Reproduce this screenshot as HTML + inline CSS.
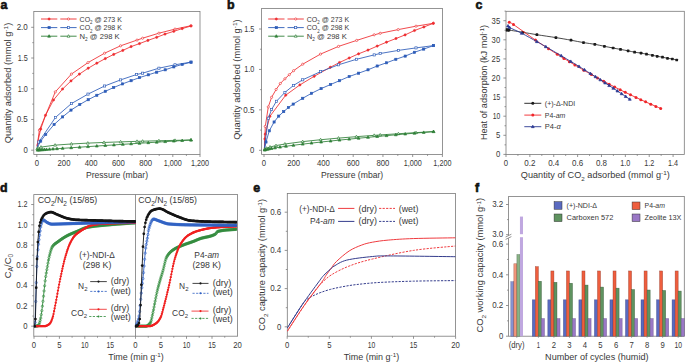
<!DOCTYPE html>
<html><head><meta charset="utf-8"><style>
html,body{margin:0;padding:0;background:#fff;width:685px;height:362px;overflow:hidden;position:relative}
svg text{font-family:"Liberation Sans",sans-serif}
</style></head><body>
<svg width="685" height="362" viewBox="0 0 685 362" style="position:absolute;left:0;top:0">
<rect width="685" height="362" fill="#fff"/>
<g font-family='"Liberation Sans", sans-serif'>
<rect x="33.8" y="11.5" width="166.2" height="142.9" fill="none" stroke="#7a7a7a" stroke-width="0.8"/>
<line x1="36.8" y1="154.4" x2="36.8" y2="157" stroke="#7a7a7a" stroke-width="0.8" />
<line x1="64" y1="154.4" x2="64" y2="157" stroke="#7a7a7a" stroke-width="0.8" />
<line x1="91.2" y1="154.4" x2="91.2" y2="157" stroke="#7a7a7a" stroke-width="0.8" />
<line x1="118.4" y1="154.4" x2="118.4" y2="157" stroke="#7a7a7a" stroke-width="0.8" />
<line x1="145.6" y1="154.4" x2="145.6" y2="157" stroke="#7a7a7a" stroke-width="0.8" />
<line x1="172.8" y1="154.4" x2="172.8" y2="157" stroke="#7a7a7a" stroke-width="0.8" />
<line x1="200" y1="154.4" x2="200" y2="157" stroke="#7a7a7a" stroke-width="0.8" />
<line x1="50.4" y1="154.4" x2="50.4" y2="155.9" stroke="#7a7a7a" stroke-width="0.8" />
<line x1="77.6" y1="154.4" x2="77.6" y2="155.9" stroke="#7a7a7a" stroke-width="0.8" />
<line x1="104.8" y1="154.4" x2="104.8" y2="155.9" stroke="#7a7a7a" stroke-width="0.8" />
<line x1="132" y1="154.4" x2="132" y2="155.9" stroke="#7a7a7a" stroke-width="0.8" />
<line x1="159.2" y1="154.4" x2="159.2" y2="155.9" stroke="#7a7a7a" stroke-width="0.8" />
<line x1="186.4" y1="154.4" x2="186.4" y2="155.9" stroke="#7a7a7a" stroke-width="0.8" />
<line x1="33.8" y1="150.2" x2="31.2" y2="150.2" stroke="#7a7a7a" stroke-width="0.8" />
<line x1="33.8" y1="119.47" x2="31.2" y2="119.47" stroke="#7a7a7a" stroke-width="0.8" />
<line x1="33.8" y1="88.75" x2="31.2" y2="88.75" stroke="#7a7a7a" stroke-width="0.8" />
<line x1="33.8" y1="58.02" x2="31.2" y2="58.02" stroke="#7a7a7a" stroke-width="0.8" />
<line x1="33.8" y1="27.3" x2="31.2" y2="27.3" stroke="#7a7a7a" stroke-width="0.8" />
<line x1="33.8" y1="134.84" x2="32.3" y2="134.84" stroke="#7a7a7a" stroke-width="0.8" />
<line x1="33.8" y1="104.11" x2="32.3" y2="104.11" stroke="#7a7a7a" stroke-width="0.8" />
<line x1="33.8" y1="73.39" x2="32.3" y2="73.39" stroke="#7a7a7a" stroke-width="0.8" />
<line x1="33.8" y1="42.66" x2="32.3" y2="42.66" stroke="#7a7a7a" stroke-width="0.8" />
<text x="36.8" y="165.9" font-size="8.4" text-anchor="middle" fill="#383838" textLength="4.3" lengthAdjust="spacingAndGlyphs" >0</text>
<text x="64" y="165.9" font-size="8.4" text-anchor="middle" fill="#383838" textLength="12.89" lengthAdjust="spacingAndGlyphs" >200</text>
<text x="91.2" y="165.9" font-size="8.4" text-anchor="middle" fill="#383838" textLength="12.89" lengthAdjust="spacingAndGlyphs" >400</text>
<text x="118.4" y="165.9" font-size="8.4" text-anchor="middle" fill="#383838" textLength="12.89" lengthAdjust="spacingAndGlyphs" >600</text>
<text x="145.6" y="165.9" font-size="8.4" text-anchor="middle" fill="#383838" textLength="12.89" lengthAdjust="spacingAndGlyphs" >800</text>
<text x="172.8" y="165.9" font-size="8.4" text-anchor="middle" fill="#383838" textLength="18.07" lengthAdjust="spacingAndGlyphs" >1,000</text>
<text x="200" y="165.9" font-size="8.4" text-anchor="middle" fill="#383838" textLength="18.07" lengthAdjust="spacingAndGlyphs" >1,200</text>
<text x="27.8" y="152.95" font-size="8.4" text-anchor="end" fill="#383838" textLength="4.3" lengthAdjust="spacingAndGlyphs" >0</text>
<text x="27.8" y="122.22" font-size="8.4" text-anchor="end" fill="#383838" textLength="11.15" lengthAdjust="spacingAndGlyphs" >0.5</text>
<text x="27.8" y="91.5" font-size="8.4" text-anchor="end" fill="#383838" textLength="10.09" lengthAdjust="spacingAndGlyphs" >1.0</text>
<text x="27.8" y="60.77" font-size="8.4" text-anchor="end" fill="#383838" textLength="10.09" lengthAdjust="spacingAndGlyphs" >1.5</text>
<text x="27.8" y="30.05" font-size="8.4" text-anchor="end" fill="#383838" textLength="11.15" lengthAdjust="spacingAndGlyphs" >2.0</text>
<text x="117" y="177.8" font-size="8.6" text-anchor="middle" fill="#383838" textLength="62.2" lengthAdjust="spacingAndGlyphs" >Pressure (mbar)</text>
<text x="11.3" y="83" font-size="8.6" text-anchor="middle" fill="#383838" textLength="120.5" lengthAdjust="spacingAndGlyphs" transform="rotate(-90 11.3 83)" >Quantity adsorbed (mmol g<tspan font-size="70%" dy="-2.8">-1</tspan><tspan dy="2.8">&#8203;</tspan>)</text>
<line x1="41" y1="19" x2="57.3" y2="19" stroke="#ee2b2e" stroke-width="0.9" />
<line x1="60.3" y1="19" x2="76.6" y2="19" stroke="#ee2b2e" stroke-width="0.9" />
<circle cx="49.1" cy="19" r="1.1" fill="#ee2b2e" stroke="#ee2b2e" stroke-width="0.65"/>
<circle cx="68.5" cy="19" r="1.1" fill="#fff" stroke="#ee2b2e" stroke-width="0.65"/>
<text x="79.6" y="21.5" font-size="7.2" text-anchor="start" fill="#383838" textLength="42.3" lengthAdjust="spacingAndGlyphs" >CO<tspan font-size="62%" dy="2.4">2</tspan><tspan dy="-2.4">&#8203;</tspan> @ 273 K</text>
<line x1="41" y1="27.6" x2="57.3" y2="27.6" stroke="#2d5cb8" stroke-width="0.9" />
<line x1="60.3" y1="27.6" x2="76.6" y2="27.6" stroke="#2d5cb8" stroke-width="0.9" />
<rect x="48.02" y="26.52" width="2.16" height="2.16" fill="#2d5cb8" stroke="#2d5cb8" stroke-width="0.65"/>
<rect x="67.42" y="26.52" width="2.16" height="2.16" fill="#fff" stroke="#2d5cb8" stroke-width="0.65"/>
<text x="79.6" y="30.1" font-size="7.2" text-anchor="start" fill="#383838" textLength="42.3" lengthAdjust="spacingAndGlyphs" >CO<tspan font-size="62%" dy="2.4">2</tspan><tspan dy="-2.4">&#8203;</tspan> @ 298 K</text>
<line x1="41" y1="36.2" x2="57.3" y2="36.2" stroke="#2f8038" stroke-width="0.9" />
<line x1="60.3" y1="36.2" x2="76.6" y2="36.2" stroke="#2f8038" stroke-width="0.9" />
<path d="M49.1,34.7 L50.52,37.18 L47.68,37.18Z" fill="#2f8038" stroke="#2f8038" stroke-width="0.7"/>
<path d="M68.5,34.7 L69.92,37.18 L67.08,37.18Z" fill="#fff" stroke="#2f8038" stroke-width="0.7"/>
<text x="79.6" y="38.7" font-size="7.2" text-anchor="start" fill="#383838" textLength="40" lengthAdjust="spacingAndGlyphs" >N<tspan font-size="62%" dy="2.4">2</tspan><tspan dy="-2.4">&#8203;</tspan> @ 298 K</text>
<polyline points="37.1,146.5 39.4,130.1 55.3,91.9 71.4,74.1 88,62.6 104.6,53.2 120.6,45.8 137,40.1 142.6,38.2 158.9,33.2 175,29.1 191,25.7" fill="none" stroke="#ee2b2e" stroke-width="0.85"/>
<circle cx="39.4" cy="130.1" r="1.1" fill="#fff" stroke="#ee2b2e" stroke-width="0.65"/>
<circle cx="55.3" cy="91.9" r="1.1" fill="#fff" stroke="#ee2b2e" stroke-width="0.65"/>
<circle cx="71.4" cy="74.1" r="1.1" fill="#fff" stroke="#ee2b2e" stroke-width="0.65"/>
<circle cx="88" cy="62.6" r="1.1" fill="#fff" stroke="#ee2b2e" stroke-width="0.65"/>
<circle cx="104.6" cy="53.2" r="1.1" fill="#fff" stroke="#ee2b2e" stroke-width="0.65"/>
<circle cx="120.6" cy="45.8" r="1.1" fill="#fff" stroke="#ee2b2e" stroke-width="0.65"/>
<circle cx="137" cy="40.1" r="1.1" fill="#fff" stroke="#ee2b2e" stroke-width="0.65"/>
<circle cx="142.6" cy="38.2" r="1.1" fill="#fff" stroke="#ee2b2e" stroke-width="0.65"/>
<circle cx="158.9" cy="33.2" r="1.1" fill="#fff" stroke="#ee2b2e" stroke-width="0.65"/>
<circle cx="175" cy="29.1" r="1.1" fill="#fff" stroke="#ee2b2e" stroke-width="0.65"/>
<circle cx="191" cy="25.7" r="1.1" fill="#fff" stroke="#ee2b2e" stroke-width="0.65"/>
<polyline points="36.9,145.8 40.7,129.1 45.5,115.3 53.5,100 62.6,89 71,80.9 79.4,74.1 88.2,68.2 96.8,63.2 105.3,58.6 113.7,54.4 122.8,50.4 131.1,46.6 139.5,43.6 147.9,40.4 156.7,37.3 165,34.1 173.8,31.3 182.2,28.6 191,26" fill="none" stroke="#ee2b2e" stroke-width="0.85"/>
<circle cx="40.7" cy="129.1" r="1.1" fill="#ee2b2e" stroke="#ee2b2e" stroke-width="0.65"/>
<circle cx="45.5" cy="115.3" r="1.1" fill="#ee2b2e" stroke="#ee2b2e" stroke-width="0.65"/>
<circle cx="53.5" cy="100" r="1.1" fill="#ee2b2e" stroke="#ee2b2e" stroke-width="0.65"/>
<circle cx="62.6" cy="89" r="1.1" fill="#ee2b2e" stroke="#ee2b2e" stroke-width="0.65"/>
<circle cx="71" cy="80.9" r="1.1" fill="#ee2b2e" stroke="#ee2b2e" stroke-width="0.65"/>
<circle cx="79.4" cy="74.1" r="1.1" fill="#ee2b2e" stroke="#ee2b2e" stroke-width="0.65"/>
<circle cx="88.2" cy="68.2" r="1.1" fill="#ee2b2e" stroke="#ee2b2e" stroke-width="0.65"/>
<circle cx="96.8" cy="63.2" r="1.1" fill="#ee2b2e" stroke="#ee2b2e" stroke-width="0.65"/>
<circle cx="105.3" cy="58.6" r="1.1" fill="#ee2b2e" stroke="#ee2b2e" stroke-width="0.65"/>
<circle cx="113.7" cy="54.4" r="1.1" fill="#ee2b2e" stroke="#ee2b2e" stroke-width="0.65"/>
<circle cx="122.8" cy="50.4" r="1.1" fill="#ee2b2e" stroke="#ee2b2e" stroke-width="0.65"/>
<circle cx="131.1" cy="46.6" r="1.1" fill="#ee2b2e" stroke="#ee2b2e" stroke-width="0.65"/>
<circle cx="139.5" cy="43.6" r="1.1" fill="#ee2b2e" stroke="#ee2b2e" stroke-width="0.65"/>
<circle cx="147.9" cy="40.4" r="1.1" fill="#ee2b2e" stroke="#ee2b2e" stroke-width="0.65"/>
<circle cx="156.7" cy="37.3" r="1.1" fill="#ee2b2e" stroke="#ee2b2e" stroke-width="0.65"/>
<circle cx="165" cy="34.1" r="1.1" fill="#ee2b2e" stroke="#ee2b2e" stroke-width="0.65"/>
<circle cx="173.8" cy="31.3" r="1.1" fill="#ee2b2e" stroke="#ee2b2e" stroke-width="0.65"/>
<circle cx="182.2" cy="28.6" r="1.1" fill="#ee2b2e" stroke="#ee2b2e" stroke-width="0.65"/>
<circle cx="191" cy="26" r="1.1" fill="#ee2b2e" stroke="#ee2b2e" stroke-width="0.65"/>
<polyline points="37.2,147 38.8,142 55.5,117.4 71.4,103.6 88,94.1 104.6,86 120.6,79.9 136.6,74.5 142.6,73.2 158.9,68.2 175,64.8 191,62.1" fill="none" stroke="#2d5cb8" stroke-width="0.85"/>
<rect x="37.72" y="140.92" width="2.16" height="2.16" fill="#fff" stroke="#2d5cb8" stroke-width="0.65"/>
<rect x="54.42" y="116.32" width="2.16" height="2.16" fill="#fff" stroke="#2d5cb8" stroke-width="0.65"/>
<rect x="70.32" y="102.52" width="2.16" height="2.16" fill="#fff" stroke="#2d5cb8" stroke-width="0.65"/>
<rect x="86.92" y="93.02" width="2.16" height="2.16" fill="#fff" stroke="#2d5cb8" stroke-width="0.65"/>
<rect x="103.52" y="84.92" width="2.16" height="2.16" fill="#fff" stroke="#2d5cb8" stroke-width="0.65"/>
<rect x="119.52" y="78.82" width="2.16" height="2.16" fill="#fff" stroke="#2d5cb8" stroke-width="0.65"/>
<rect x="135.52" y="73.42" width="2.16" height="2.16" fill="#fff" stroke="#2d5cb8" stroke-width="0.65"/>
<rect x="141.52" y="72.12" width="2.16" height="2.16" fill="#fff" stroke="#2d5cb8" stroke-width="0.65"/>
<rect x="157.82" y="67.12" width="2.16" height="2.16" fill="#fff" stroke="#2d5cb8" stroke-width="0.65"/>
<rect x="173.92" y="63.72" width="2.16" height="2.16" fill="#fff" stroke="#2d5cb8" stroke-width="0.65"/>
<rect x="189.92" y="61.02" width="2.16" height="2.16" fill="#fff" stroke="#2d5cb8" stroke-width="0.65"/>
<polyline points="37,148 40.7,141.1 45.7,134.5 54.1,124.5 62.6,116.9 71,110.1 79.8,104.5 88.2,99.7 96.8,95.3 105.3,91.3 113.7,87.5 122.5,83.9 131.1,80.7 139.5,77.6 148.3,74.8 156.7,72.2 165.2,69.8 173.8,66.9 182.2,64.4 191,62.2" fill="none" stroke="#2d5cb8" stroke-width="0.85"/>
<rect x="39.62" y="140.02" width="2.16" height="2.16" fill="#2d5cb8" stroke="#2d5cb8" stroke-width="0.65"/>
<rect x="44.62" y="133.42" width="2.16" height="2.16" fill="#2d5cb8" stroke="#2d5cb8" stroke-width="0.65"/>
<rect x="53.02" y="123.42" width="2.16" height="2.16" fill="#2d5cb8" stroke="#2d5cb8" stroke-width="0.65"/>
<rect x="61.52" y="115.82" width="2.16" height="2.16" fill="#2d5cb8" stroke="#2d5cb8" stroke-width="0.65"/>
<rect x="69.92" y="109.02" width="2.16" height="2.16" fill="#2d5cb8" stroke="#2d5cb8" stroke-width="0.65"/>
<rect x="78.72" y="103.42" width="2.16" height="2.16" fill="#2d5cb8" stroke="#2d5cb8" stroke-width="0.65"/>
<rect x="87.12" y="98.62" width="2.16" height="2.16" fill="#2d5cb8" stroke="#2d5cb8" stroke-width="0.65"/>
<rect x="95.72" y="94.22" width="2.16" height="2.16" fill="#2d5cb8" stroke="#2d5cb8" stroke-width="0.65"/>
<rect x="104.22" y="90.22" width="2.16" height="2.16" fill="#2d5cb8" stroke="#2d5cb8" stroke-width="0.65"/>
<rect x="112.62" y="86.42" width="2.16" height="2.16" fill="#2d5cb8" stroke="#2d5cb8" stroke-width="0.65"/>
<rect x="121.42" y="82.82" width="2.16" height="2.16" fill="#2d5cb8" stroke="#2d5cb8" stroke-width="0.65"/>
<rect x="130.02" y="79.62" width="2.16" height="2.16" fill="#2d5cb8" stroke="#2d5cb8" stroke-width="0.65"/>
<rect x="138.42" y="76.52" width="2.16" height="2.16" fill="#2d5cb8" stroke="#2d5cb8" stroke-width="0.65"/>
<rect x="147.22" y="73.72" width="2.16" height="2.16" fill="#2d5cb8" stroke="#2d5cb8" stroke-width="0.65"/>
<rect x="155.62" y="71.12" width="2.16" height="2.16" fill="#2d5cb8" stroke="#2d5cb8" stroke-width="0.65"/>
<rect x="164.12" y="68.72" width="2.16" height="2.16" fill="#2d5cb8" stroke="#2d5cb8" stroke-width="0.65"/>
<rect x="172.72" y="65.82" width="2.16" height="2.16" fill="#2d5cb8" stroke="#2d5cb8" stroke-width="0.65"/>
<rect x="181.12" y="63.32" width="2.16" height="2.16" fill="#2d5cb8" stroke="#2d5cb8" stroke-width="0.65"/>
<rect x="189.92" y="61.12" width="2.16" height="2.16" fill="#2d5cb8" stroke="#2d5cb8" stroke-width="0.65"/>
<polyline points="37.3,148.66 38.3,147.99 41,147.09 55.1,145.15 71.4,143.97 87.8,143.12 104,142.45 120.6,141.86 137,141.35 142.6,141.19 158.9,140.76 175,140.36 191,140" fill="none" stroke="#2f8038" stroke-width="0.85"/>
<path d="M37.3,147.16 L38.72,149.64 L35.88,149.64Z" fill="#fff" stroke="#2f8038" stroke-width="0.7"/>
<path d="M38.3,146.49 L39.72,148.96 L36.88,148.96Z" fill="#fff" stroke="#2f8038" stroke-width="0.7"/>
<path d="M41,145.59 L42.42,148.07 L39.58,148.07Z" fill="#fff" stroke="#2f8038" stroke-width="0.7"/>
<path d="M55.1,143.65 L56.52,146.13 L53.68,146.13Z" fill="#fff" stroke="#2f8038" stroke-width="0.7"/>
<path d="M71.4,142.47 L72.83,144.95 L69.98,144.95Z" fill="#fff" stroke="#2f8038" stroke-width="0.7"/>
<path d="M87.8,141.62 L89.22,144.1 L86.38,144.1Z" fill="#fff" stroke="#2f8038" stroke-width="0.7"/>
<path d="M104,140.95 L105.42,143.42 L102.58,143.42Z" fill="#fff" stroke="#2f8038" stroke-width="0.7"/>
<path d="M120.6,140.36 L122.02,142.83 L119.17,142.83Z" fill="#fff" stroke="#2f8038" stroke-width="0.7"/>
<path d="M137,139.85 L138.43,142.33 L135.57,142.33Z" fill="#fff" stroke="#2f8038" stroke-width="0.7"/>
<path d="M142.6,139.69 L144.03,142.17 L141.17,142.17Z" fill="#fff" stroke="#2f8038" stroke-width="0.7"/>
<path d="M158.9,139.26 L160.33,141.73 L157.47,141.73Z" fill="#fff" stroke="#2f8038" stroke-width="0.7"/>
<path d="M175,138.86 L176.43,141.34 L173.57,141.34Z" fill="#fff" stroke="#2f8038" stroke-width="0.7"/>
<path d="M191,138.5 L192.43,140.97 L189.57,140.97Z" fill="#fff" stroke="#2f8038" stroke-width="0.7"/>
<polyline points="37.5,150.14 38.6,150.05 39.8,149.96 41.2,149.85 42.8,149.73 44.5,149.61 46.5,149.46 49.5,149.25 53,149 57,148.72 62.6,148.33 71.2,147.75 79.6,147.18 88,146.62 96.8,146.04 105.3,145.48 113.9,144.92 122.8,144.34 131.1,143.81 139.5,143.27 148.3,142.7 156.7,142.17 165.2,141.63 173.8,141.08 182.2,140.55 191,140" fill="none" stroke="#2f8038" stroke-width="0.85"/>
<path d="M37.5,148.64 L38.92,151.11 L36.08,151.11Z" fill="#2f8038" stroke="#2f8038" stroke-width="0.7"/>
<path d="M38.6,148.55 L40.02,151.03 L37.18,151.03Z" fill="#2f8038" stroke="#2f8038" stroke-width="0.7"/>
<path d="M39.8,148.46 L41.22,150.93 L38.38,150.93Z" fill="#2f8038" stroke="#2f8038" stroke-width="0.7"/>
<path d="M41.2,148.35 L42.62,150.83 L39.78,150.83Z" fill="#2f8038" stroke="#2f8038" stroke-width="0.7"/>
<path d="M42.8,148.23 L44.22,150.71 L41.38,150.71Z" fill="#2f8038" stroke="#2f8038" stroke-width="0.7"/>
<path d="M44.5,148.11 L45.92,150.58 L43.08,150.58Z" fill="#2f8038" stroke="#2f8038" stroke-width="0.7"/>
<path d="M46.5,147.96 L47.92,150.44 L45.08,150.44Z" fill="#2f8038" stroke="#2f8038" stroke-width="0.7"/>
<path d="M49.5,147.75 L50.92,150.22 L48.08,150.22Z" fill="#2f8038" stroke="#2f8038" stroke-width="0.7"/>
<path d="M53,147.5 L54.42,149.98 L51.58,149.98Z" fill="#2f8038" stroke="#2f8038" stroke-width="0.7"/>
<path d="M57,147.22 L58.42,149.7 L55.58,149.7Z" fill="#2f8038" stroke="#2f8038" stroke-width="0.7"/>
<path d="M62.6,146.83 L64.03,149.31 L61.18,149.31Z" fill="#2f8038" stroke="#2f8038" stroke-width="0.7"/>
<path d="M71.2,146.25 L72.62,148.72 L69.78,148.72Z" fill="#2f8038" stroke="#2f8038" stroke-width="0.7"/>
<path d="M79.6,145.68 L81.02,148.16 L78.17,148.16Z" fill="#2f8038" stroke="#2f8038" stroke-width="0.7"/>
<path d="M88,145.12 L89.42,147.6 L86.58,147.6Z" fill="#2f8038" stroke="#2f8038" stroke-width="0.7"/>
<path d="M96.8,144.54 L98.22,147.01 L95.38,147.01Z" fill="#2f8038" stroke="#2f8038" stroke-width="0.7"/>
<path d="M105.3,143.98 L106.72,146.46 L103.88,146.46Z" fill="#2f8038" stroke="#2f8038" stroke-width="0.7"/>
<path d="M113.9,143.42 L115.33,145.9 L112.48,145.9Z" fill="#2f8038" stroke="#2f8038" stroke-width="0.7"/>
<path d="M122.8,142.84 L124.22,145.32 L121.38,145.32Z" fill="#2f8038" stroke="#2f8038" stroke-width="0.7"/>
<path d="M131.1,142.31 L132.53,144.78 L129.67,144.78Z" fill="#2f8038" stroke="#2f8038" stroke-width="0.7"/>
<path d="M139.5,141.77 L140.93,144.24 L138.07,144.24Z" fill="#2f8038" stroke="#2f8038" stroke-width="0.7"/>
<path d="M148.3,141.2 L149.73,143.68 L146.88,143.68Z" fill="#2f8038" stroke="#2f8038" stroke-width="0.7"/>
<path d="M156.7,140.67 L158.12,143.14 L155.27,143.14Z" fill="#2f8038" stroke="#2f8038" stroke-width="0.7"/>
<path d="M165.2,140.13 L166.62,142.6 L163.77,142.6Z" fill="#2f8038" stroke="#2f8038" stroke-width="0.7"/>
<path d="M173.8,139.58 L175.23,142.06 L172.38,142.06Z" fill="#2f8038" stroke="#2f8038" stroke-width="0.7"/>
<path d="M182.2,139.05 L183.62,141.53 L180.77,141.53Z" fill="#2f8038" stroke="#2f8038" stroke-width="0.7"/>
<path d="M191,138.5 L192.43,140.97 L189.57,140.97Z" fill="#2f8038" stroke="#2f8038" stroke-width="0.7"/>
<text x="0.5" y="9" font-size="12.4" text-anchor="start" fill="#111" font-weight="bold" stroke="#111" stroke-width="0.6">a</text>
<rect x="261.6" y="8.4" width="180.8" height="146" fill="none" stroke="#7a7a7a" stroke-width="0.8"/>
<line x1="264" y1="154.4" x2="264" y2="157" stroke="#7a7a7a" stroke-width="0.8" />
<line x1="293.73" y1="154.4" x2="293.73" y2="157" stroke="#7a7a7a" stroke-width="0.8" />
<line x1="323.47" y1="154.4" x2="323.47" y2="157" stroke="#7a7a7a" stroke-width="0.8" />
<line x1="353.2" y1="154.4" x2="353.2" y2="157" stroke="#7a7a7a" stroke-width="0.8" />
<line x1="382.94" y1="154.4" x2="382.94" y2="157" stroke="#7a7a7a" stroke-width="0.8" />
<line x1="412.67" y1="154.4" x2="412.67" y2="157" stroke="#7a7a7a" stroke-width="0.8" />
<line x1="442.4" y1="154.4" x2="442.4" y2="157" stroke="#7a7a7a" stroke-width="0.8" />
<line x1="278.87" y1="154.4" x2="278.87" y2="155.9" stroke="#7a7a7a" stroke-width="0.8" />
<line x1="308.6" y1="154.4" x2="308.6" y2="155.9" stroke="#7a7a7a" stroke-width="0.8" />
<line x1="338.33" y1="154.4" x2="338.33" y2="155.9" stroke="#7a7a7a" stroke-width="0.8" />
<line x1="368.07" y1="154.4" x2="368.07" y2="155.9" stroke="#7a7a7a" stroke-width="0.8" />
<line x1="397.8" y1="154.4" x2="397.8" y2="155.9" stroke="#7a7a7a" stroke-width="0.8" />
<line x1="427.54" y1="154.4" x2="427.54" y2="155.9" stroke="#7a7a7a" stroke-width="0.8" />
<line x1="261.6" y1="150.3" x2="259" y2="150.3" stroke="#7a7a7a" stroke-width="0.8" />
<line x1="261.6" y1="109.87" x2="259" y2="109.87" stroke="#7a7a7a" stroke-width="0.8" />
<line x1="261.6" y1="69.43" x2="259" y2="69.43" stroke="#7a7a7a" stroke-width="0.8" />
<line x1="261.6" y1="29" x2="259" y2="29" stroke="#7a7a7a" stroke-width="0.8" />
<line x1="261.6" y1="130.08" x2="260.1" y2="130.08" stroke="#7a7a7a" stroke-width="0.8" />
<line x1="261.6" y1="89.65" x2="260.1" y2="89.65" stroke="#7a7a7a" stroke-width="0.8" />
<line x1="261.6" y1="49.21" x2="260.1" y2="49.21" stroke="#7a7a7a" stroke-width="0.8" />
<text x="264" y="165.9" font-size="8.4" text-anchor="middle" fill="#383838" textLength="4.3" lengthAdjust="spacingAndGlyphs" >0</text>
<text x="293.73" y="165.9" font-size="8.4" text-anchor="middle" fill="#383838" textLength="12.89" lengthAdjust="spacingAndGlyphs" >200</text>
<text x="323.47" y="165.9" font-size="8.4" text-anchor="middle" fill="#383838" textLength="12.89" lengthAdjust="spacingAndGlyphs" >400</text>
<text x="353.2" y="165.9" font-size="8.4" text-anchor="middle" fill="#383838" textLength="12.89" lengthAdjust="spacingAndGlyphs" >600</text>
<text x="382.94" y="165.9" font-size="8.4" text-anchor="middle" fill="#383838" textLength="12.89" lengthAdjust="spacingAndGlyphs" >800</text>
<text x="412.67" y="165.9" font-size="8.4" text-anchor="middle" fill="#383838" textLength="18.07" lengthAdjust="spacingAndGlyphs" >1,000</text>
<text x="442.4" y="165.9" font-size="8.4" text-anchor="middle" fill="#383838" textLength="18.07" lengthAdjust="spacingAndGlyphs" >1,200</text>
<text x="254.4" y="153.05" font-size="8.4" text-anchor="end" fill="#383838" textLength="4.3" lengthAdjust="spacingAndGlyphs" >0</text>
<text x="254.4" y="112.62" font-size="8.4" text-anchor="end" fill="#383838" textLength="11.15" lengthAdjust="spacingAndGlyphs" >0.5</text>
<text x="254.4" y="72.18" font-size="8.4" text-anchor="end" fill="#383838" textLength="10.09" lengthAdjust="spacingAndGlyphs" >1.0</text>
<text x="254.4" y="31.75" font-size="8.4" text-anchor="end" fill="#383838" textLength="10.09" lengthAdjust="spacingAndGlyphs" >1.5</text>
<text x="352.1" y="177.8" font-size="8.6" text-anchor="middle" fill="#383838" textLength="62.2" lengthAdjust="spacingAndGlyphs" >Pressure (mbar)</text>
<text x="239.6" y="79.6" font-size="8.6" text-anchor="middle" fill="#383838" textLength="120.5" lengthAdjust="spacingAndGlyphs" transform="rotate(-90 239.6 79.6)" >Quantity adsorbed (mmol g<tspan font-size="70%" dy="-2.8">-1</tspan><tspan dy="2.8">&#8203;</tspan>)</text>
<line x1="268.2" y1="19" x2="284.5" y2="19" stroke="#ee2b2e" stroke-width="0.9" />
<line x1="287.5" y1="19" x2="303.8" y2="19" stroke="#ee2b2e" stroke-width="0.9" />
<circle cx="276.3" cy="19" r="1.1" fill="#ee2b2e" stroke="#ee2b2e" stroke-width="0.65"/>
<circle cx="295.7" cy="19" r="1.1" fill="#fff" stroke="#ee2b2e" stroke-width="0.65"/>
<text x="306.8" y="21.5" font-size="7.2" text-anchor="start" fill="#383838" textLength="42.3" lengthAdjust="spacingAndGlyphs" >CO<tspan font-size="62%" dy="2.4">2</tspan><tspan dy="-2.4">&#8203;</tspan> @ 273 K</text>
<line x1="268.2" y1="27.6" x2="284.5" y2="27.6" stroke="#2d5cb8" stroke-width="0.9" />
<line x1="287.5" y1="27.6" x2="303.8" y2="27.6" stroke="#2d5cb8" stroke-width="0.9" />
<rect x="275.22" y="26.52" width="2.16" height="2.16" fill="#2d5cb8" stroke="#2d5cb8" stroke-width="0.65"/>
<rect x="294.62" y="26.52" width="2.16" height="2.16" fill="#fff" stroke="#2d5cb8" stroke-width="0.65"/>
<text x="306.8" y="30.1" font-size="7.2" text-anchor="start" fill="#383838" textLength="42.3" lengthAdjust="spacingAndGlyphs" >CO<tspan font-size="62%" dy="2.4">2</tspan><tspan dy="-2.4">&#8203;</tspan> @ 298 K</text>
<line x1="268.2" y1="36.2" x2="284.5" y2="36.2" stroke="#2f8038" stroke-width="0.9" />
<line x1="287.5" y1="36.2" x2="303.8" y2="36.2" stroke="#2f8038" stroke-width="0.9" />
<path d="M276.3,34.7 L277.73,37.18 L274.88,37.18Z" fill="#2f8038" stroke="#2f8038" stroke-width="0.7"/>
<path d="M295.7,34.7 L297.12,37.18 L294.27,37.18Z" fill="#fff" stroke="#2f8038" stroke-width="0.7"/>
<text x="306.8" y="38.7" font-size="7.2" text-anchor="start" fill="#383838" textLength="40" lengthAdjust="spacingAndGlyphs" >N<tspan font-size="62%" dy="2.4">2</tspan><tspan dy="-2.4">&#8203;</tspan> @ 298 K</text>
<polyline points="264.4,150 265.3,126.4 268.3,106.9 271.6,97.3 276.1,89.5 280.3,83.5 284.9,78.8 289.3,74.7 293.6,70.7 302.7,64.2 320.5,54.1 338.5,46.4 356.7,40.4 374.2,34.8 380.2,33.3 398.2,29.6 416,26.2 433.3,23.3" fill="none" stroke="#ee2b2e" stroke-width="0.85"/>
<circle cx="265.3" cy="126.4" r="1.1" fill="#fff" stroke="#ee2b2e" stroke-width="0.65"/>
<circle cx="268.3" cy="106.9" r="1.1" fill="#fff" stroke="#ee2b2e" stroke-width="0.65"/>
<circle cx="271.6" cy="97.3" r="1.1" fill="#fff" stroke="#ee2b2e" stroke-width="0.65"/>
<circle cx="276.1" cy="89.5" r="1.1" fill="#fff" stroke="#ee2b2e" stroke-width="0.65"/>
<circle cx="280.3" cy="83.5" r="1.1" fill="#fff" stroke="#ee2b2e" stroke-width="0.65"/>
<circle cx="284.9" cy="78.8" r="1.1" fill="#fff" stroke="#ee2b2e" stroke-width="0.65"/>
<circle cx="289.3" cy="74.7" r="1.1" fill="#fff" stroke="#ee2b2e" stroke-width="0.65"/>
<circle cx="293.6" cy="70.7" r="1.1" fill="#fff" stroke="#ee2b2e" stroke-width="0.65"/>
<circle cx="302.7" cy="64.2" r="1.1" fill="#fff" stroke="#ee2b2e" stroke-width="0.65"/>
<circle cx="320.5" cy="54.1" r="1.1" fill="#fff" stroke="#ee2b2e" stroke-width="0.65"/>
<circle cx="338.5" cy="46.4" r="1.1" fill="#fff" stroke="#ee2b2e" stroke-width="0.65"/>
<circle cx="356.7" cy="40.4" r="1.1" fill="#fff" stroke="#ee2b2e" stroke-width="0.65"/>
<circle cx="374.2" cy="34.8" r="1.1" fill="#fff" stroke="#ee2b2e" stroke-width="0.65"/>
<circle cx="380.2" cy="33.3" r="1.1" fill="#fff" stroke="#ee2b2e" stroke-width="0.65"/>
<circle cx="398.2" cy="29.6" r="1.1" fill="#fff" stroke="#ee2b2e" stroke-width="0.65"/>
<circle cx="416" cy="26.2" r="1.1" fill="#fff" stroke="#ee2b2e" stroke-width="0.65"/>
<circle cx="433.3" cy="23.3" r="1.1" fill="#fff" stroke="#ee2b2e" stroke-width="0.65"/>
<polyline points="264.3,150.3 264.9,138.9 265.3,134.1 269.9,116.3 285.7,95.2 299.9,84.9 314.2,76.3 330.3,67.3 339.5,62.5 349.2,58 358.6,53.8 368,50.1 377.2,46.1 386.5,42.2 396,38.5 405.1,34.9 414.5,30.5 423.9,27 433.3,23.3" fill="none" stroke="#ee2b2e" stroke-width="0.85"/>
<circle cx="264.9" cy="138.9" r="1.1" fill="#ee2b2e" stroke="#ee2b2e" stroke-width="0.65"/>
<circle cx="265.3" cy="134.1" r="1.1" fill="#ee2b2e" stroke="#ee2b2e" stroke-width="0.65"/>
<circle cx="269.9" cy="116.3" r="1.1" fill="#ee2b2e" stroke="#ee2b2e" stroke-width="0.65"/>
<circle cx="285.7" cy="95.2" r="1.1" fill="#ee2b2e" stroke="#ee2b2e" stroke-width="0.65"/>
<circle cx="299.9" cy="84.9" r="1.1" fill="#ee2b2e" stroke="#ee2b2e" stroke-width="0.65"/>
<circle cx="314.2" cy="76.3" r="1.1" fill="#ee2b2e" stroke="#ee2b2e" stroke-width="0.65"/>
<circle cx="330.3" cy="67.3" r="1.1" fill="#ee2b2e" stroke="#ee2b2e" stroke-width="0.65"/>
<circle cx="339.5" cy="62.5" r="1.1" fill="#ee2b2e" stroke="#ee2b2e" stroke-width="0.65"/>
<circle cx="349.2" cy="58" r="1.1" fill="#ee2b2e" stroke="#ee2b2e" stroke-width="0.65"/>
<circle cx="358.6" cy="53.8" r="1.1" fill="#ee2b2e" stroke="#ee2b2e" stroke-width="0.65"/>
<circle cx="368" cy="50.1" r="1.1" fill="#ee2b2e" stroke="#ee2b2e" stroke-width="0.65"/>
<circle cx="377.2" cy="46.1" r="1.1" fill="#ee2b2e" stroke="#ee2b2e" stroke-width="0.65"/>
<circle cx="386.5" cy="42.2" r="1.1" fill="#ee2b2e" stroke="#ee2b2e" stroke-width="0.65"/>
<circle cx="396" cy="38.5" r="1.1" fill="#ee2b2e" stroke="#ee2b2e" stroke-width="0.65"/>
<circle cx="405.1" cy="34.9" r="1.1" fill="#ee2b2e" stroke="#ee2b2e" stroke-width="0.65"/>
<circle cx="414.5" cy="30.5" r="1.1" fill="#ee2b2e" stroke="#ee2b2e" stroke-width="0.65"/>
<circle cx="423.9" cy="27" r="1.1" fill="#ee2b2e" stroke="#ee2b2e" stroke-width="0.65"/>
<circle cx="433.3" cy="23.3" r="1.1" fill="#ee2b2e" stroke="#ee2b2e" stroke-width="0.65"/>
<polyline points="264.4,148 268.3,118.2 271.6,109.4 276.4,101.3 284.9,92.4 293.6,85.4 302.7,79.8 320.6,71.6 338.5,64.8 356.4,59.3 374.2,54.9 380.2,53.5 398.4,50.4 416,47.9 433.5,45.6" fill="none" stroke="#2d5cb8" stroke-width="0.85"/>
<rect x="267.22" y="117.12" width="2.16" height="2.16" fill="#fff" stroke="#2d5cb8" stroke-width="0.65"/>
<rect x="270.52" y="108.32" width="2.16" height="2.16" fill="#fff" stroke="#2d5cb8" stroke-width="0.65"/>
<rect x="275.32" y="100.22" width="2.16" height="2.16" fill="#fff" stroke="#2d5cb8" stroke-width="0.65"/>
<rect x="283.82" y="91.32" width="2.16" height="2.16" fill="#fff" stroke="#2d5cb8" stroke-width="0.65"/>
<rect x="292.52" y="84.32" width="2.16" height="2.16" fill="#fff" stroke="#2d5cb8" stroke-width="0.65"/>
<rect x="301.62" y="78.72" width="2.16" height="2.16" fill="#fff" stroke="#2d5cb8" stroke-width="0.65"/>
<rect x="319.52" y="70.52" width="2.16" height="2.16" fill="#fff" stroke="#2d5cb8" stroke-width="0.65"/>
<rect x="337.42" y="63.72" width="2.16" height="2.16" fill="#fff" stroke="#2d5cb8" stroke-width="0.65"/>
<rect x="355.32" y="58.22" width="2.16" height="2.16" fill="#fff" stroke="#2d5cb8" stroke-width="0.65"/>
<rect x="373.12" y="53.82" width="2.16" height="2.16" fill="#fff" stroke="#2d5cb8" stroke-width="0.65"/>
<rect x="379.12" y="52.42" width="2.16" height="2.16" fill="#fff" stroke="#2d5cb8" stroke-width="0.65"/>
<rect x="397.32" y="49.32" width="2.16" height="2.16" fill="#fff" stroke="#2d5cb8" stroke-width="0.65"/>
<rect x="414.92" y="46.82" width="2.16" height="2.16" fill="#fff" stroke="#2d5cb8" stroke-width="0.65"/>
<rect x="432.42" y="44.52" width="2.16" height="2.16" fill="#fff" stroke="#2d5cb8" stroke-width="0.65"/>
<polyline points="264.2,151 266,142 269.3,130.8 274.1,122 278.7,116.1 283.7,111.6 288.4,107.5 293.2,104.1 302.7,98.3 311.5,93.3 321.1,88.6 330.6,84.5 339.5,80.7 349.2,76.5 358.6,73.2 368,69.8 377.2,66 386.5,62.8 395.8,59.3 405.2,56.1 414.4,52.3 423.7,49.1 433.5,45.6" fill="none" stroke="#2d5cb8" stroke-width="0.85"/>
<rect x="264.92" y="140.92" width="2.16" height="2.16" fill="#2d5cb8" stroke="#2d5cb8" stroke-width="0.65"/>
<rect x="268.22" y="129.72" width="2.16" height="2.16" fill="#2d5cb8" stroke="#2d5cb8" stroke-width="0.65"/>
<rect x="273.02" y="120.92" width="2.16" height="2.16" fill="#2d5cb8" stroke="#2d5cb8" stroke-width="0.65"/>
<rect x="277.62" y="115.02" width="2.16" height="2.16" fill="#2d5cb8" stroke="#2d5cb8" stroke-width="0.65"/>
<rect x="282.62" y="110.52" width="2.16" height="2.16" fill="#2d5cb8" stroke="#2d5cb8" stroke-width="0.65"/>
<rect x="287.32" y="106.42" width="2.16" height="2.16" fill="#2d5cb8" stroke="#2d5cb8" stroke-width="0.65"/>
<rect x="292.12" y="103.02" width="2.16" height="2.16" fill="#2d5cb8" stroke="#2d5cb8" stroke-width="0.65"/>
<rect x="301.62" y="97.22" width="2.16" height="2.16" fill="#2d5cb8" stroke="#2d5cb8" stroke-width="0.65"/>
<rect x="310.42" y="92.22" width="2.16" height="2.16" fill="#2d5cb8" stroke="#2d5cb8" stroke-width="0.65"/>
<rect x="320.02" y="87.52" width="2.16" height="2.16" fill="#2d5cb8" stroke="#2d5cb8" stroke-width="0.65"/>
<rect x="329.52" y="83.42" width="2.16" height="2.16" fill="#2d5cb8" stroke="#2d5cb8" stroke-width="0.65"/>
<rect x="338.42" y="79.62" width="2.16" height="2.16" fill="#2d5cb8" stroke="#2d5cb8" stroke-width="0.65"/>
<rect x="348.12" y="75.42" width="2.16" height="2.16" fill="#2d5cb8" stroke="#2d5cb8" stroke-width="0.65"/>
<rect x="357.52" y="72.12" width="2.16" height="2.16" fill="#2d5cb8" stroke="#2d5cb8" stroke-width="0.65"/>
<rect x="366.92" y="68.72" width="2.16" height="2.16" fill="#2d5cb8" stroke="#2d5cb8" stroke-width="0.65"/>
<rect x="376.12" y="64.92" width="2.16" height="2.16" fill="#2d5cb8" stroke="#2d5cb8" stroke-width="0.65"/>
<rect x="385.42" y="61.72" width="2.16" height="2.16" fill="#2d5cb8" stroke="#2d5cb8" stroke-width="0.65"/>
<rect x="394.72" y="58.22" width="2.16" height="2.16" fill="#2d5cb8" stroke="#2d5cb8" stroke-width="0.65"/>
<rect x="404.12" y="55.02" width="2.16" height="2.16" fill="#2d5cb8" stroke="#2d5cb8" stroke-width="0.65"/>
<rect x="413.32" y="51.22" width="2.16" height="2.16" fill="#2d5cb8" stroke="#2d5cb8" stroke-width="0.65"/>
<rect x="422.62" y="48.02" width="2.16" height="2.16" fill="#2d5cb8" stroke="#2d5cb8" stroke-width="0.65"/>
<rect x="432.42" y="44.52" width="2.16" height="2.16" fill="#2d5cb8" stroke="#2d5cb8" stroke-width="0.65"/>
<polyline points="264.8,149.15 266.5,148.21 270,147.01 276,145.58 284.9,144 302.7,141.62 320.6,139.73 338.5,138.1 356.4,136.66 374.2,135.35 380.2,134.93 398.4,133.73 416,132.63 433.5,131.6" fill="none" stroke="#2f8038" stroke-width="0.85"/>
<path d="M264.8,147.65 L266.23,150.12 L263.38,150.12Z" fill="#fff" stroke="#2f8038" stroke-width="0.7"/>
<path d="M266.5,146.71 L267.93,149.19 L265.07,149.19Z" fill="#fff" stroke="#2f8038" stroke-width="0.7"/>
<path d="M270,145.51 L271.43,147.98 L268.57,147.98Z" fill="#fff" stroke="#2f8038" stroke-width="0.7"/>
<path d="M276,144.08 L277.43,146.56 L274.57,146.56Z" fill="#fff" stroke="#2f8038" stroke-width="0.7"/>
<path d="M284.9,142.5 L286.32,144.98 L283.47,144.98Z" fill="#fff" stroke="#2f8038" stroke-width="0.7"/>
<path d="M302.7,140.12 L304.12,142.6 L301.27,142.6Z" fill="#fff" stroke="#2f8038" stroke-width="0.7"/>
<path d="M320.6,138.23 L322.03,140.7 L319.18,140.7Z" fill="#fff" stroke="#2f8038" stroke-width="0.7"/>
<path d="M338.5,136.6 L339.93,139.08 L337.07,139.08Z" fill="#fff" stroke="#2f8038" stroke-width="0.7"/>
<path d="M356.4,135.16 L357.82,137.63 L354.97,137.63Z" fill="#fff" stroke="#2f8038" stroke-width="0.7"/>
<path d="M374.2,133.85 L375.62,136.33 L372.77,136.33Z" fill="#fff" stroke="#2f8038" stroke-width="0.7"/>
<path d="M380.2,133.43 L381.62,135.91 L378.77,135.91Z" fill="#fff" stroke="#2f8038" stroke-width="0.7"/>
<path d="M398.4,132.23 L399.82,134.7 L396.97,134.7Z" fill="#fff" stroke="#2f8038" stroke-width="0.7"/>
<path d="M416,131.13 L417.43,133.61 L414.57,133.61Z" fill="#fff" stroke="#2f8038" stroke-width="0.7"/>
<path d="M433.5,130.1 L434.93,132.57 L432.07,132.57Z" fill="#fff" stroke="#2f8038" stroke-width="0.7"/>
<polyline points="264.6,150.03 265.5,149.76 267,149.39 269,148.97 271.5,148.5 275,147.9 280,147.12 286,146.26 293.4,145.27 302.7,144.12 311.5,143.1 321.1,142.03 330.6,141.02 339.5,140.1 349.2,139.14 358.6,138.23 368,137.34 377.2,136.49 386.5,135.64 395.8,134.82 405.2,133.99 414.4,133.2 423.7,132.42 433.5,131.6" fill="none" stroke="#2f8038" stroke-width="0.85"/>
<path d="M264.6,148.53 L266.03,151 L263.18,151Z" fill="#2f8038" stroke="#2f8038" stroke-width="0.7"/>
<path d="M265.5,148.26 L266.93,150.74 L264.07,150.74Z" fill="#2f8038" stroke="#2f8038" stroke-width="0.7"/>
<path d="M267,147.89 L268.43,150.37 L265.57,150.37Z" fill="#2f8038" stroke="#2f8038" stroke-width="0.7"/>
<path d="M269,147.47 L270.43,149.94 L267.57,149.94Z" fill="#2f8038" stroke="#2f8038" stroke-width="0.7"/>
<path d="M271.5,147 L272.93,149.47 L270.07,149.47Z" fill="#2f8038" stroke="#2f8038" stroke-width="0.7"/>
<path d="M275,146.4 L276.43,148.87 L273.57,148.87Z" fill="#2f8038" stroke="#2f8038" stroke-width="0.7"/>
<path d="M280,145.62 L281.43,148.09 L278.57,148.09Z" fill="#2f8038" stroke="#2f8038" stroke-width="0.7"/>
<path d="M286,144.76 L287.43,147.23 L284.57,147.23Z" fill="#2f8038" stroke="#2f8038" stroke-width="0.7"/>
<path d="M293.4,143.77 L294.82,146.25 L291.97,146.25Z" fill="#2f8038" stroke="#2f8038" stroke-width="0.7"/>
<path d="M302.7,142.62 L304.12,145.1 L301.27,145.1Z" fill="#2f8038" stroke="#2f8038" stroke-width="0.7"/>
<path d="M311.5,141.6 L312.93,144.07 L310.07,144.07Z" fill="#2f8038" stroke="#2f8038" stroke-width="0.7"/>
<path d="M321.1,140.53 L322.53,143.01 L319.68,143.01Z" fill="#2f8038" stroke="#2f8038" stroke-width="0.7"/>
<path d="M330.6,139.52 L332.03,141.99 L329.18,141.99Z" fill="#2f8038" stroke="#2f8038" stroke-width="0.7"/>
<path d="M339.5,138.6 L340.93,141.08 L338.07,141.08Z" fill="#2f8038" stroke="#2f8038" stroke-width="0.7"/>
<path d="M349.2,137.64 L350.62,140.11 L347.77,140.11Z" fill="#2f8038" stroke="#2f8038" stroke-width="0.7"/>
<path d="M358.6,136.73 L360.03,139.2 L357.18,139.2Z" fill="#2f8038" stroke="#2f8038" stroke-width="0.7"/>
<path d="M368,135.84 L369.43,138.31 L366.57,138.31Z" fill="#2f8038" stroke="#2f8038" stroke-width="0.7"/>
<path d="M377.2,134.99 L378.62,137.46 L375.77,137.46Z" fill="#2f8038" stroke="#2f8038" stroke-width="0.7"/>
<path d="M386.5,134.14 L387.93,136.62 L385.07,136.62Z" fill="#2f8038" stroke="#2f8038" stroke-width="0.7"/>
<path d="M395.8,133.32 L397.23,135.79 L394.38,135.79Z" fill="#2f8038" stroke="#2f8038" stroke-width="0.7"/>
<path d="M405.2,132.49 L406.62,134.97 L403.77,134.97Z" fill="#2f8038" stroke="#2f8038" stroke-width="0.7"/>
<path d="M414.4,131.7 L415.82,134.18 L412.97,134.18Z" fill="#2f8038" stroke="#2f8038" stroke-width="0.7"/>
<path d="M423.7,130.92 L425.12,133.39 L422.27,133.39Z" fill="#2f8038" stroke="#2f8038" stroke-width="0.7"/>
<path d="M433.5,130.1 L434.93,132.57 L432.07,132.57Z" fill="#2f8038" stroke="#2f8038" stroke-width="0.7"/>
<text x="226.9" y="8.8" font-size="12.4" text-anchor="start" fill="#111" font-weight="bold" stroke="#111" stroke-width="0.6">b</text>
<rect x="506" y="11.3" width="178.3" height="143.1" fill="none" stroke="#7a7a7a" stroke-width="0.8"/>
<line x1="506" y1="154.4" x2="506" y2="157" stroke="#7a7a7a" stroke-width="0.8" />
<line x1="529.87" y1="154.4" x2="529.87" y2="157" stroke="#7a7a7a" stroke-width="0.8" />
<line x1="553.74" y1="154.4" x2="553.74" y2="157" stroke="#7a7a7a" stroke-width="0.8" />
<line x1="577.61" y1="154.4" x2="577.61" y2="157" stroke="#7a7a7a" stroke-width="0.8" />
<line x1="601.48" y1="154.4" x2="601.48" y2="157" stroke="#7a7a7a" stroke-width="0.8" />
<line x1="625.35" y1="154.4" x2="625.35" y2="157" stroke="#7a7a7a" stroke-width="0.8" />
<line x1="649.22" y1="154.4" x2="649.22" y2="157" stroke="#7a7a7a" stroke-width="0.8" />
<line x1="673.09" y1="154.4" x2="673.09" y2="157" stroke="#7a7a7a" stroke-width="0.8" />
<line x1="517.93" y1="154.4" x2="517.93" y2="155.9" stroke="#7a7a7a" stroke-width="0.8" />
<line x1="541.81" y1="154.4" x2="541.81" y2="155.9" stroke="#7a7a7a" stroke-width="0.8" />
<line x1="565.67" y1="154.4" x2="565.67" y2="155.9" stroke="#7a7a7a" stroke-width="0.8" />
<line x1="589.54" y1="154.4" x2="589.54" y2="155.9" stroke="#7a7a7a" stroke-width="0.8" />
<line x1="613.41" y1="154.4" x2="613.41" y2="155.9" stroke="#7a7a7a" stroke-width="0.8" />
<line x1="637.28" y1="154.4" x2="637.28" y2="155.9" stroke="#7a7a7a" stroke-width="0.8" />
<line x1="661.15" y1="154.4" x2="661.15" y2="155.9" stroke="#7a7a7a" stroke-width="0.8" />
<line x1="506" y1="154.4" x2="503.4" y2="154.4" stroke="#7a7a7a" stroke-width="0.8" />
<line x1="506" y1="135.3" x2="503.4" y2="135.3" stroke="#7a7a7a" stroke-width="0.8" />
<line x1="506" y1="116.2" x2="503.4" y2="116.2" stroke="#7a7a7a" stroke-width="0.8" />
<line x1="506" y1="97.1" x2="503.4" y2="97.1" stroke="#7a7a7a" stroke-width="0.8" />
<line x1="506" y1="78" x2="503.4" y2="78" stroke="#7a7a7a" stroke-width="0.8" />
<line x1="506" y1="58.9" x2="503.4" y2="58.9" stroke="#7a7a7a" stroke-width="0.8" />
<line x1="506" y1="39.8" x2="503.4" y2="39.8" stroke="#7a7a7a" stroke-width="0.8" />
<line x1="506" y1="20.7" x2="503.4" y2="20.7" stroke="#7a7a7a" stroke-width="0.8" />
<line x1="506" y1="144.85" x2="504.5" y2="144.85" stroke="#7a7a7a" stroke-width="0.8" />
<line x1="506" y1="125.75" x2="504.5" y2="125.75" stroke="#7a7a7a" stroke-width="0.8" />
<line x1="506" y1="106.65" x2="504.5" y2="106.65" stroke="#7a7a7a" stroke-width="0.8" />
<line x1="506" y1="87.55" x2="504.5" y2="87.55" stroke="#7a7a7a" stroke-width="0.8" />
<line x1="506" y1="68.45" x2="504.5" y2="68.45" stroke="#7a7a7a" stroke-width="0.8" />
<line x1="506" y1="49.35" x2="504.5" y2="49.35" stroke="#7a7a7a" stroke-width="0.8" />
<line x1="506" y1="30.25" x2="504.5" y2="30.25" stroke="#7a7a7a" stroke-width="0.8" />
<line x1="506" y1="11.15" x2="504.5" y2="11.15" stroke="#7a7a7a" stroke-width="0.8" />
<text x="506" y="165.9" font-size="8.4" text-anchor="middle" fill="#383838" textLength="4.3" lengthAdjust="spacingAndGlyphs" >0</text>
<text x="529.87" y="165.9" font-size="8.4" text-anchor="middle" fill="#383838" textLength="11.15" lengthAdjust="spacingAndGlyphs" >0.2</text>
<text x="553.74" y="165.9" font-size="8.4" text-anchor="middle" fill="#383838" textLength="11.15" lengthAdjust="spacingAndGlyphs" >0.4</text>
<text x="577.61" y="165.9" font-size="8.4" text-anchor="middle" fill="#383838" textLength="11.15" lengthAdjust="spacingAndGlyphs" >0.6</text>
<text x="601.48" y="165.9" font-size="8.4" text-anchor="middle" fill="#383838" textLength="11.15" lengthAdjust="spacingAndGlyphs" >0.8</text>
<text x="625.35" y="165.9" font-size="8.4" text-anchor="middle" fill="#383838" textLength="10.09" lengthAdjust="spacingAndGlyphs" >1.0</text>
<text x="649.22" y="165.9" font-size="8.4" text-anchor="middle" fill="#383838" textLength="10.09" lengthAdjust="spacingAndGlyphs" >1.2</text>
<text x="673.09" y="165.9" font-size="8.4" text-anchor="middle" fill="#383838" textLength="10.09" lengthAdjust="spacingAndGlyphs" >1.4</text>
<text x="500.2" y="157.3" font-size="8.4" text-anchor="end" fill="#383838" textLength="4.3" lengthAdjust="spacingAndGlyphs" >0</text>
<text x="500.2" y="138.2" font-size="8.4" text-anchor="end" fill="#383838" textLength="4.3" lengthAdjust="spacingAndGlyphs" >5</text>
<text x="500.2" y="119.1" font-size="8.4" text-anchor="end" fill="#383838" textLength="7.54" lengthAdjust="spacingAndGlyphs" >10</text>
<text x="500.2" y="100" font-size="8.4" text-anchor="end" fill="#383838" textLength="7.54" lengthAdjust="spacingAndGlyphs" >15</text>
<text x="500.2" y="80.9" font-size="8.4" text-anchor="end" fill="#383838" textLength="8.6" lengthAdjust="spacingAndGlyphs" >20</text>
<text x="500.2" y="61.8" font-size="8.4" text-anchor="end" fill="#383838" textLength="8.6" lengthAdjust="spacingAndGlyphs" >25</text>
<text x="500.2" y="42.7" font-size="8.4" text-anchor="end" fill="#383838" textLength="8.6" lengthAdjust="spacingAndGlyphs" >30</text>
<text x="500.2" y="23.6" font-size="8.4" text-anchor="end" fill="#383838" textLength="8.6" lengthAdjust="spacingAndGlyphs" >35</text>
<text x="595.3" y="177.8" font-size="8.6" text-anchor="middle" fill="#383838" textLength="149" lengthAdjust="spacingAndGlyphs" >Quantity of CO<tspan font-size="68%" dy="2.9">2</tspan><tspan dy="-2.9">&#8203;</tspan> adsorbed (mmol g<tspan font-size="70%" dy="-2.8">-1</tspan><tspan dy="2.8">&#8203;</tspan>)</text>
<text x="487.2" y="82.5" font-size="8.6" text-anchor="middle" fill="#383838" textLength="115.2" lengthAdjust="spacingAndGlyphs" transform="rotate(-90 487.2 82.5)" >Heat of adsorption (kJ mol<tspan font-size="70%" dy="-2.8">-1</tspan><tspan dy="2.8">&#8203;</tspan>)</text>
<path d="M507.5,30 C507.75,30.02 506.42,29.72 509,30.1 C511.58,30.48 518.35,31.53 523,32.3 C527.65,33.07 531.42,33.82 536.9,34.7 C542.38,35.58 550.22,36.68 555.9,37.6 C561.58,38.52 566.4,39.37 571,40.2 C575.6,41.03 579.53,41.92 583.5,42.6 C587.47,43.28 591.32,43.68 594.8,44.3 C598.28,44.92 601.35,45.68 604.4,46.3 C607.45,46.92 610.42,47.48 613.1,48 C615.78,48.52 618,48.93 620.5,49.4 C623,49.87 625.75,50.33 628.1,50.8 C630.45,51.27 632.45,51.82 634.6,52.2 C636.75,52.58 639.02,52.77 641,53.1 C642.98,53.43 644.6,53.83 646.5,54.2 C648.4,54.57 650.62,54.95 652.4,55.3 C654.18,55.65 655.52,55.98 657.2,56.3 C658.88,56.62 660.78,56.87 662.5,57.2 C664.22,57.53 665.87,58 667.5,58.3 C669.13,58.6 670.77,58.72 672.3,59 C673.83,59.28 675.97,59.83 676.7,60" fill="none" stroke="#1a1a1a" stroke-width="0.8" />
<rect x="505.8" y="28.2" width="3.4" height="3.4" fill="#1a1a1a"/>
<rect x="507.65" y="28.75" width="2.7" height="2.7" rx="0.6" fill="#1a1a1a"/>
<rect x="521.65" y="30.95" width="2.7" height="2.7" rx="0.6" fill="#1a1a1a"/>
<rect x="535.55" y="33.35" width="2.7" height="2.7" rx="0.6" fill="#1a1a1a"/>
<rect x="554.55" y="36.25" width="2.7" height="2.7" rx="0.6" fill="#1a1a1a"/>
<rect x="569.65" y="38.85" width="2.7" height="2.7" rx="0.6" fill="#1a1a1a"/>
<rect x="582.15" y="41.25" width="2.7" height="2.7" rx="0.6" fill="#1a1a1a"/>
<rect x="593.45" y="42.95" width="2.7" height="2.7" rx="0.6" fill="#1a1a1a"/>
<rect x="603.05" y="44.95" width="2.7" height="2.7" rx="0.6" fill="#1a1a1a"/>
<rect x="611.75" y="46.65" width="2.7" height="2.7" rx="0.6" fill="#1a1a1a"/>
<rect x="619.15" y="48.05" width="2.7" height="2.7" rx="0.6" fill="#1a1a1a"/>
<rect x="626.75" y="49.45" width="2.7" height="2.7" rx="0.6" fill="#1a1a1a"/>
<rect x="633.25" y="50.85" width="2.7" height="2.7" rx="0.6" fill="#1a1a1a"/>
<rect x="639.65" y="51.75" width="2.7" height="2.7" rx="0.6" fill="#1a1a1a"/>
<rect x="645.15" y="52.85" width="2.7" height="2.7" rx="0.6" fill="#1a1a1a"/>
<rect x="651.05" y="53.95" width="2.7" height="2.7" rx="0.6" fill="#1a1a1a"/>
<rect x="655.85" y="54.95" width="2.7" height="2.7" rx="0.6" fill="#1a1a1a"/>
<rect x="661.15" y="55.85" width="2.7" height="2.7" rx="0.6" fill="#1a1a1a"/>
<rect x="666.15" y="56.95" width="2.7" height="2.7" rx="0.6" fill="#1a1a1a"/>
<rect x="670.95" y="57.65" width="2.7" height="2.7" rx="0.6" fill="#1a1a1a"/>
<rect x="675.35" y="58.65" width="2.7" height="2.7" rx="0.6" fill="#1a1a1a"/>
<path d="M509.3,22.2 C510,22.6 509.13,21.62 513.5,24.6 C517.87,27.58 529.67,36.09 535.5,40.1 C541.33,44.11 544.87,46.31 548.5,48.67 C552.13,51.03 554.73,52.66 557.3,54.28 C559.87,55.89 561.88,57.14 563.9,58.38 C565.92,59.62 567.57,60.62 569.4,61.73 C571.23,62.84 572.5,63.61 574.9,65.02 C577.3,66.43 581.05,68.63 583.8,70.22 C586.55,71.8 589.12,73.24 591.4,74.52 C593.68,75.81 595.45,76.78 597.5,77.9 C599.55,79.02 601.75,80.21 603.7,81.25 C605.65,82.3 607.37,83.2 609.2,84.16 C611.03,85.12 612.87,86.07 614.7,87.01 C616.53,87.95 618.43,88.91 620.2,89.8 C621.97,90.68 623.58,91.48 625.3,92.33 C627.02,93.17 628.72,93.99 630.5,94.85 C632.28,95.71 634.28,96.65 636,97.46 C637.72,98.27 639.2,98.96 640.8,99.69 C642.4,100.43 643.93,101.12 645.6,101.87 C647.27,102.62 649.08,103.43 650.8,104.18 C652.52,104.94 654.25,105.69 655.9,106.4 C657.55,107.11 659.9,108.1 660.7,108.43" fill="none" stroke="#f0262a" stroke-width="0.9" />
<circle cx="509.3" cy="22.2" r="1.5" fill="#f0262a"/>
<circle cx="513.5" cy="24.6" r="1.5" fill="#f0262a"/>
<circle cx="535.5" cy="40.1" r="1.5" fill="#f0262a"/>
<circle cx="548.5" cy="48.67" r="1.5" fill="#f0262a"/>
<circle cx="557.3" cy="54.28" r="1.5" fill="#f0262a"/>
<circle cx="563.9" cy="58.38" r="1.5" fill="#f0262a"/>
<circle cx="569.4" cy="61.73" r="1.5" fill="#f0262a"/>
<circle cx="574.9" cy="65.02" r="1.5" fill="#f0262a"/>
<circle cx="583.8" cy="70.22" r="1.5" fill="#f0262a"/>
<circle cx="591.4" cy="74.52" r="1.5" fill="#f0262a"/>
<circle cx="597.5" cy="77.9" r="1.5" fill="#f0262a"/>
<circle cx="603.7" cy="81.25" r="1.5" fill="#f0262a"/>
<circle cx="609.2" cy="84.16" r="1.5" fill="#f0262a"/>
<circle cx="614.7" cy="87.01" r="1.5" fill="#f0262a"/>
<circle cx="620.2" cy="89.8" r="1.5" fill="#f0262a"/>
<circle cx="625.3" cy="92.33" r="1.5" fill="#f0262a"/>
<circle cx="630.5" cy="94.85" r="1.5" fill="#f0262a"/>
<circle cx="636" cy="97.46" r="1.5" fill="#f0262a"/>
<circle cx="640.8" cy="99.69" r="1.5" fill="#f0262a"/>
<circle cx="645.6" cy="101.87" r="1.5" fill="#f0262a"/>
<circle cx="650.8" cy="104.18" r="1.5" fill="#f0262a"/>
<circle cx="655.9" cy="106.4" r="1.5" fill="#f0262a"/>
<circle cx="660.7" cy="108.43" r="1.5" fill="#f0262a"/>
<path d="M508,26 C508.25,26.25 507.22,26.29 509.5,27.5 C511.78,28.71 517.13,30.9 521.7,33.26 C526.27,35.62 532.88,39.42 536.9,41.66 C540.92,43.91 541.75,44.38 545.8,46.72 C549.85,49.06 557.03,53.24 561.2,55.7 C565.37,58.15 567.83,59.66 570.8,61.45 C573.77,63.24 576.72,65.05 579,66.45 C581.28,67.85 582.6,68.67 584.5,69.85 C586.4,71.03 588.57,72.39 590.4,73.54 C592.23,74.69 593.85,75.72 595.5,76.77 C597.15,77.82 598.7,78.81 600.3,79.83 C601.9,80.86 603.62,81.97 605.1,82.93 C606.58,83.89 607.83,84.7 609.2,85.59 C610.57,86.49 611.93,87.38 613.3,88.28 C614.67,89.18 616.02,90.07 617.4,90.99 C618.78,91.91 620.22,92.86 621.6,93.78 C622.98,94.71 624.33,95.61 625.7,96.53 C627.07,97.45 629.12,98.84 629.8,99.31" fill="none" stroke="#2b3a92" stroke-width="0.9" />
<path d="M508,24.5 L509.43,26.98 L506.57,26.98Z" fill="#2b3a92" stroke="#2b3a92" stroke-width="0.7"/>
<path d="M509.5,26 L510.93,28.48 L508.07,28.48Z" fill="#2b3a92" stroke="#2b3a92" stroke-width="0.7"/>
<path d="M521.7,31.76 L523.12,34.23 L520.28,34.23Z" fill="#2b3a92" stroke="#2b3a92" stroke-width="0.7"/>
<path d="M536.9,40.16 L538.32,42.64 L535.48,42.64Z" fill="#2b3a92" stroke="#2b3a92" stroke-width="0.7"/>
<path d="M545.8,45.22 L547.22,47.69 L544.38,47.69Z" fill="#2b3a92" stroke="#2b3a92" stroke-width="0.7"/>
<path d="M561.2,54.2 L562.62,56.67 L559.78,56.67Z" fill="#2b3a92" stroke="#2b3a92" stroke-width="0.7"/>
<path d="M570.8,59.95 L572.22,62.42 L569.38,62.42Z" fill="#2b3a92" stroke="#2b3a92" stroke-width="0.7"/>
<path d="M579,64.95 L580.42,67.42 L577.58,67.42Z" fill="#2b3a92" stroke="#2b3a92" stroke-width="0.7"/>
<path d="M584.5,68.35 L585.92,70.83 L583.08,70.83Z" fill="#2b3a92" stroke="#2b3a92" stroke-width="0.7"/>
<path d="M590.4,72.04 L591.82,74.52 L588.98,74.52Z" fill="#2b3a92" stroke="#2b3a92" stroke-width="0.7"/>
<path d="M595.5,75.27 L596.92,77.74 L594.08,77.74Z" fill="#2b3a92" stroke="#2b3a92" stroke-width="0.7"/>
<path d="M600.3,78.33 L601.72,80.81 L598.88,80.81Z" fill="#2b3a92" stroke="#2b3a92" stroke-width="0.7"/>
<path d="M605.1,81.43 L606.52,83.9 L603.68,83.9Z" fill="#2b3a92" stroke="#2b3a92" stroke-width="0.7"/>
<path d="M609.2,84.09 L610.62,86.57 L607.78,86.57Z" fill="#2b3a92" stroke="#2b3a92" stroke-width="0.7"/>
<path d="M613.3,86.78 L614.72,89.25 L611.88,89.25Z" fill="#2b3a92" stroke="#2b3a92" stroke-width="0.7"/>
<path d="M617.4,89.49 L618.82,91.96 L615.98,91.96Z" fill="#2b3a92" stroke="#2b3a92" stroke-width="0.7"/>
<path d="M621.6,92.28 L623.02,94.76 L620.18,94.76Z" fill="#2b3a92" stroke="#2b3a92" stroke-width="0.7"/>
<path d="M625.7,95.03 L627.12,97.51 L624.28,97.51Z" fill="#2b3a92" stroke="#2b3a92" stroke-width="0.7"/>
<path d="M629.8,97.81 L631.22,100.28 L628.38,100.28Z" fill="#2b3a92" stroke="#2b3a92" stroke-width="0.7"/>
<line x1="524.3" y1="103.3" x2="541.3" y2="103.3" stroke="#1a1a1a" stroke-width="0.9" />
<circle cx="532.8" cy="103.3" r="1.5" fill="#1a1a1a"/>
<text x="544.8" y="105.7" font-size="7" text-anchor="start" fill="#383838" textLength="30.4" lengthAdjust="spacingAndGlyphs" >(+)-&#916;-NDI</text>
<line x1="524.3" y1="115.1" x2="541.3" y2="115.1" stroke="#f0262a" stroke-width="0.9" />
<circle cx="532.8" cy="115.1" r="1.5" fill="#f0262a"/>
<text x="544.8" y="117.5" font-size="7" text-anchor="start" fill="#383838" textLength="20.5" lengthAdjust="spacingAndGlyphs" >P4-<tspan font-style="italic">am</tspan></text>
<line x1="524.3" y1="126.7" x2="541.3" y2="126.7" stroke="#2b3a92" stroke-width="0.9" />
<path d="M532.8,125.2 L534.22,127.67 L531.38,127.67Z" fill="#2b3a92" stroke="#2b3a92" stroke-width="0.7"/>
<text x="544.8" y="129.1" font-size="7" text-anchor="start" fill="#383838" textLength="16" lengthAdjust="spacingAndGlyphs" >P4-<tspan font-style="italic">&#945;</tspan></text>
<text x="475.4" y="9.4" font-size="12.4" text-anchor="start" fill="#111" font-weight="bold" stroke="#111" stroke-width="0.6">c</text>
<rect x="33.8" y="194.6" width="203.8" height="141.6" fill="none" stroke="#7a7a7a" stroke-width="0.8"/>
<line x1="135.5" y1="194.6" x2="135.5" y2="336.2" stroke="#7a7a7a" stroke-width="0.8" />
<line x1="33.8" y1="326.2" x2="31.2" y2="326.2" stroke="#7a7a7a" stroke-width="0.8" />
<line x1="33.8" y1="305.92" x2="31.2" y2="305.92" stroke="#7a7a7a" stroke-width="0.8" />
<line x1="33.8" y1="285.64" x2="31.2" y2="285.64" stroke="#7a7a7a" stroke-width="0.8" />
<line x1="33.8" y1="265.36" x2="31.2" y2="265.36" stroke="#7a7a7a" stroke-width="0.8" />
<line x1="33.8" y1="245.08" x2="31.2" y2="245.08" stroke="#7a7a7a" stroke-width="0.8" />
<line x1="33.8" y1="224.8" x2="31.2" y2="224.8" stroke="#7a7a7a" stroke-width="0.8" />
<line x1="33.8" y1="204.52" x2="31.2" y2="204.52" stroke="#7a7a7a" stroke-width="0.8" />
<line x1="33.8" y1="316.06" x2="32.3" y2="316.06" stroke="#7a7a7a" stroke-width="0.8" />
<line x1="33.8" y1="295.78" x2="32.3" y2="295.78" stroke="#7a7a7a" stroke-width="0.8" />
<line x1="33.8" y1="275.5" x2="32.3" y2="275.5" stroke="#7a7a7a" stroke-width="0.8" />
<line x1="33.8" y1="255.22" x2="32.3" y2="255.22" stroke="#7a7a7a" stroke-width="0.8" />
<line x1="33.8" y1="234.94" x2="32.3" y2="234.94" stroke="#7a7a7a" stroke-width="0.8" />
<line x1="33.8" y1="214.66" x2="32.3" y2="214.66" stroke="#7a7a7a" stroke-width="0.8" />
<text x="27.5" y="328.95" font-size="8.4" text-anchor="end" fill="#383838" textLength="4.3" lengthAdjust="spacingAndGlyphs" >0</text>
<text x="27.5" y="308.67" font-size="8.4" text-anchor="end" fill="#383838" textLength="11.15" lengthAdjust="spacingAndGlyphs" >0.2</text>
<text x="27.5" y="288.39" font-size="8.4" text-anchor="end" fill="#383838" textLength="11.15" lengthAdjust="spacingAndGlyphs" >0.4</text>
<text x="27.5" y="268.11" font-size="8.4" text-anchor="end" fill="#383838" textLength="11.15" lengthAdjust="spacingAndGlyphs" >0.6</text>
<text x="27.5" y="247.83" font-size="8.4" text-anchor="end" fill="#383838" textLength="11.15" lengthAdjust="spacingAndGlyphs" >0.8</text>
<text x="27.5" y="227.55" font-size="8.4" text-anchor="end" fill="#383838" textLength="10.09" lengthAdjust="spacingAndGlyphs" >1.0</text>
<text x="27.5" y="207.27" font-size="8.4" text-anchor="end" fill="#383838" textLength="10.09" lengthAdjust="spacingAndGlyphs" >1.2</text>
<line x1="34" y1="336.2" x2="34" y2="338.8" stroke="#7a7a7a" stroke-width="0.8" />
<line x1="59.4" y1="336.2" x2="59.4" y2="338.8" stroke="#7a7a7a" stroke-width="0.8" />
<line x1="84.8" y1="336.2" x2="84.8" y2="338.8" stroke="#7a7a7a" stroke-width="0.8" />
<line x1="110.2" y1="336.2" x2="110.2" y2="338.8" stroke="#7a7a7a" stroke-width="0.8" />
<line x1="46.7" y1="336.2" x2="46.7" y2="337.7" stroke="#7a7a7a" stroke-width="0.8" />
<line x1="72.1" y1="336.2" x2="72.1" y2="337.7" stroke="#7a7a7a" stroke-width="0.8" />
<line x1="97.5" y1="336.2" x2="97.5" y2="337.7" stroke="#7a7a7a" stroke-width="0.8" />
<line x1="122.9" y1="336.2" x2="122.9" y2="337.7" stroke="#7a7a7a" stroke-width="0.8" />
<text x="34" y="348" font-size="8.4" text-anchor="middle" fill="#383838" textLength="4.3" lengthAdjust="spacingAndGlyphs" >0</text>
<text x="59.4" y="348" font-size="8.4" text-anchor="middle" fill="#383838" textLength="4.3" lengthAdjust="spacingAndGlyphs" >5</text>
<text x="84.8" y="348" font-size="8.4" text-anchor="middle" fill="#383838" textLength="7.54" lengthAdjust="spacingAndGlyphs" >10</text>
<text x="110.2" y="348" font-size="8.4" text-anchor="middle" fill="#383838" textLength="7.54" lengthAdjust="spacingAndGlyphs" >15</text>
<line x1="135.5" y1="336.2" x2="135.5" y2="338.8" stroke="#7a7a7a" stroke-width="0.8" />
<line x1="161" y1="336.2" x2="161" y2="338.8" stroke="#7a7a7a" stroke-width="0.8" />
<line x1="186.5" y1="336.2" x2="186.5" y2="338.8" stroke="#7a7a7a" stroke-width="0.8" />
<line x1="212" y1="336.2" x2="212" y2="338.8" stroke="#7a7a7a" stroke-width="0.8" />
<line x1="148.25" y1="336.2" x2="148.25" y2="337.7" stroke="#7a7a7a" stroke-width="0.8" />
<line x1="173.75" y1="336.2" x2="173.75" y2="337.7" stroke="#7a7a7a" stroke-width="0.8" />
<line x1="199.25" y1="336.2" x2="199.25" y2="337.7" stroke="#7a7a7a" stroke-width="0.8" />
<line x1="224.75" y1="336.2" x2="224.75" y2="337.7" stroke="#7a7a7a" stroke-width="0.8" />
<text x="135.5" y="348" font-size="8.4" text-anchor="middle" fill="#383838" textLength="4.3" lengthAdjust="spacingAndGlyphs" >0</text>
<text x="161" y="348" font-size="8.4" text-anchor="middle" fill="#383838" textLength="4.3" lengthAdjust="spacingAndGlyphs" >5</text>
<text x="186.5" y="348" font-size="8.4" text-anchor="middle" fill="#383838" textLength="7.54" lengthAdjust="spacingAndGlyphs" >10</text>
<text x="212" y="348" font-size="8.4" text-anchor="middle" fill="#383838" textLength="7.54" lengthAdjust="spacingAndGlyphs" >15</text>
<text x="237.5" y="348" font-size="8.4" text-anchor="middle" fill="#383838" textLength="8.6" lengthAdjust="spacingAndGlyphs" >20</text>
<text x="136" y="359.8" font-size="8.6" text-anchor="middle" fill="#383838" textLength="55.5" lengthAdjust="spacingAndGlyphs" >Time (min g<tspan font-size="70%" dy="-2.8">-1</tspan><tspan dy="2.8">&#8203;</tspan>)</text>
<text x="10.5" y="266" font-size="8.8" text-anchor="middle" fill="#383838" textLength="24.6" lengthAdjust="spacingAndGlyphs" transform="rotate(-90 10.5 266)">C<tspan font-size="72%" dy="2.2">A</tspan><tspan dy="-2.2">/C</tspan><tspan font-size="72%" dy="2.2">0</tspan></text>
<text x="37.7" y="203.4" font-size="8.6" text-anchor="start" fill="#383838" textLength="59.6" lengthAdjust="spacingAndGlyphs" >CO<tspan font-size="74%" dy="2.4">2</tspan><tspan dy="-2.4">&#8203;</tspan>/N<tspan font-size="74%" dy="2.4">2</tspan><tspan dy="-2.4">&#8203;</tspan> (15/85)</text>
<text x="138.2" y="203.4" font-size="8.6" text-anchor="start" fill="#383838" textLength="58.8" lengthAdjust="spacingAndGlyphs" >CO<tspan font-size="74%" dy="2.4">2</tspan><tspan dy="-2.4">&#8203;</tspan>/N<tspan font-size="74%" dy="2.4">2</tspan><tspan dy="-2.4">&#8203;</tspan> (15/85)</text>
<text x="97" y="257.8" font-size="8.4" text-anchor="middle" fill="#383838" textLength="35.6" lengthAdjust="spacingAndGlyphs" >(+)-NDI-&#916;</text>
<text x="97" y="267.9" font-size="8.4" text-anchor="middle" fill="#383838" textLength="28.7" lengthAdjust="spacingAndGlyphs" >(298 K)</text>
<text x="206.7" y="257.9" font-size="8.4" text-anchor="middle" fill="#383838" textLength="24.8" lengthAdjust="spacingAndGlyphs" >P4-<tspan font-style="italic">am</tspan></text>
<text x="206.7" y="268" font-size="8.4" text-anchor="middle" fill="#383838" textLength="28.6" lengthAdjust="spacingAndGlyphs" >(298 K)</text>
<clipPath id="cp34"><rect x="33.8" y="194.6" width="101.9" height="141.6"/></clipPath>
<g clip-path="url(#cp34)">
<polyline points="34.6,326.2 35.16,326.13 35.71,326.08 36.27,326.03 36.83,325.96 37.38,325.88 37.94,325.76 38.5,325.46 39.05,324.36 39.61,322.64 40.17,320.59 40.72,318.11 41.28,314.62 41.84,310.7 42.39,306.19 42.95,301.3 43.51,296.22 44.06,290.94 44.62,285.81 45.18,280.77 45.73,276.54 46.29,272.98 46.85,269.72 47.4,266.5 47.96,263.19 48.52,260.07 49.07,257.44 49.63,255.13 50.18,252.91 50.74,250.87 51.3,249.09 51.85,247.64 52.41,246.6 52.97,245.85 53.52,245.2 54.08,244.63 54.64,244.13 55.19,243.69 55.75,243.28 56.31,242.9 56.86,242.52 57.42,242.14 57.98,241.73 58.53,241.32 59.09,240.9 59.65,240.5 60.2,240.1 60.76,239.7 61.32,239.31 61.87,238.93 62.43,238.56 62.99,238.2 63.54,237.84 64.1,237.49 64.66,237.15 65.21,236.81 65.77,236.49 66.33,236.17 66.88,235.87 67.44,235.57 68,235.29 68.55,235.01 69.11,234.75 69.67,234.49 70.22,234.24 70.78,233.99 71.34,233.75 71.89,233.51 72.45,233.28 73.01,233.05 73.56,232.83 74.12,232.6 74.68,232.38 75.23,232.16 75.79,231.93 76.34,231.7 76.9,231.48 77.46,231.24 78.01,231 78.57,230.75 79.13,230.49 79.68,230.23 80.24,229.97 80.8,229.71 81.35,229.45 81.91,229.2 82.47,228.95 83.02,228.7 83.58,228.47 84.14,228.25 84.69,228.05 85.25,227.86 85.81,227.68 86.36,227.53 86.92,227.4 87.48,227.29 88.03,227.18 88.59,227.08 89.15,226.98 89.7,226.89 90.26,226.8 90.82,226.71 91.37,226.63 91.93,226.55 92.49,226.47 93.04,226.39 93.6,226.32 94.16,226.24 94.71,226.17 95.27,226.11 95.83,226.04 96.38,225.98 96.94,225.92 97.5,225.86 98.05,225.8 98.61,225.74 99.17,225.69 99.72,225.63 100.28,225.58 100.84,225.53 101.39,225.47 101.95,225.42 102.51,225.37 103.06,225.32 103.62,225.27 104.17,225.23 104.73,225.18 105.29,225.13 105.84,225.08 106.4,225.03 106.96,224.98 107.51,224.93 108.07,224.88 108.63,224.83 109.18,224.78 109.74,224.73 110.3,224.68 110.85,224.63 111.41,224.58 111.97,224.53 112.52,224.49 113.08,224.44 113.64,224.39 114.19,224.35 114.75,224.3 115.31,224.26 115.86,224.22 116.42,224.17 116.98,224.13 117.53,224.09 118.09,224.04 118.65,224 119.2,223.96 119.76,223.92 120.32,223.88 120.87,223.84 121.43,223.8 121.99,223.76 122.54,223.72 123.1,223.68 123.66,223.64 124.21,223.6 124.77,223.56 125.33,223.52 125.88,223.48 126.44,223.44 127,223.41 127.55,223.37 128.11,223.33 128.67,223.29 129.22,223.25 129.78,223.21 130.34,223.17 130.89,223.13 131.45,223.09 132,223.05 132.56,223.01 133.12,222.97 133.67,222.93 134.23,222.89 134.79,222.85 135.34,222.81 135.9,222.76 136.46,222.72" fill="none" stroke="#2f8a3a" stroke-width="0.9"/>
<g fill="none" stroke="#2f8a3a" stroke-width="0.6"><circle cx="34.6" cy="326.2" r="1.15"/><circle cx="35.16" cy="326.13" r="1.15"/><circle cx="35.71" cy="326.08" r="1.15"/><circle cx="36.27" cy="326.03" r="1.15"/><circle cx="36.83" cy="325.96" r="1.15"/><circle cx="37.38" cy="325.88" r="1.15"/><circle cx="37.94" cy="325.76" r="1.15"/><circle cx="38.5" cy="325.46" r="1.15"/><circle cx="39.05" cy="324.36" r="1.15"/><circle cx="39.61" cy="322.64" r="1.15"/><circle cx="40.17" cy="320.59" r="1.15"/><circle cx="40.72" cy="318.11" r="1.15"/><circle cx="41.28" cy="314.62" r="1.15"/><circle cx="41.84" cy="310.7" r="1.15"/><circle cx="42.39" cy="306.19" r="1.15"/><circle cx="42.95" cy="301.3" r="1.15"/><circle cx="43.51" cy="296.22" r="1.15"/><circle cx="44.06" cy="290.94" r="1.15"/><circle cx="44.62" cy="285.81" r="1.15"/><circle cx="45.18" cy="280.77" r="1.15"/><circle cx="45.73" cy="276.54" r="1.15"/><circle cx="46.29" cy="272.98" r="1.15"/><circle cx="46.85" cy="269.72" r="1.15"/><circle cx="47.4" cy="266.5" r="1.15"/><circle cx="47.96" cy="263.19" r="1.15"/><circle cx="48.52" cy="260.07" r="1.15"/><circle cx="49.07" cy="257.44" r="1.15"/><circle cx="49.63" cy="255.13" r="1.15"/><circle cx="50.18" cy="252.91" r="1.15"/><circle cx="50.74" cy="250.87" r="1.15"/><circle cx="51.3" cy="249.09" r="1.15"/><circle cx="51.85" cy="247.64" r="1.15"/><circle cx="52.41" cy="246.6" r="1.15"/><circle cx="52.97" cy="245.85" r="1.15"/><circle cx="53.52" cy="245.2" r="1.15"/><circle cx="54.08" cy="244.63" r="1.15"/><circle cx="54.64" cy="244.13" r="1.15"/><circle cx="55.19" cy="243.69" r="1.15"/><circle cx="55.75" cy="243.28" r="1.15"/><circle cx="56.31" cy="242.9" r="1.15"/><circle cx="56.86" cy="242.52" r="1.15"/><circle cx="57.42" cy="242.14" r="1.15"/><circle cx="57.98" cy="241.73" r="1.15"/><circle cx="58.53" cy="241.32" r="1.15"/><circle cx="59.09" cy="240.9" r="1.15"/><circle cx="59.65" cy="240.5" r="1.15"/><circle cx="60.2" cy="240.1" r="1.15"/><circle cx="60.76" cy="239.7" r="1.15"/><circle cx="61.32" cy="239.31" r="1.15"/><circle cx="61.87" cy="238.93" r="1.15"/><circle cx="62.43" cy="238.56" r="1.15"/><circle cx="62.99" cy="238.2" r="1.15"/><circle cx="63.54" cy="237.84" r="1.15"/><circle cx="64.1" cy="237.49" r="1.15"/><circle cx="64.66" cy="237.15" r="1.15"/><circle cx="65.21" cy="236.81" r="1.15"/><circle cx="65.77" cy="236.49" r="1.15"/><circle cx="66.33" cy="236.17" r="1.15"/><circle cx="66.88" cy="235.87" r="1.15"/><circle cx="67.44" cy="235.57" r="1.15"/><circle cx="68" cy="235.29" r="1.15"/><circle cx="68.55" cy="235.01" r="1.15"/><circle cx="69.11" cy="234.75" r="1.15"/><circle cx="69.67" cy="234.49" r="1.15"/><circle cx="70.22" cy="234.24" r="1.15"/><circle cx="70.78" cy="233.99" r="1.15"/><circle cx="71.34" cy="233.75" r="1.15"/><circle cx="71.89" cy="233.51" r="1.15"/><circle cx="72.45" cy="233.28" r="1.15"/><circle cx="73.01" cy="233.05" r="1.15"/><circle cx="73.56" cy="232.83" r="1.15"/><circle cx="74.12" cy="232.6" r="1.15"/><circle cx="74.68" cy="232.38" r="1.15"/><circle cx="75.23" cy="232.16" r="1.15"/><circle cx="75.79" cy="231.93" r="1.15"/><circle cx="76.34" cy="231.7" r="1.15"/><circle cx="76.9" cy="231.48" r="1.15"/><circle cx="77.46" cy="231.24" r="1.15"/><circle cx="78.01" cy="231" r="1.15"/><circle cx="78.57" cy="230.75" r="1.15"/><circle cx="79.13" cy="230.49" r="1.15"/><circle cx="79.68" cy="230.23" r="1.15"/><circle cx="80.24" cy="229.97" r="1.15"/><circle cx="80.8" cy="229.71" r="1.15"/><circle cx="81.35" cy="229.45" r="1.15"/><circle cx="81.91" cy="229.2" r="1.15"/><circle cx="82.47" cy="228.95" r="1.15"/><circle cx="83.02" cy="228.7" r="1.15"/><circle cx="83.58" cy="228.47" r="1.15"/><circle cx="84.14" cy="228.25" r="1.15"/><circle cx="84.69" cy="228.05" r="1.15"/><circle cx="85.25" cy="227.86" r="1.15"/><circle cx="85.81" cy="227.68" r="1.15"/><circle cx="86.36" cy="227.53" r="1.15"/><circle cx="86.92" cy="227.4" r="1.15"/><circle cx="87.48" cy="227.29" r="1.15"/><circle cx="88.03" cy="227.18" r="1.15"/><circle cx="88.59" cy="227.08" r="1.15"/><circle cx="89.15" cy="226.98" r="1.15"/><circle cx="89.7" cy="226.89" r="1.15"/><circle cx="90.26" cy="226.8" r="1.15"/><circle cx="90.82" cy="226.71" r="1.15"/><circle cx="91.37" cy="226.63" r="1.15"/><circle cx="91.93" cy="226.55" r="1.15"/><circle cx="92.49" cy="226.47" r="1.15"/><circle cx="93.04" cy="226.39" r="1.15"/><circle cx="93.6" cy="226.32" r="1.15"/><circle cx="94.16" cy="226.24" r="1.15"/><circle cx="94.71" cy="226.17" r="1.15"/><circle cx="95.27" cy="226.11" r="1.15"/><circle cx="95.83" cy="226.04" r="1.15"/><circle cx="96.38" cy="225.98" r="1.15"/><circle cx="96.94" cy="225.92" r="1.15"/><circle cx="97.5" cy="225.86" r="1.15"/><circle cx="98.05" cy="225.8" r="1.15"/><circle cx="98.61" cy="225.74" r="1.15"/><circle cx="99.17" cy="225.69" r="1.15"/><circle cx="99.72" cy="225.63" r="1.15"/><circle cx="100.28" cy="225.58" r="1.15"/><circle cx="100.84" cy="225.53" r="1.15"/><circle cx="101.39" cy="225.47" r="1.15"/><circle cx="101.95" cy="225.42" r="1.15"/><circle cx="102.51" cy="225.37" r="1.15"/><circle cx="103.06" cy="225.32" r="1.15"/><circle cx="103.62" cy="225.27" r="1.15"/><circle cx="104.17" cy="225.23" r="1.15"/><circle cx="104.73" cy="225.18" r="1.15"/><circle cx="105.29" cy="225.13" r="1.15"/><circle cx="105.84" cy="225.08" r="1.15"/><circle cx="106.4" cy="225.03" r="1.15"/><circle cx="106.96" cy="224.98" r="1.15"/><circle cx="107.51" cy="224.93" r="1.15"/><circle cx="108.07" cy="224.88" r="1.15"/><circle cx="108.63" cy="224.83" r="1.15"/><circle cx="109.18" cy="224.78" r="1.15"/><circle cx="109.74" cy="224.73" r="1.15"/><circle cx="110.3" cy="224.68" r="1.15"/><circle cx="110.85" cy="224.63" r="1.15"/><circle cx="111.41" cy="224.58" r="1.15"/><circle cx="111.97" cy="224.53" r="1.15"/><circle cx="112.52" cy="224.49" r="1.15"/><circle cx="113.08" cy="224.44" r="1.15"/><circle cx="113.64" cy="224.39" r="1.15"/><circle cx="114.19" cy="224.35" r="1.15"/><circle cx="114.75" cy="224.3" r="1.15"/><circle cx="115.31" cy="224.26" r="1.15"/><circle cx="115.86" cy="224.22" r="1.15"/><circle cx="116.42" cy="224.17" r="1.15"/><circle cx="116.98" cy="224.13" r="1.15"/><circle cx="117.53" cy="224.09" r="1.15"/><circle cx="118.09" cy="224.04" r="1.15"/><circle cx="118.65" cy="224" r="1.15"/><circle cx="119.2" cy="223.96" r="1.15"/><circle cx="119.76" cy="223.92" r="1.15"/><circle cx="120.32" cy="223.88" r="1.15"/><circle cx="120.87" cy="223.84" r="1.15"/><circle cx="121.43" cy="223.8" r="1.15"/><circle cx="121.99" cy="223.76" r="1.15"/><circle cx="122.54" cy="223.72" r="1.15"/><circle cx="123.1" cy="223.68" r="1.15"/><circle cx="123.66" cy="223.64" r="1.15"/><circle cx="124.21" cy="223.6" r="1.15"/><circle cx="124.77" cy="223.56" r="1.15"/><circle cx="125.33" cy="223.52" r="1.15"/><circle cx="125.88" cy="223.48" r="1.15"/><circle cx="126.44" cy="223.44" r="1.15"/><circle cx="127" cy="223.41" r="1.15"/><circle cx="127.55" cy="223.37" r="1.15"/><circle cx="128.11" cy="223.33" r="1.15"/><circle cx="128.67" cy="223.29" r="1.15"/><circle cx="129.22" cy="223.25" r="1.15"/><circle cx="129.78" cy="223.21" r="1.15"/><circle cx="130.34" cy="223.17" r="1.15"/><circle cx="130.89" cy="223.13" r="1.15"/><circle cx="131.45" cy="223.09" r="1.15"/><circle cx="132" cy="223.05" r="1.15"/><circle cx="132.56" cy="223.01" r="1.15"/><circle cx="133.12" cy="222.97" r="1.15"/><circle cx="133.67" cy="222.93" r="1.15"/><circle cx="134.23" cy="222.89" r="1.15"/><circle cx="134.79" cy="222.85" r="1.15"/><circle cx="135.34" cy="222.81" r="1.15"/><circle cx="135.9" cy="222.76" r="1.15"/><circle cx="136.46" cy="222.72" r="1.15"/></g>
<polyline points="34.6,326.2 35.16,326.2 35.71,326.2 36.27,326.2 36.83,326.2 37.38,326.2 37.94,326.2 38.5,326.2 39.05,326.2 39.61,326.2 40.17,326.2 40.72,326.2 41.28,326.2 41.84,326.2 42.39,326.2 42.95,326.2 43.51,326.2 44.06,326.2 44.62,326.2 45.18,326.16 45.73,326.02 46.29,325.81 46.85,325.57 47.4,325.32 47.96,325.04 48.52,324.71 49.07,324.31 49.63,323.82 50.18,323.22 50.74,322.34 51.3,321.18 51.85,319.78 52.41,318.2 52.97,316.41 53.52,314.04 54.08,311.26 54.64,308.4 55.19,305.62 55.75,302.73 56.31,299.78 56.86,296.79 57.42,293.74 57.98,290.61 58.53,287.53 59.09,284.59 59.65,281.78 60.2,279.1 60.76,276.45 61.32,273.81 61.87,271.2 62.43,268.65 62.99,266.17 63.54,263.78 64.1,261.5 64.66,259.36 65.21,257.37 65.77,255.43 66.33,253.56 66.88,251.75 67.44,250.02 68,248.39 68.55,246.86 69.11,245.45 69.67,244.18 70.22,243 70.78,241.88 71.34,240.82 71.89,239.82 72.45,238.89 73.01,238.02 73.56,237.22 74.12,236.49 74.68,235.84 75.23,235.25 75.79,234.71 76.34,234.21 76.9,233.75 77.46,233.31 78.01,232.89 78.57,232.48 79.13,232.08 79.68,231.68 80.24,231.29 80.8,230.92 81.35,230.56 81.91,230.21 82.47,229.87 83.02,229.53 83.58,229.21 84.14,228.89 84.69,228.56 85.25,228.22 85.81,227.88 86.36,227.55 86.92,227.22 87.48,226.9 88.03,226.61 88.59,226.34 89.15,226.1 89.7,225.9 90.26,225.75 90.82,225.6 91.37,225.46 91.93,225.32 92.49,225.19 93.04,225.06 93.6,224.94 94.16,224.82 94.71,224.71 95.27,224.6 95.83,224.5 96.38,224.41 96.94,224.32 97.5,224.23 98.05,224.16 98.61,224.08 99.17,224.02 99.72,223.96 100.28,223.91 100.84,223.86 101.39,223.82 101.95,223.78 102.51,223.75 103.06,223.72 103.62,223.69 104.17,223.66 104.73,223.64 105.29,223.61 105.84,223.58 106.4,223.56 106.96,223.53 107.51,223.51 108.07,223.49 108.63,223.47 109.18,223.44 109.74,223.42 110.3,223.4 110.85,223.39 111.41,223.37 111.97,223.35 112.52,223.33 113.08,223.31 113.64,223.3 114.19,223.28 114.75,223.27 115.31,223.25 115.86,223.24 116.42,223.22 116.98,223.21 117.53,223.19 118.09,223.18 118.65,223.17 119.2,223.15 119.76,223.14 120.32,223.13 120.87,223.12 121.43,223.11 121.99,223.09 122.54,223.08 123.1,223.07 123.66,223.06 124.21,223.05 124.77,223.04 125.33,223.02 125.88,223.01 126.44,223 127,222.99 127.55,222.98 128.11,222.97 128.67,222.95 129.22,222.94 129.78,222.93 130.34,222.92 130.89,222.9 131.45,222.89 132,222.88 132.56,222.86 133.12,222.85 133.67,222.83 134.23,222.82 134.79,222.8 135.34,222.79 135.9,222.77 136.46,222.75" fill="none" stroke="#f02020" stroke-width="0.9"/>
<g fill="#f02020"><circle cx="34.6" cy="326.2" r="1.15"/><circle cx="35.16" cy="326.2" r="1.15"/><circle cx="35.71" cy="326.2" r="1.15"/><circle cx="36.27" cy="326.2" r="1.15"/><circle cx="36.83" cy="326.2" r="1.15"/><circle cx="37.38" cy="326.2" r="1.15"/><circle cx="37.94" cy="326.2" r="1.15"/><circle cx="38.5" cy="326.2" r="1.15"/><circle cx="39.05" cy="326.2" r="1.15"/><circle cx="39.61" cy="326.2" r="1.15"/><circle cx="40.17" cy="326.2" r="1.15"/><circle cx="40.72" cy="326.2" r="1.15"/><circle cx="41.28" cy="326.2" r="1.15"/><circle cx="41.84" cy="326.2" r="1.15"/><circle cx="42.39" cy="326.2" r="1.15"/><circle cx="42.95" cy="326.2" r="1.15"/><circle cx="43.51" cy="326.2" r="1.15"/><circle cx="44.06" cy="326.2" r="1.15"/><circle cx="44.62" cy="326.2" r="1.15"/><circle cx="45.18" cy="326.16" r="1.15"/><circle cx="45.73" cy="326.02" r="1.15"/><circle cx="46.29" cy="325.81" r="1.15"/><circle cx="46.85" cy="325.57" r="1.15"/><circle cx="47.4" cy="325.32" r="1.15"/><circle cx="47.96" cy="325.04" r="1.15"/><circle cx="48.52" cy="324.71" r="1.15"/><circle cx="49.07" cy="324.31" r="1.15"/><circle cx="49.63" cy="323.82" r="1.15"/><circle cx="50.18" cy="323.22" r="1.15"/><circle cx="50.74" cy="322.34" r="1.15"/><circle cx="51.3" cy="321.18" r="1.15"/><circle cx="51.85" cy="319.78" r="1.15"/><circle cx="52.41" cy="318.2" r="1.15"/><circle cx="52.97" cy="316.41" r="1.15"/><circle cx="53.52" cy="314.04" r="1.15"/><circle cx="54.08" cy="311.26" r="1.15"/><circle cx="54.64" cy="308.4" r="1.15"/><circle cx="55.19" cy="305.62" r="1.15"/><circle cx="55.75" cy="302.73" r="1.15"/><circle cx="56.31" cy="299.78" r="1.15"/><circle cx="56.86" cy="296.79" r="1.15"/><circle cx="57.42" cy="293.74" r="1.15"/><circle cx="57.98" cy="290.61" r="1.15"/><circle cx="58.53" cy="287.53" r="1.15"/><circle cx="59.09" cy="284.59" r="1.15"/><circle cx="59.65" cy="281.78" r="1.15"/><circle cx="60.2" cy="279.1" r="1.15"/><circle cx="60.76" cy="276.45" r="1.15"/><circle cx="61.32" cy="273.81" r="1.15"/><circle cx="61.87" cy="271.2" r="1.15"/><circle cx="62.43" cy="268.65" r="1.15"/><circle cx="62.99" cy="266.17" r="1.15"/><circle cx="63.54" cy="263.78" r="1.15"/><circle cx="64.1" cy="261.5" r="1.15"/><circle cx="64.66" cy="259.36" r="1.15"/><circle cx="65.21" cy="257.37" r="1.15"/><circle cx="65.77" cy="255.43" r="1.15"/><circle cx="66.33" cy="253.56" r="1.15"/><circle cx="66.88" cy="251.75" r="1.15"/><circle cx="67.44" cy="250.02" r="1.15"/><circle cx="68" cy="248.39" r="1.15"/><circle cx="68.55" cy="246.86" r="1.15"/><circle cx="69.11" cy="245.45" r="1.15"/><circle cx="69.67" cy="244.18" r="1.15"/><circle cx="70.22" cy="243" r="1.15"/><circle cx="70.78" cy="241.88" r="1.15"/><circle cx="71.34" cy="240.82" r="1.15"/><circle cx="71.89" cy="239.82" r="1.15"/><circle cx="72.45" cy="238.89" r="1.15"/><circle cx="73.01" cy="238.02" r="1.15"/><circle cx="73.56" cy="237.22" r="1.15"/><circle cx="74.12" cy="236.49" r="1.15"/><circle cx="74.68" cy="235.84" r="1.15"/><circle cx="75.23" cy="235.25" r="1.15"/><circle cx="75.79" cy="234.71" r="1.15"/><circle cx="76.34" cy="234.21" r="1.15"/><circle cx="76.9" cy="233.75" r="1.15"/><circle cx="77.46" cy="233.31" r="1.15"/><circle cx="78.01" cy="232.89" r="1.15"/><circle cx="78.57" cy="232.48" r="1.15"/><circle cx="79.13" cy="232.08" r="1.15"/><circle cx="79.68" cy="231.68" r="1.15"/><circle cx="80.24" cy="231.29" r="1.15"/><circle cx="80.8" cy="230.92" r="1.15"/><circle cx="81.35" cy="230.56" r="1.15"/><circle cx="81.91" cy="230.21" r="1.15"/><circle cx="82.47" cy="229.87" r="1.15"/><circle cx="83.02" cy="229.53" r="1.15"/><circle cx="83.58" cy="229.21" r="1.15"/><circle cx="84.14" cy="228.89" r="1.15"/><circle cx="84.69" cy="228.56" r="1.15"/><circle cx="85.25" cy="228.22" r="1.15"/><circle cx="85.81" cy="227.88" r="1.15"/><circle cx="86.36" cy="227.55" r="1.15"/><circle cx="86.92" cy="227.22" r="1.15"/><circle cx="87.48" cy="226.9" r="1.15"/><circle cx="88.03" cy="226.61" r="1.15"/><circle cx="88.59" cy="226.34" r="1.15"/><circle cx="89.15" cy="226.1" r="1.15"/><circle cx="89.7" cy="225.9" r="1.15"/><circle cx="90.26" cy="225.75" r="1.15"/><circle cx="90.82" cy="225.6" r="1.15"/><circle cx="91.37" cy="225.46" r="1.15"/><circle cx="91.93" cy="225.32" r="1.15"/><circle cx="92.49" cy="225.19" r="1.15"/><circle cx="93.04" cy="225.06" r="1.15"/><circle cx="93.6" cy="224.94" r="1.15"/><circle cx="94.16" cy="224.82" r="1.15"/><circle cx="94.71" cy="224.71" r="1.15"/><circle cx="95.27" cy="224.6" r="1.15"/><circle cx="95.83" cy="224.5" r="1.15"/><circle cx="96.38" cy="224.41" r="1.15"/><circle cx="96.94" cy="224.32" r="1.15"/><circle cx="97.5" cy="224.23" r="1.15"/><circle cx="98.05" cy="224.16" r="1.15"/><circle cx="98.61" cy="224.08" r="1.15"/><circle cx="99.17" cy="224.02" r="1.15"/><circle cx="99.72" cy="223.96" r="1.15"/><circle cx="100.28" cy="223.91" r="1.15"/><circle cx="100.84" cy="223.86" r="1.15"/><circle cx="101.39" cy="223.82" r="1.15"/><circle cx="101.95" cy="223.78" r="1.15"/><circle cx="102.51" cy="223.75" r="1.15"/><circle cx="103.06" cy="223.72" r="1.15"/><circle cx="103.62" cy="223.69" r="1.15"/><circle cx="104.17" cy="223.66" r="1.15"/><circle cx="104.73" cy="223.64" r="1.15"/><circle cx="105.29" cy="223.61" r="1.15"/><circle cx="105.84" cy="223.58" r="1.15"/><circle cx="106.4" cy="223.56" r="1.15"/><circle cx="106.96" cy="223.53" r="1.15"/><circle cx="107.51" cy="223.51" r="1.15"/><circle cx="108.07" cy="223.49" r="1.15"/><circle cx="108.63" cy="223.47" r="1.15"/><circle cx="109.18" cy="223.44" r="1.15"/><circle cx="109.74" cy="223.42" r="1.15"/><circle cx="110.3" cy="223.4" r="1.15"/><circle cx="110.85" cy="223.39" r="1.15"/><circle cx="111.41" cy="223.37" r="1.15"/><circle cx="111.97" cy="223.35" r="1.15"/><circle cx="112.52" cy="223.33" r="1.15"/><circle cx="113.08" cy="223.31" r="1.15"/><circle cx="113.64" cy="223.3" r="1.15"/><circle cx="114.19" cy="223.28" r="1.15"/><circle cx="114.75" cy="223.27" r="1.15"/><circle cx="115.31" cy="223.25" r="1.15"/><circle cx="115.86" cy="223.24" r="1.15"/><circle cx="116.42" cy="223.22" r="1.15"/><circle cx="116.98" cy="223.21" r="1.15"/><circle cx="117.53" cy="223.19" r="1.15"/><circle cx="118.09" cy="223.18" r="1.15"/><circle cx="118.65" cy="223.17" r="1.15"/><circle cx="119.2" cy="223.15" r="1.15"/><circle cx="119.76" cy="223.14" r="1.15"/><circle cx="120.32" cy="223.13" r="1.15"/><circle cx="120.87" cy="223.12" r="1.15"/><circle cx="121.43" cy="223.11" r="1.15"/><circle cx="121.99" cy="223.09" r="1.15"/><circle cx="122.54" cy="223.08" r="1.15"/><circle cx="123.1" cy="223.07" r="1.15"/><circle cx="123.66" cy="223.06" r="1.15"/><circle cx="124.21" cy="223.05" r="1.15"/><circle cx="124.77" cy="223.04" r="1.15"/><circle cx="125.33" cy="223.02" r="1.15"/><circle cx="125.88" cy="223.01" r="1.15"/><circle cx="126.44" cy="223" r="1.15"/><circle cx="127" cy="222.99" r="1.15"/><circle cx="127.55" cy="222.98" r="1.15"/><circle cx="128.11" cy="222.97" r="1.15"/><circle cx="128.67" cy="222.95" r="1.15"/><circle cx="129.22" cy="222.94" r="1.15"/><circle cx="129.78" cy="222.93" r="1.15"/><circle cx="130.34" cy="222.92" r="1.15"/><circle cx="130.89" cy="222.9" r="1.15"/><circle cx="131.45" cy="222.89" r="1.15"/><circle cx="132" cy="222.88" r="1.15"/><circle cx="132.56" cy="222.86" r="1.15"/><circle cx="133.12" cy="222.85" r="1.15"/><circle cx="133.67" cy="222.83" r="1.15"/><circle cx="134.23" cy="222.82" r="1.15"/><circle cx="134.79" cy="222.8" r="1.15"/><circle cx="135.34" cy="222.79" r="1.15"/><circle cx="135.9" cy="222.77" r="1.15"/><circle cx="136.46" cy="222.75" r="1.15"/></g>
<polyline points="34.6,326.2 35.16,322.48 35.71,301.49 36.27,282.61 36.83,266.41 37.38,256.57 37.94,249.72 38.5,244.27 39.05,239.66 39.61,235.34 40.17,230.94 40.72,227.04 41.28,224.43 41.84,222.51 42.39,220.94 42.95,220.04 43.51,219.97 44.06,220.2 44.62,220.59 45.18,221.06 45.73,221.55 46.29,221.99 46.85,222.31 47.4,222.6 47.96,222.89 48.52,223.17 49.07,223.45 49.63,223.69 50.18,223.9 50.74,224.06 51.3,224.16 51.85,224.19 52.41,224.19 52.97,224.19 53.52,224.18 54.08,224.17 54.64,224.16 55.19,224.14 55.75,224.13 56.31,224.11 56.86,224.09 57.42,224.07 57.98,224.05 58.53,224.03 59.09,224.01 59.65,223.99 60.2,223.97 60.76,223.94 61.32,223.92 61.87,223.9 62.43,223.88 62.99,223.85 63.54,223.83 64.1,223.81 64.66,223.8 65.21,223.78 65.77,223.76 66.33,223.74 66.88,223.73 67.44,223.71 68,223.69 68.55,223.68 69.11,223.66 69.67,223.64 70.22,223.62 70.78,223.61 71.34,223.59 71.89,223.57 72.45,223.56 73.01,223.54 73.56,223.52 74.12,223.51 74.68,223.49 75.23,223.47 75.79,223.45 76.34,223.44 76.9,223.42 77.46,223.4 78.01,223.39 78.57,223.37 79.13,223.35 79.68,223.34 80.24,223.32 80.8,223.3 81.35,223.28 81.91,223.27 82.47,223.25 83.02,223.23 83.58,223.22 84.14,223.2 84.69,223.18 85.25,223.17 85.81,223.15 86.36,223.13 86.92,223.12 87.48,223.1 88.03,223.08 88.59,223.07 89.15,223.05 89.7,223.04 90.26,223.02 90.82,223 91.37,222.99 91.93,222.97 92.49,222.95 93.04,222.94 93.6,222.92 94.16,222.91 94.71,222.89 95.27,222.87 95.83,222.86 96.38,222.84 96.94,222.83 97.5,222.81 98.05,222.8 98.61,222.78 99.17,222.76 99.72,222.75 100.28,222.73 100.84,222.72 101.39,222.7 101.95,222.69 102.51,222.67 103.06,222.65 103.62,222.64 104.17,222.62 104.73,222.61 105.29,222.59 105.84,222.58 106.4,222.56 106.96,222.55 107.51,222.53 108.07,222.52 108.63,222.5 109.18,222.49 109.74,222.47 110.3,222.45 110.85,222.44 111.41,222.42 111.97,222.41 112.52,222.39 113.08,222.38 113.64,222.36 114.19,222.35 114.75,222.33 115.31,222.32 115.86,222.3 116.42,222.29 116.98,222.27 117.53,222.26 118.09,222.24 118.65,222.23 119.2,222.21 119.76,222.2 120.32,222.18 120.87,222.17 121.43,222.15 121.99,222.14 122.54,222.12 123.1,222.11 123.66,222.09 124.21,222.08 124.77,222.06 125.33,222.04 125.88,222.03 126.44,222.01 127,222 127.55,221.98 128.11,221.97 128.67,221.95 129.22,221.94 129.78,221.92 130.34,221.91 130.89,221.89 131.45,221.88 132,221.86 132.56,221.85 133.12,221.83 133.67,221.82 134.23,221.8 134.79,221.79 135.34,221.77 135.9,221.76 136.46,221.74" fill="none" stroke="#2e5fc2" stroke-width="0.9"/>
<g fill="none" stroke="#2e5fc2" stroke-width="0.6"><circle cx="34.6" cy="326.2" r="1.15"/><circle cx="35.16" cy="322.48" r="1.15"/><circle cx="35.71" cy="301.49" r="1.15"/><circle cx="36.27" cy="282.61" r="1.15"/><circle cx="36.83" cy="266.41" r="1.15"/><circle cx="37.38" cy="256.57" r="1.15"/><circle cx="37.94" cy="249.72" r="1.15"/><circle cx="38.5" cy="244.27" r="1.15"/><circle cx="39.05" cy="239.66" r="1.15"/><circle cx="39.61" cy="235.34" r="1.15"/><circle cx="40.17" cy="230.94" r="1.15"/><circle cx="40.72" cy="227.04" r="1.15"/><circle cx="41.28" cy="224.43" r="1.15"/><circle cx="41.84" cy="222.51" r="1.15"/><circle cx="42.39" cy="220.94" r="1.15"/><circle cx="42.95" cy="220.04" r="1.15"/><circle cx="43.51" cy="219.97" r="1.15"/><circle cx="44.06" cy="220.2" r="1.15"/><circle cx="44.62" cy="220.59" r="1.15"/><circle cx="45.18" cy="221.06" r="1.15"/><circle cx="45.73" cy="221.55" r="1.15"/><circle cx="46.29" cy="221.99" r="1.15"/><circle cx="46.85" cy="222.31" r="1.15"/><circle cx="47.4" cy="222.6" r="1.15"/><circle cx="47.96" cy="222.89" r="1.15"/><circle cx="48.52" cy="223.17" r="1.15"/><circle cx="49.07" cy="223.45" r="1.15"/><circle cx="49.63" cy="223.69" r="1.15"/><circle cx="50.18" cy="223.9" r="1.15"/><circle cx="50.74" cy="224.06" r="1.15"/><circle cx="51.3" cy="224.16" r="1.15"/><circle cx="51.85" cy="224.19" r="1.15"/><circle cx="52.41" cy="224.19" r="1.15"/><circle cx="52.97" cy="224.19" r="1.15"/><circle cx="53.52" cy="224.18" r="1.15"/><circle cx="54.08" cy="224.17" r="1.15"/><circle cx="54.64" cy="224.16" r="1.15"/><circle cx="55.19" cy="224.14" r="1.15"/><circle cx="55.75" cy="224.13" r="1.15"/><circle cx="56.31" cy="224.11" r="1.15"/><circle cx="56.86" cy="224.09" r="1.15"/><circle cx="57.42" cy="224.07" r="1.15"/><circle cx="57.98" cy="224.05" r="1.15"/><circle cx="58.53" cy="224.03" r="1.15"/><circle cx="59.09" cy="224.01" r="1.15"/><circle cx="59.65" cy="223.99" r="1.15"/><circle cx="60.2" cy="223.97" r="1.15"/><circle cx="60.76" cy="223.94" r="1.15"/><circle cx="61.32" cy="223.92" r="1.15"/><circle cx="61.87" cy="223.9" r="1.15"/><circle cx="62.43" cy="223.88" r="1.15"/><circle cx="62.99" cy="223.85" r="1.15"/><circle cx="63.54" cy="223.83" r="1.15"/><circle cx="64.1" cy="223.81" r="1.15"/><circle cx="64.66" cy="223.8" r="1.15"/><circle cx="65.21" cy="223.78" r="1.15"/><circle cx="65.77" cy="223.76" r="1.15"/><circle cx="66.33" cy="223.74" r="1.15"/><circle cx="66.88" cy="223.73" r="1.15"/><circle cx="67.44" cy="223.71" r="1.15"/><circle cx="68" cy="223.69" r="1.15"/><circle cx="68.55" cy="223.68" r="1.15"/><circle cx="69.11" cy="223.66" r="1.15"/><circle cx="69.67" cy="223.64" r="1.15"/><circle cx="70.22" cy="223.62" r="1.15"/><circle cx="70.78" cy="223.61" r="1.15"/><circle cx="71.34" cy="223.59" r="1.15"/><circle cx="71.89" cy="223.57" r="1.15"/><circle cx="72.45" cy="223.56" r="1.15"/><circle cx="73.01" cy="223.54" r="1.15"/><circle cx="73.56" cy="223.52" r="1.15"/><circle cx="74.12" cy="223.51" r="1.15"/><circle cx="74.68" cy="223.49" r="1.15"/><circle cx="75.23" cy="223.47" r="1.15"/><circle cx="75.79" cy="223.45" r="1.15"/><circle cx="76.34" cy="223.44" r="1.15"/><circle cx="76.9" cy="223.42" r="1.15"/><circle cx="77.46" cy="223.4" r="1.15"/><circle cx="78.01" cy="223.39" r="1.15"/><circle cx="78.57" cy="223.37" r="1.15"/><circle cx="79.13" cy="223.35" r="1.15"/><circle cx="79.68" cy="223.34" r="1.15"/><circle cx="80.24" cy="223.32" r="1.15"/><circle cx="80.8" cy="223.3" r="1.15"/><circle cx="81.35" cy="223.28" r="1.15"/><circle cx="81.91" cy="223.27" r="1.15"/><circle cx="82.47" cy="223.25" r="1.15"/><circle cx="83.02" cy="223.23" r="1.15"/><circle cx="83.58" cy="223.22" r="1.15"/><circle cx="84.14" cy="223.2" r="1.15"/><circle cx="84.69" cy="223.18" r="1.15"/><circle cx="85.25" cy="223.17" r="1.15"/><circle cx="85.81" cy="223.15" r="1.15"/><circle cx="86.36" cy="223.13" r="1.15"/><circle cx="86.92" cy="223.12" r="1.15"/><circle cx="87.48" cy="223.1" r="1.15"/><circle cx="88.03" cy="223.08" r="1.15"/><circle cx="88.59" cy="223.07" r="1.15"/><circle cx="89.15" cy="223.05" r="1.15"/><circle cx="89.7" cy="223.04" r="1.15"/><circle cx="90.26" cy="223.02" r="1.15"/><circle cx="90.82" cy="223" r="1.15"/><circle cx="91.37" cy="222.99" r="1.15"/><circle cx="91.93" cy="222.97" r="1.15"/><circle cx="92.49" cy="222.95" r="1.15"/><circle cx="93.04" cy="222.94" r="1.15"/><circle cx="93.6" cy="222.92" r="1.15"/><circle cx="94.16" cy="222.91" r="1.15"/><circle cx="94.71" cy="222.89" r="1.15"/><circle cx="95.27" cy="222.87" r="1.15"/><circle cx="95.83" cy="222.86" r="1.15"/><circle cx="96.38" cy="222.84" r="1.15"/><circle cx="96.94" cy="222.83" r="1.15"/><circle cx="97.5" cy="222.81" r="1.15"/><circle cx="98.05" cy="222.8" r="1.15"/><circle cx="98.61" cy="222.78" r="1.15"/><circle cx="99.17" cy="222.76" r="1.15"/><circle cx="99.72" cy="222.75" r="1.15"/><circle cx="100.28" cy="222.73" r="1.15"/><circle cx="100.84" cy="222.72" r="1.15"/><circle cx="101.39" cy="222.7" r="1.15"/><circle cx="101.95" cy="222.69" r="1.15"/><circle cx="102.51" cy="222.67" r="1.15"/><circle cx="103.06" cy="222.65" r="1.15"/><circle cx="103.62" cy="222.64" r="1.15"/><circle cx="104.17" cy="222.62" r="1.15"/><circle cx="104.73" cy="222.61" r="1.15"/><circle cx="105.29" cy="222.59" r="1.15"/><circle cx="105.84" cy="222.58" r="1.15"/><circle cx="106.4" cy="222.56" r="1.15"/><circle cx="106.96" cy="222.55" r="1.15"/><circle cx="107.51" cy="222.53" r="1.15"/><circle cx="108.07" cy="222.52" r="1.15"/><circle cx="108.63" cy="222.5" r="1.15"/><circle cx="109.18" cy="222.49" r="1.15"/><circle cx="109.74" cy="222.47" r="1.15"/><circle cx="110.3" cy="222.45" r="1.15"/><circle cx="110.85" cy="222.44" r="1.15"/><circle cx="111.41" cy="222.42" r="1.15"/><circle cx="111.97" cy="222.41" r="1.15"/><circle cx="112.52" cy="222.39" r="1.15"/><circle cx="113.08" cy="222.38" r="1.15"/><circle cx="113.64" cy="222.36" r="1.15"/><circle cx="114.19" cy="222.35" r="1.15"/><circle cx="114.75" cy="222.33" r="1.15"/><circle cx="115.31" cy="222.32" r="1.15"/><circle cx="115.86" cy="222.3" r="1.15"/><circle cx="116.42" cy="222.29" r="1.15"/><circle cx="116.98" cy="222.27" r="1.15"/><circle cx="117.53" cy="222.26" r="1.15"/><circle cx="118.09" cy="222.24" r="1.15"/><circle cx="118.65" cy="222.23" r="1.15"/><circle cx="119.2" cy="222.21" r="1.15"/><circle cx="119.76" cy="222.2" r="1.15"/><circle cx="120.32" cy="222.18" r="1.15"/><circle cx="120.87" cy="222.17" r="1.15"/><circle cx="121.43" cy="222.15" r="1.15"/><circle cx="121.99" cy="222.14" r="1.15"/><circle cx="122.54" cy="222.12" r="1.15"/><circle cx="123.1" cy="222.11" r="1.15"/><circle cx="123.66" cy="222.09" r="1.15"/><circle cx="124.21" cy="222.08" r="1.15"/><circle cx="124.77" cy="222.06" r="1.15"/><circle cx="125.33" cy="222.04" r="1.15"/><circle cx="125.88" cy="222.03" r="1.15"/><circle cx="126.44" cy="222.01" r="1.15"/><circle cx="127" cy="222" r="1.15"/><circle cx="127.55" cy="221.98" r="1.15"/><circle cx="128.11" cy="221.97" r="1.15"/><circle cx="128.67" cy="221.95" r="1.15"/><circle cx="129.22" cy="221.94" r="1.15"/><circle cx="129.78" cy="221.92" r="1.15"/><circle cx="130.34" cy="221.91" r="1.15"/><circle cx="130.89" cy="221.89" r="1.15"/><circle cx="131.45" cy="221.88" r="1.15"/><circle cx="132" cy="221.86" r="1.15"/><circle cx="132.56" cy="221.85" r="1.15"/><circle cx="133.12" cy="221.83" r="1.15"/><circle cx="133.67" cy="221.82" r="1.15"/><circle cx="134.23" cy="221.8" r="1.15"/><circle cx="134.79" cy="221.79" r="1.15"/><circle cx="135.34" cy="221.77" r="1.15"/><circle cx="135.9" cy="221.76" r="1.15"/><circle cx="136.46" cy="221.74" r="1.15"/></g>
<polyline points="34.6,326.2 35.41,319.11 36.22,287.68 37.03,258.92 37.84,241.99 38.65,231.9 39.46,225.79 40.27,222.46 41.08,220.03 41.89,218.24 42.7,216.89 43.51,215.72 44.32,214.76 45.12,214.02 45.93,213.55 46.74,213.17 47.55,212.83 48.36,212.54 49.17,212.32 49.98,212.18 50.79,212.12 51.6,212.2 52.41,212.4 53.22,212.69 54.03,213.05 54.84,213.46 55.65,213.87 56.46,214.27 57.27,214.62 58.08,214.94 58.89,215.27 59.7,215.61 60.51,215.95 61.32,216.3 62.13,216.64 62.94,216.97 63.75,217.29 64.56,217.58 65.36,217.86 66.17,218.1 66.98,218.31 67.79,218.5 68.6,218.69 69.41,218.87 70.22,219.04 71.03,219.19 71.84,219.34 72.65,219.47 73.46,219.58 74.27,219.66 75.08,219.73 75.89,219.78 76.7,219.83 77.51,219.87 78.32,219.91 79.13,219.95 79.94,219.98 80.75,220.01 81.56,220.04 82.37,220.07 83.18,220.09 83.99,220.11 84.8,220.14 85.6,220.16 86.41,220.18 87.22,220.2 88.03,220.23 88.84,220.25 89.65,220.27 90.46,220.3 91.27,220.32 92.08,220.35 92.89,220.38 93.7,220.41 94.51,220.43 95.32,220.46 96.13,220.49 96.94,220.52 97.75,220.55 98.56,220.58 99.37,220.6 100.18,220.63 100.99,220.66 101.8,220.69 102.61,220.71 103.42,220.74 104.23,220.77 105.04,220.79 105.84,220.82 106.65,220.84 107.46,220.86 108.27,220.89 109.08,220.91 109.89,220.93 110.7,220.95 111.51,220.97 112.32,220.99 113.13,221.01 113.94,221.03 114.75,221.05 115.56,221.06 116.37,221.08 117.18,221.1 117.99,221.12 118.8,221.13 119.61,221.15 120.42,221.16 121.23,221.18 122.04,221.2 122.85,221.21 123.66,221.23 124.47,221.24 125.28,221.26 126.08,221.27 126.89,221.29 127.7,221.3 128.51,221.32 129.32,221.33 130.13,221.35 130.94,221.36 131.75,221.38 132.56,221.39 133.37,221.41 134.18,221.42 134.99,221.44 135.8,221.45 136.61,221.47" fill="none" stroke="#151515" stroke-width="0.9"/>
<g fill="#151515"><circle cx="34.6" cy="326.2" r="1.35"/><circle cx="35.41" cy="319.11" r="1.35"/><circle cx="36.22" cy="287.68" r="1.35"/><circle cx="37.03" cy="258.92" r="1.35"/><circle cx="37.84" cy="241.99" r="1.35"/><circle cx="38.65" cy="231.9" r="1.35"/><circle cx="39.46" cy="225.79" r="1.35"/><circle cx="40.27" cy="222.46" r="1.35"/><circle cx="41.08" cy="220.03" r="1.35"/><circle cx="41.89" cy="218.24" r="1.35"/><circle cx="42.7" cy="216.89" r="1.35"/><circle cx="43.51" cy="215.72" r="1.35"/><circle cx="44.32" cy="214.76" r="1.35"/><circle cx="45.12" cy="214.02" r="1.35"/><circle cx="45.93" cy="213.55" r="1.35"/><circle cx="46.74" cy="213.17" r="1.35"/><circle cx="47.55" cy="212.83" r="1.35"/><circle cx="48.36" cy="212.54" r="1.35"/><circle cx="49.17" cy="212.32" r="1.35"/><circle cx="49.98" cy="212.18" r="1.35"/><circle cx="50.79" cy="212.12" r="1.35"/><circle cx="51.6" cy="212.2" r="1.35"/><circle cx="52.41" cy="212.4" r="1.35"/><circle cx="53.22" cy="212.69" r="1.35"/><circle cx="54.03" cy="213.05" r="1.35"/><circle cx="54.84" cy="213.46" r="1.35"/><circle cx="55.65" cy="213.87" r="1.35"/><circle cx="56.46" cy="214.27" r="1.35"/><circle cx="57.27" cy="214.62" r="1.35"/><circle cx="58.08" cy="214.94" r="1.35"/><circle cx="58.89" cy="215.27" r="1.35"/><circle cx="59.7" cy="215.61" r="1.35"/><circle cx="60.51" cy="215.95" r="1.35"/><circle cx="61.32" cy="216.3" r="1.35"/><circle cx="62.13" cy="216.64" r="1.35"/><circle cx="62.94" cy="216.97" r="1.35"/><circle cx="63.75" cy="217.29" r="1.35"/><circle cx="64.56" cy="217.58" r="1.35"/><circle cx="65.36" cy="217.86" r="1.35"/><circle cx="66.17" cy="218.1" r="1.35"/><circle cx="66.98" cy="218.31" r="1.35"/><circle cx="67.79" cy="218.5" r="1.35"/><circle cx="68.6" cy="218.69" r="1.35"/><circle cx="69.41" cy="218.87" r="1.35"/><circle cx="70.22" cy="219.04" r="1.35"/><circle cx="71.03" cy="219.19" r="1.35"/><circle cx="71.84" cy="219.34" r="1.35"/><circle cx="72.65" cy="219.47" r="1.35"/><circle cx="73.46" cy="219.58" r="1.35"/><circle cx="74.27" cy="219.66" r="1.35"/><circle cx="75.08" cy="219.73" r="1.35"/><circle cx="75.89" cy="219.78" r="1.35"/><circle cx="76.7" cy="219.83" r="1.35"/><circle cx="77.51" cy="219.87" r="1.35"/><circle cx="78.32" cy="219.91" r="1.35"/><circle cx="79.13" cy="219.95" r="1.35"/><circle cx="79.94" cy="219.98" r="1.35"/><circle cx="80.75" cy="220.01" r="1.35"/><circle cx="81.56" cy="220.04" r="1.35"/><circle cx="82.37" cy="220.07" r="1.35"/><circle cx="83.18" cy="220.09" r="1.35"/><circle cx="83.99" cy="220.11" r="1.35"/><circle cx="84.8" cy="220.14" r="1.35"/><circle cx="85.6" cy="220.16" r="1.35"/><circle cx="86.41" cy="220.18" r="1.35"/><circle cx="87.22" cy="220.2" r="1.35"/><circle cx="88.03" cy="220.23" r="1.35"/><circle cx="88.84" cy="220.25" r="1.35"/><circle cx="89.65" cy="220.27" r="1.35"/><circle cx="90.46" cy="220.3" r="1.35"/><circle cx="91.27" cy="220.32" r="1.35"/><circle cx="92.08" cy="220.35" r="1.35"/><circle cx="92.89" cy="220.38" r="1.35"/><circle cx="93.7" cy="220.41" r="1.35"/><circle cx="94.51" cy="220.43" r="1.35"/><circle cx="95.32" cy="220.46" r="1.35"/><circle cx="96.13" cy="220.49" r="1.35"/><circle cx="96.94" cy="220.52" r="1.35"/><circle cx="97.75" cy="220.55" r="1.35"/><circle cx="98.56" cy="220.58" r="1.35"/><circle cx="99.37" cy="220.6" r="1.35"/><circle cx="100.18" cy="220.63" r="1.35"/><circle cx="100.99" cy="220.66" r="1.35"/><circle cx="101.8" cy="220.69" r="1.35"/><circle cx="102.61" cy="220.71" r="1.35"/><circle cx="103.42" cy="220.74" r="1.35"/><circle cx="104.23" cy="220.77" r="1.35"/><circle cx="105.04" cy="220.79" r="1.35"/><circle cx="105.84" cy="220.82" r="1.35"/><circle cx="106.65" cy="220.84" r="1.35"/><circle cx="107.46" cy="220.86" r="1.35"/><circle cx="108.27" cy="220.89" r="1.35"/><circle cx="109.08" cy="220.91" r="1.35"/><circle cx="109.89" cy="220.93" r="1.35"/><circle cx="110.7" cy="220.95" r="1.35"/><circle cx="111.51" cy="220.97" r="1.35"/><circle cx="112.32" cy="220.99" r="1.35"/><circle cx="113.13" cy="221.01" r="1.35"/><circle cx="113.94" cy="221.03" r="1.35"/><circle cx="114.75" cy="221.05" r="1.35"/><circle cx="115.56" cy="221.06" r="1.35"/><circle cx="116.37" cy="221.08" r="1.35"/><circle cx="117.18" cy="221.1" r="1.35"/><circle cx="117.99" cy="221.12" r="1.35"/><circle cx="118.8" cy="221.13" r="1.35"/><circle cx="119.61" cy="221.15" r="1.35"/><circle cx="120.42" cy="221.16" r="1.35"/><circle cx="121.23" cy="221.18" r="1.35"/><circle cx="122.04" cy="221.2" r="1.35"/><circle cx="122.85" cy="221.21" r="1.35"/><circle cx="123.66" cy="221.23" r="1.35"/><circle cx="124.47" cy="221.24" r="1.35"/><circle cx="125.28" cy="221.26" r="1.35"/><circle cx="126.08" cy="221.27" r="1.35"/><circle cx="126.89" cy="221.29" r="1.35"/><circle cx="127.7" cy="221.3" r="1.35"/><circle cx="128.51" cy="221.32" r="1.35"/><circle cx="129.32" cy="221.33" r="1.35"/><circle cx="130.13" cy="221.35" r="1.35"/><circle cx="130.94" cy="221.36" r="1.35"/><circle cx="131.75" cy="221.38" r="1.35"/><circle cx="132.56" cy="221.39" r="1.35"/><circle cx="133.37" cy="221.41" r="1.35"/><circle cx="134.18" cy="221.42" r="1.35"/><circle cx="134.99" cy="221.44" r="1.35"/><circle cx="135.8" cy="221.45" r="1.35"/><circle cx="136.61" cy="221.47" r="1.35"/></g>
</g>
<clipPath id="cp135"><rect x="134.9" y="194.6" width="101.9" height="141.6"/></clipPath>
<g clip-path="url(#cp135)">
<polyline points="135.7,326.2 136.26,326.2 136.81,326.2 137.37,326.2 137.93,326.2 138.48,326.2 139.04,326.2 139.6,326.2 140.15,326.2 140.71,326.2 141.27,326.2 141.82,326.2 142.38,326.2 142.94,326.2 143.49,326.2 144.05,326.2 144.61,326.2 145.16,326.2 145.72,326.2 146.28,326.16 146.83,326 147.39,325.73 147.95,325.36 148.5,324.9 149.06,324.35 149.61,323.72 150.17,323.02 150.73,322.07 151.28,320.28 151.84,317.9 152.4,315.21 152.95,312.5 153.51,309.87 154.07,306.99 154.62,304.01 155.18,301.1 155.74,298.28 156.29,295.46 156.85,292.76 157.41,290.28 157.96,288.02 158.52,285.91 159.08,283.88 159.63,281.87 160.19,279.94 160.75,278.07 161.3,276.24 161.86,274.4 162.42,272.53 162.97,270.61 163.53,268.49 164.09,266.14 164.64,263.72 165.2,261.41 165.76,259.37 166.31,257.78 166.87,256.71 167.43,255.79 167.98,254.95 168.54,254.19 169.1,253.49 169.65,252.86 170.21,252.28 170.77,251.75 171.32,251.26 171.88,250.81 172.44,250.39 172.99,249.99 173.55,249.61 174.11,249.25 174.66,248.9 175.22,248.58 175.78,248.28 176.33,247.98 176.89,247.71 177.44,247.44 178,247.18 178.56,246.94 179.11,246.7 179.67,246.47 180.23,246.24 180.78,246.02 181.34,245.79 181.9,245.57 182.45,245.35 183.01,245.12 183.57,244.9 184.12,244.68 184.68,244.46 185.24,244.26 185.79,244.06 186.35,243.86 186.91,243.67 187.46,243.47 188.02,243.29 188.58,243.1 189.13,242.91 189.69,242.72 190.25,242.54 190.8,242.35 191.36,242.15 191.92,241.96 192.47,241.76 193.03,241.55 193.59,241.34 194.14,241.13 194.7,240.9 195.26,240.66 195.81,240.42 196.37,240.18 196.93,239.93 197.48,239.69 198.04,239.45 198.6,239.22 199.15,239 199.71,238.79 200.27,238.6 200.82,238.42 201.38,238.26 201.94,238.1 202.49,237.96 203.05,237.82 203.61,237.69 204.16,237.57 204.72,237.45 205.27,237.33 205.83,237.21 206.39,237.1 206.94,236.98 207.5,236.86 208.06,236.74 208.61,236.61 209.17,236.47 209.73,236.33 210.28,236.18 210.84,236.02 211.4,235.84 211.95,235.66 212.51,235.46 213.07,235.24 213.62,235 214.18,234.75 214.74,234.48 215.29,234.18 215.85,233.71 216.41,232.93 216.96,232.11 217.52,231.56 218.08,231.38 218.63,231.24 219.19,231.11 219.75,230.98 220.3,230.86 220.86,230.76 221.42,230.66 221.97,230.56 222.53,230.48 223.09,230.4 223.64,230.32 224.2,230.25 224.76,230.19 225.31,230.13 225.87,230.07 226.43,230.02 226.98,229.97 227.54,229.93 228.1,229.88 228.65,229.84 229.21,229.8 229.77,229.76 230.32,229.72 230.88,229.69 231.44,229.65 231.99,229.61 232.55,229.57 233.1,229.53 233.66,229.48 234.22,229.43 234.77,229.39 235.33,229.33 235.89,229.27 236.44,229.21 237,229.15 237.56,229.08" fill="none" stroke="#2f8a3a" stroke-width="0.9"/>
<g fill="none" stroke="#2f8a3a" stroke-width="0.6"><circle cx="135.7" cy="326.2" r="1.15"/><circle cx="136.26" cy="326.2" r="1.15"/><circle cx="136.81" cy="326.2" r="1.15"/><circle cx="137.37" cy="326.2" r="1.15"/><circle cx="137.93" cy="326.2" r="1.15"/><circle cx="138.48" cy="326.2" r="1.15"/><circle cx="139.04" cy="326.2" r="1.15"/><circle cx="139.6" cy="326.2" r="1.15"/><circle cx="140.15" cy="326.2" r="1.15"/><circle cx="140.71" cy="326.2" r="1.15"/><circle cx="141.27" cy="326.2" r="1.15"/><circle cx="141.82" cy="326.2" r="1.15"/><circle cx="142.38" cy="326.2" r="1.15"/><circle cx="142.94" cy="326.2" r="1.15"/><circle cx="143.49" cy="326.2" r="1.15"/><circle cx="144.05" cy="326.2" r="1.15"/><circle cx="144.61" cy="326.2" r="1.15"/><circle cx="145.16" cy="326.2" r="1.15"/><circle cx="145.72" cy="326.2" r="1.15"/><circle cx="146.28" cy="326.16" r="1.15"/><circle cx="146.83" cy="326" r="1.15"/><circle cx="147.39" cy="325.73" r="1.15"/><circle cx="147.95" cy="325.36" r="1.15"/><circle cx="148.5" cy="324.9" r="1.15"/><circle cx="149.06" cy="324.35" r="1.15"/><circle cx="149.61" cy="323.72" r="1.15"/><circle cx="150.17" cy="323.02" r="1.15"/><circle cx="150.73" cy="322.07" r="1.15"/><circle cx="151.28" cy="320.28" r="1.15"/><circle cx="151.84" cy="317.9" r="1.15"/><circle cx="152.4" cy="315.21" r="1.15"/><circle cx="152.95" cy="312.5" r="1.15"/><circle cx="153.51" cy="309.87" r="1.15"/><circle cx="154.07" cy="306.99" r="1.15"/><circle cx="154.62" cy="304.01" r="1.15"/><circle cx="155.18" cy="301.1" r="1.15"/><circle cx="155.74" cy="298.28" r="1.15"/><circle cx="156.29" cy="295.46" r="1.15"/><circle cx="156.85" cy="292.76" r="1.15"/><circle cx="157.41" cy="290.28" r="1.15"/><circle cx="157.96" cy="288.02" r="1.15"/><circle cx="158.52" cy="285.91" r="1.15"/><circle cx="159.08" cy="283.88" r="1.15"/><circle cx="159.63" cy="281.87" r="1.15"/><circle cx="160.19" cy="279.94" r="1.15"/><circle cx="160.75" cy="278.07" r="1.15"/><circle cx="161.3" cy="276.24" r="1.15"/><circle cx="161.86" cy="274.4" r="1.15"/><circle cx="162.42" cy="272.53" r="1.15"/><circle cx="162.97" cy="270.61" r="1.15"/><circle cx="163.53" cy="268.49" r="1.15"/><circle cx="164.09" cy="266.14" r="1.15"/><circle cx="164.64" cy="263.72" r="1.15"/><circle cx="165.2" cy="261.41" r="1.15"/><circle cx="165.76" cy="259.37" r="1.15"/><circle cx="166.31" cy="257.78" r="1.15"/><circle cx="166.87" cy="256.71" r="1.15"/><circle cx="167.43" cy="255.79" r="1.15"/><circle cx="167.98" cy="254.95" r="1.15"/><circle cx="168.54" cy="254.19" r="1.15"/><circle cx="169.1" cy="253.49" r="1.15"/><circle cx="169.65" cy="252.86" r="1.15"/><circle cx="170.21" cy="252.28" r="1.15"/><circle cx="170.77" cy="251.75" r="1.15"/><circle cx="171.32" cy="251.26" r="1.15"/><circle cx="171.88" cy="250.81" r="1.15"/><circle cx="172.44" cy="250.39" r="1.15"/><circle cx="172.99" cy="249.99" r="1.15"/><circle cx="173.55" cy="249.61" r="1.15"/><circle cx="174.11" cy="249.25" r="1.15"/><circle cx="174.66" cy="248.9" r="1.15"/><circle cx="175.22" cy="248.58" r="1.15"/><circle cx="175.78" cy="248.28" r="1.15"/><circle cx="176.33" cy="247.98" r="1.15"/><circle cx="176.89" cy="247.71" r="1.15"/><circle cx="177.44" cy="247.44" r="1.15"/><circle cx="178" cy="247.18" r="1.15"/><circle cx="178.56" cy="246.94" r="1.15"/><circle cx="179.11" cy="246.7" r="1.15"/><circle cx="179.67" cy="246.47" r="1.15"/><circle cx="180.23" cy="246.24" r="1.15"/><circle cx="180.78" cy="246.02" r="1.15"/><circle cx="181.34" cy="245.79" r="1.15"/><circle cx="181.9" cy="245.57" r="1.15"/><circle cx="182.45" cy="245.35" r="1.15"/><circle cx="183.01" cy="245.12" r="1.15"/><circle cx="183.57" cy="244.9" r="1.15"/><circle cx="184.12" cy="244.68" r="1.15"/><circle cx="184.68" cy="244.46" r="1.15"/><circle cx="185.24" cy="244.26" r="1.15"/><circle cx="185.79" cy="244.06" r="1.15"/><circle cx="186.35" cy="243.86" r="1.15"/><circle cx="186.91" cy="243.67" r="1.15"/><circle cx="187.46" cy="243.47" r="1.15"/><circle cx="188.02" cy="243.29" r="1.15"/><circle cx="188.58" cy="243.1" r="1.15"/><circle cx="189.13" cy="242.91" r="1.15"/><circle cx="189.69" cy="242.72" r="1.15"/><circle cx="190.25" cy="242.54" r="1.15"/><circle cx="190.8" cy="242.35" r="1.15"/><circle cx="191.36" cy="242.15" r="1.15"/><circle cx="191.92" cy="241.96" r="1.15"/><circle cx="192.47" cy="241.76" r="1.15"/><circle cx="193.03" cy="241.55" r="1.15"/><circle cx="193.59" cy="241.34" r="1.15"/><circle cx="194.14" cy="241.13" r="1.15"/><circle cx="194.7" cy="240.9" r="1.15"/><circle cx="195.26" cy="240.66" r="1.15"/><circle cx="195.81" cy="240.42" r="1.15"/><circle cx="196.37" cy="240.18" r="1.15"/><circle cx="196.93" cy="239.93" r="1.15"/><circle cx="197.48" cy="239.69" r="1.15"/><circle cx="198.04" cy="239.45" r="1.15"/><circle cx="198.6" cy="239.22" r="1.15"/><circle cx="199.15" cy="239" r="1.15"/><circle cx="199.71" cy="238.79" r="1.15"/><circle cx="200.27" cy="238.6" r="1.15"/><circle cx="200.82" cy="238.42" r="1.15"/><circle cx="201.38" cy="238.26" r="1.15"/><circle cx="201.94" cy="238.1" r="1.15"/><circle cx="202.49" cy="237.96" r="1.15"/><circle cx="203.05" cy="237.82" r="1.15"/><circle cx="203.61" cy="237.69" r="1.15"/><circle cx="204.16" cy="237.57" r="1.15"/><circle cx="204.72" cy="237.45" r="1.15"/><circle cx="205.27" cy="237.33" r="1.15"/><circle cx="205.83" cy="237.21" r="1.15"/><circle cx="206.39" cy="237.1" r="1.15"/><circle cx="206.94" cy="236.98" r="1.15"/><circle cx="207.5" cy="236.86" r="1.15"/><circle cx="208.06" cy="236.74" r="1.15"/><circle cx="208.61" cy="236.61" r="1.15"/><circle cx="209.17" cy="236.47" r="1.15"/><circle cx="209.73" cy="236.33" r="1.15"/><circle cx="210.28" cy="236.18" r="1.15"/><circle cx="210.84" cy="236.02" r="1.15"/><circle cx="211.4" cy="235.84" r="1.15"/><circle cx="211.95" cy="235.66" r="1.15"/><circle cx="212.51" cy="235.46" r="1.15"/><circle cx="213.07" cy="235.24" r="1.15"/><circle cx="213.62" cy="235" r="1.15"/><circle cx="214.18" cy="234.75" r="1.15"/><circle cx="214.74" cy="234.48" r="1.15"/><circle cx="215.29" cy="234.18" r="1.15"/><circle cx="215.85" cy="233.71" r="1.15"/><circle cx="216.41" cy="232.93" r="1.15"/><circle cx="216.96" cy="232.11" r="1.15"/><circle cx="217.52" cy="231.56" r="1.15"/><circle cx="218.08" cy="231.38" r="1.15"/><circle cx="218.63" cy="231.24" r="1.15"/><circle cx="219.19" cy="231.11" r="1.15"/><circle cx="219.75" cy="230.98" r="1.15"/><circle cx="220.3" cy="230.86" r="1.15"/><circle cx="220.86" cy="230.76" r="1.15"/><circle cx="221.42" cy="230.66" r="1.15"/><circle cx="221.97" cy="230.56" r="1.15"/><circle cx="222.53" cy="230.48" r="1.15"/><circle cx="223.09" cy="230.4" r="1.15"/><circle cx="223.64" cy="230.32" r="1.15"/><circle cx="224.2" cy="230.25" r="1.15"/><circle cx="224.76" cy="230.19" r="1.15"/><circle cx="225.31" cy="230.13" r="1.15"/><circle cx="225.87" cy="230.07" r="1.15"/><circle cx="226.43" cy="230.02" r="1.15"/><circle cx="226.98" cy="229.97" r="1.15"/><circle cx="227.54" cy="229.93" r="1.15"/><circle cx="228.1" cy="229.88" r="1.15"/><circle cx="228.65" cy="229.84" r="1.15"/><circle cx="229.21" cy="229.8" r="1.15"/><circle cx="229.77" cy="229.76" r="1.15"/><circle cx="230.32" cy="229.72" r="1.15"/><circle cx="230.88" cy="229.69" r="1.15"/><circle cx="231.44" cy="229.65" r="1.15"/><circle cx="231.99" cy="229.61" r="1.15"/><circle cx="232.55" cy="229.57" r="1.15"/><circle cx="233.1" cy="229.53" r="1.15"/><circle cx="233.66" cy="229.48" r="1.15"/><circle cx="234.22" cy="229.43" r="1.15"/><circle cx="234.77" cy="229.39" r="1.15"/><circle cx="235.33" cy="229.33" r="1.15"/><circle cx="235.89" cy="229.27" r="1.15"/><circle cx="236.44" cy="229.21" r="1.15"/><circle cx="237" cy="229.15" r="1.15"/><circle cx="237.56" cy="229.08" r="1.15"/></g>
<polyline points="135.7,326.2 136.26,326.2 136.81,326.2 137.37,326.2 137.93,326.2 138.48,326.2 139.04,326.2 139.6,326.2 140.15,326.2 140.71,326.2 141.27,326.2 141.82,326.2 142.38,326.2 142.94,326.2 143.49,326.2 144.05,326.2 144.61,326.2 145.16,326.2 145.72,326.2 146.28,326.2 146.83,326.2 147.39,326.2 147.95,326.2 148.5,326.2 149.06,326.2 149.61,326.19 150.17,326.14 150.73,326.04 151.28,325.89 151.84,325.7 152.4,325.48 152.95,325.22 153.51,324.93 154.07,324.62 154.62,324.29 155.18,323.95 155.74,323.59 156.29,323.22 156.85,322.76 157.41,322.22 157.96,321.59 158.52,320.88 159.08,320.08 159.63,319.2 160.19,318.23 160.75,317.18 161.3,315.78 161.86,313.97 162.42,311.91 162.97,309.75 163.53,307.64 164.09,305.58 164.64,303.44 165.2,301.26 165.76,299.03 166.31,296.79 166.87,294.54 167.43,292.27 167.98,289.96 168.54,287.6 169.1,285.2 169.65,282.65 170.21,279.97 170.77,277.19 171.32,274.37 171.88,271.56 172.44,268.8 172.99,266.14 173.55,263.63 174.11,261.33 174.66,259.28 175.22,257.46 175.78,255.7 176.33,254.02 176.89,252.41 177.44,250.88 178,249.44 178.56,248.09 179.11,246.84 179.67,245.69 180.23,244.66 180.78,243.74 181.34,242.88 181.9,242.04 182.45,241.25 183.01,240.49 183.57,239.78 184.12,239.1 184.68,238.46 185.24,237.86 185.79,237.3 186.35,236.78 186.91,236.3 187.46,235.87 188.02,235.48 188.58,235.12 189.13,234.78 189.69,234.45 190.25,234.13 190.8,233.83 191.36,233.53 191.92,233.25 192.47,232.99 193.03,232.73 193.59,232.48 194.14,232.25 194.7,232.02 195.26,231.8 195.81,231.6 196.37,231.4 196.93,231.21 197.48,231.03 198.04,230.85 198.6,230.69 199.15,230.53 199.71,230.38 200.27,230.23 200.82,230.08 201.38,229.94 201.94,229.8 202.49,229.66 203.05,229.53 203.61,229.4 204.16,229.27 204.72,229.15 205.27,229.03 205.83,228.91 206.39,228.8 206.94,228.69 207.5,228.58 208.06,228.48 208.61,228.38 209.17,228.28 209.73,228.19 210.28,228.11 210.84,228.03 211.4,227.95 211.95,227.88 212.51,227.81 213.07,227.75 213.62,227.69 214.18,227.63 214.74,227.58 215.29,227.54 215.85,227.49 216.41,227.44 216.96,227.4 217.52,227.36 218.08,227.32 218.63,227.28 219.19,227.24 219.75,227.2 220.3,227.17 220.86,227.13 221.42,227.1 221.97,227.07 222.53,227.04 223.09,227.01 223.64,226.98 224.2,226.95 224.76,226.92 225.31,226.89 225.87,226.86 226.43,226.84 226.98,226.81 227.54,226.78 228.1,226.76 228.65,226.73 229.21,226.71 229.77,226.68 230.32,226.66 230.88,226.63 231.44,226.6 231.99,226.58 232.55,226.55 233.1,226.52 233.66,226.49 234.22,226.47 234.77,226.44 235.33,226.41 235.89,226.38 236.44,226.35 237,226.32 237.56,226.28" fill="none" stroke="#f02020" stroke-width="0.9"/>
<g fill="#f02020"><circle cx="135.7" cy="326.2" r="1.15"/><circle cx="136.26" cy="326.2" r="1.15"/><circle cx="136.81" cy="326.2" r="1.15"/><circle cx="137.37" cy="326.2" r="1.15"/><circle cx="137.93" cy="326.2" r="1.15"/><circle cx="138.48" cy="326.2" r="1.15"/><circle cx="139.04" cy="326.2" r="1.15"/><circle cx="139.6" cy="326.2" r="1.15"/><circle cx="140.15" cy="326.2" r="1.15"/><circle cx="140.71" cy="326.2" r="1.15"/><circle cx="141.27" cy="326.2" r="1.15"/><circle cx="141.82" cy="326.2" r="1.15"/><circle cx="142.38" cy="326.2" r="1.15"/><circle cx="142.94" cy="326.2" r="1.15"/><circle cx="143.49" cy="326.2" r="1.15"/><circle cx="144.05" cy="326.2" r="1.15"/><circle cx="144.61" cy="326.2" r="1.15"/><circle cx="145.16" cy="326.2" r="1.15"/><circle cx="145.72" cy="326.2" r="1.15"/><circle cx="146.28" cy="326.2" r="1.15"/><circle cx="146.83" cy="326.2" r="1.15"/><circle cx="147.39" cy="326.2" r="1.15"/><circle cx="147.95" cy="326.2" r="1.15"/><circle cx="148.5" cy="326.2" r="1.15"/><circle cx="149.06" cy="326.2" r="1.15"/><circle cx="149.61" cy="326.19" r="1.15"/><circle cx="150.17" cy="326.14" r="1.15"/><circle cx="150.73" cy="326.04" r="1.15"/><circle cx="151.28" cy="325.89" r="1.15"/><circle cx="151.84" cy="325.7" r="1.15"/><circle cx="152.4" cy="325.48" r="1.15"/><circle cx="152.95" cy="325.22" r="1.15"/><circle cx="153.51" cy="324.93" r="1.15"/><circle cx="154.07" cy="324.62" r="1.15"/><circle cx="154.62" cy="324.29" r="1.15"/><circle cx="155.18" cy="323.95" r="1.15"/><circle cx="155.74" cy="323.59" r="1.15"/><circle cx="156.29" cy="323.22" r="1.15"/><circle cx="156.85" cy="322.76" r="1.15"/><circle cx="157.41" cy="322.22" r="1.15"/><circle cx="157.96" cy="321.59" r="1.15"/><circle cx="158.52" cy="320.88" r="1.15"/><circle cx="159.08" cy="320.08" r="1.15"/><circle cx="159.63" cy="319.2" r="1.15"/><circle cx="160.19" cy="318.23" r="1.15"/><circle cx="160.75" cy="317.18" r="1.15"/><circle cx="161.3" cy="315.78" r="1.15"/><circle cx="161.86" cy="313.97" r="1.15"/><circle cx="162.42" cy="311.91" r="1.15"/><circle cx="162.97" cy="309.75" r="1.15"/><circle cx="163.53" cy="307.64" r="1.15"/><circle cx="164.09" cy="305.58" r="1.15"/><circle cx="164.64" cy="303.44" r="1.15"/><circle cx="165.2" cy="301.26" r="1.15"/><circle cx="165.76" cy="299.03" r="1.15"/><circle cx="166.31" cy="296.79" r="1.15"/><circle cx="166.87" cy="294.54" r="1.15"/><circle cx="167.43" cy="292.27" r="1.15"/><circle cx="167.98" cy="289.96" r="1.15"/><circle cx="168.54" cy="287.6" r="1.15"/><circle cx="169.1" cy="285.2" r="1.15"/><circle cx="169.65" cy="282.65" r="1.15"/><circle cx="170.21" cy="279.97" r="1.15"/><circle cx="170.77" cy="277.19" r="1.15"/><circle cx="171.32" cy="274.37" r="1.15"/><circle cx="171.88" cy="271.56" r="1.15"/><circle cx="172.44" cy="268.8" r="1.15"/><circle cx="172.99" cy="266.14" r="1.15"/><circle cx="173.55" cy="263.63" r="1.15"/><circle cx="174.11" cy="261.33" r="1.15"/><circle cx="174.66" cy="259.28" r="1.15"/><circle cx="175.22" cy="257.46" r="1.15"/><circle cx="175.78" cy="255.7" r="1.15"/><circle cx="176.33" cy="254.02" r="1.15"/><circle cx="176.89" cy="252.41" r="1.15"/><circle cx="177.44" cy="250.88" r="1.15"/><circle cx="178" cy="249.44" r="1.15"/><circle cx="178.56" cy="248.09" r="1.15"/><circle cx="179.11" cy="246.84" r="1.15"/><circle cx="179.67" cy="245.69" r="1.15"/><circle cx="180.23" cy="244.66" r="1.15"/><circle cx="180.78" cy="243.74" r="1.15"/><circle cx="181.34" cy="242.88" r="1.15"/><circle cx="181.9" cy="242.04" r="1.15"/><circle cx="182.45" cy="241.25" r="1.15"/><circle cx="183.01" cy="240.49" r="1.15"/><circle cx="183.57" cy="239.78" r="1.15"/><circle cx="184.12" cy="239.1" r="1.15"/><circle cx="184.68" cy="238.46" r="1.15"/><circle cx="185.24" cy="237.86" r="1.15"/><circle cx="185.79" cy="237.3" r="1.15"/><circle cx="186.35" cy="236.78" r="1.15"/><circle cx="186.91" cy="236.3" r="1.15"/><circle cx="187.46" cy="235.87" r="1.15"/><circle cx="188.02" cy="235.48" r="1.15"/><circle cx="188.58" cy="235.12" r="1.15"/><circle cx="189.13" cy="234.78" r="1.15"/><circle cx="189.69" cy="234.45" r="1.15"/><circle cx="190.25" cy="234.13" r="1.15"/><circle cx="190.8" cy="233.83" r="1.15"/><circle cx="191.36" cy="233.53" r="1.15"/><circle cx="191.92" cy="233.25" r="1.15"/><circle cx="192.47" cy="232.99" r="1.15"/><circle cx="193.03" cy="232.73" r="1.15"/><circle cx="193.59" cy="232.48" r="1.15"/><circle cx="194.14" cy="232.25" r="1.15"/><circle cx="194.7" cy="232.02" r="1.15"/><circle cx="195.26" cy="231.8" r="1.15"/><circle cx="195.81" cy="231.6" r="1.15"/><circle cx="196.37" cy="231.4" r="1.15"/><circle cx="196.93" cy="231.21" r="1.15"/><circle cx="197.48" cy="231.03" r="1.15"/><circle cx="198.04" cy="230.85" r="1.15"/><circle cx="198.6" cy="230.69" r="1.15"/><circle cx="199.15" cy="230.53" r="1.15"/><circle cx="199.71" cy="230.38" r="1.15"/><circle cx="200.27" cy="230.23" r="1.15"/><circle cx="200.82" cy="230.08" r="1.15"/><circle cx="201.38" cy="229.94" r="1.15"/><circle cx="201.94" cy="229.8" r="1.15"/><circle cx="202.49" cy="229.66" r="1.15"/><circle cx="203.05" cy="229.53" r="1.15"/><circle cx="203.61" cy="229.4" r="1.15"/><circle cx="204.16" cy="229.27" r="1.15"/><circle cx="204.72" cy="229.15" r="1.15"/><circle cx="205.27" cy="229.03" r="1.15"/><circle cx="205.83" cy="228.91" r="1.15"/><circle cx="206.39" cy="228.8" r="1.15"/><circle cx="206.94" cy="228.69" r="1.15"/><circle cx="207.5" cy="228.58" r="1.15"/><circle cx="208.06" cy="228.48" r="1.15"/><circle cx="208.61" cy="228.38" r="1.15"/><circle cx="209.17" cy="228.28" r="1.15"/><circle cx="209.73" cy="228.19" r="1.15"/><circle cx="210.28" cy="228.11" r="1.15"/><circle cx="210.84" cy="228.03" r="1.15"/><circle cx="211.4" cy="227.95" r="1.15"/><circle cx="211.95" cy="227.88" r="1.15"/><circle cx="212.51" cy="227.81" r="1.15"/><circle cx="213.07" cy="227.75" r="1.15"/><circle cx="213.62" cy="227.69" r="1.15"/><circle cx="214.18" cy="227.63" r="1.15"/><circle cx="214.74" cy="227.58" r="1.15"/><circle cx="215.29" cy="227.54" r="1.15"/><circle cx="215.85" cy="227.49" r="1.15"/><circle cx="216.41" cy="227.44" r="1.15"/><circle cx="216.96" cy="227.4" r="1.15"/><circle cx="217.52" cy="227.36" r="1.15"/><circle cx="218.08" cy="227.32" r="1.15"/><circle cx="218.63" cy="227.28" r="1.15"/><circle cx="219.19" cy="227.24" r="1.15"/><circle cx="219.75" cy="227.2" r="1.15"/><circle cx="220.3" cy="227.17" r="1.15"/><circle cx="220.86" cy="227.13" r="1.15"/><circle cx="221.42" cy="227.1" r="1.15"/><circle cx="221.97" cy="227.07" r="1.15"/><circle cx="222.53" cy="227.04" r="1.15"/><circle cx="223.09" cy="227.01" r="1.15"/><circle cx="223.64" cy="226.98" r="1.15"/><circle cx="224.2" cy="226.95" r="1.15"/><circle cx="224.76" cy="226.92" r="1.15"/><circle cx="225.31" cy="226.89" r="1.15"/><circle cx="225.87" cy="226.86" r="1.15"/><circle cx="226.43" cy="226.84" r="1.15"/><circle cx="226.98" cy="226.81" r="1.15"/><circle cx="227.54" cy="226.78" r="1.15"/><circle cx="228.1" cy="226.76" r="1.15"/><circle cx="228.65" cy="226.73" r="1.15"/><circle cx="229.21" cy="226.71" r="1.15"/><circle cx="229.77" cy="226.68" r="1.15"/><circle cx="230.32" cy="226.66" r="1.15"/><circle cx="230.88" cy="226.63" r="1.15"/><circle cx="231.44" cy="226.6" r="1.15"/><circle cx="231.99" cy="226.58" r="1.15"/><circle cx="232.55" cy="226.55" r="1.15"/><circle cx="233.1" cy="226.52" r="1.15"/><circle cx="233.66" cy="226.49" r="1.15"/><circle cx="234.22" cy="226.47" r="1.15"/><circle cx="234.77" cy="226.44" r="1.15"/><circle cx="235.33" cy="226.41" r="1.15"/><circle cx="235.89" cy="226.38" r="1.15"/><circle cx="236.44" cy="226.35" r="1.15"/><circle cx="237" cy="226.32" r="1.15"/><circle cx="237.56" cy="226.28" r="1.15"/></g>
<polyline points="135.7,326.2 136.26,325.14 136.81,323.93 137.37,322.51 137.93,320.86 138.48,318.82 139.04,316.06 139.6,311.55 140.15,305.73 140.71,299.35 141.27,293.11 141.82,287.74 142.38,283.39 142.94,278.64 143.49,272.68 144.05,266.02 144.61,259.29 145.16,253.12 145.72,248.12 146.28,244.4 146.83,241.26 147.39,238.18 147.95,234.53 148.5,230.61 149.06,228.16 149.61,226.31 150.17,224.6 150.73,223.06 151.28,221.73 151.84,220.64 152.4,219.82 152.95,219.3 153.51,219.12 154.07,219.16 154.62,219.27 155.18,219.43 155.74,219.63 156.29,219.86 156.85,220.1 157.41,220.34 157.96,220.57 158.52,220.76 159.08,220.94 159.63,221.14 160.19,221.34 160.75,221.55 161.3,221.76 161.86,221.97 162.42,222.18 162.97,222.39 163.53,222.6 164.09,222.8 164.64,222.99 165.2,223.17 165.76,223.34 166.31,223.5 166.87,223.64 167.43,223.76 167.98,223.86 168.54,223.94 169.1,224 169.65,224.04 170.21,224.09 170.77,224.13 171.32,224.17 171.88,224.21 172.44,224.25 172.99,224.29 173.55,224.33 174.11,224.36 174.66,224.39 175.22,224.42 175.78,224.45 176.33,224.48 176.89,224.51 177.44,224.53 178,224.56 178.56,224.58 179.11,224.6 179.67,224.62 180.23,224.64 180.78,224.66 181.34,224.68 181.9,224.7 182.45,224.71 183.01,224.73 183.57,224.74 184.12,224.75 184.68,224.77 185.24,224.78 185.79,224.79 186.35,224.8 186.91,224.81 187.46,224.82 188.02,224.83 188.58,224.84 189.13,224.85 189.69,224.86 190.25,224.87 190.8,224.88 191.36,224.89 191.92,224.89 192.47,224.9 193.03,224.91 193.59,224.92 194.14,224.93 194.7,224.93 195.26,224.94 195.81,224.95 196.37,224.96 196.93,224.96 197.48,224.97 198.04,224.98 198.6,224.98 199.15,224.99 199.71,225 200.27,225 200.82,225.01 201.38,225.01 201.94,225.02 202.49,225.03 203.05,225.03 203.61,225.04 204.16,225.04 204.72,225.05 205.27,225.05 205.83,225.06 206.39,225.06 206.94,225.07 207.5,225.07 208.06,225.08 208.61,225.08 209.17,225.09 209.73,225.09 210.28,225.1 210.84,225.1 211.4,225.11 211.95,225.11 212.51,225.11 213.07,225.12 213.62,225.12 214.18,225.13 214.74,225.13 215.29,225.14 215.85,225.14 216.41,225.14 216.96,225.15 217.52,225.15 218.08,225.16 218.63,225.16 219.19,225.16 219.75,225.17 220.3,225.17 220.86,225.18 221.42,225.18 221.97,225.18 222.53,225.19 223.09,225.19 223.64,225.2 224.2,225.2 224.76,225.2 225.31,225.21 225.87,225.21 226.43,225.22 226.98,225.22 227.54,225.23 228.1,225.23 228.65,225.23 229.21,225.24 229.77,225.24 230.32,225.25 230.88,225.25 231.44,225.26 231.99,225.26 232.55,225.27 233.1,225.27 233.66,225.28 234.22,225.28 234.77,225.29 235.33,225.29 235.89,225.3 236.44,225.3 237,225.31 237.56,225.31" fill="none" stroke="#2e5fc2" stroke-width="0.9"/>
<g fill="none" stroke="#2e5fc2" stroke-width="0.6"><circle cx="135.7" cy="326.2" r="1.15"/><circle cx="136.26" cy="325.14" r="1.15"/><circle cx="136.81" cy="323.93" r="1.15"/><circle cx="137.37" cy="322.51" r="1.15"/><circle cx="137.93" cy="320.86" r="1.15"/><circle cx="138.48" cy="318.82" r="1.15"/><circle cx="139.04" cy="316.06" r="1.15"/><circle cx="139.6" cy="311.55" r="1.15"/><circle cx="140.15" cy="305.73" r="1.15"/><circle cx="140.71" cy="299.35" r="1.15"/><circle cx="141.27" cy="293.11" r="1.15"/><circle cx="141.82" cy="287.74" r="1.15"/><circle cx="142.38" cy="283.39" r="1.15"/><circle cx="142.94" cy="278.64" r="1.15"/><circle cx="143.49" cy="272.68" r="1.15"/><circle cx="144.05" cy="266.02" r="1.15"/><circle cx="144.61" cy="259.29" r="1.15"/><circle cx="145.16" cy="253.12" r="1.15"/><circle cx="145.72" cy="248.12" r="1.15"/><circle cx="146.28" cy="244.4" r="1.15"/><circle cx="146.83" cy="241.26" r="1.15"/><circle cx="147.39" cy="238.18" r="1.15"/><circle cx="147.95" cy="234.53" r="1.15"/><circle cx="148.5" cy="230.61" r="1.15"/><circle cx="149.06" cy="228.16" r="1.15"/><circle cx="149.61" cy="226.31" r="1.15"/><circle cx="150.17" cy="224.6" r="1.15"/><circle cx="150.73" cy="223.06" r="1.15"/><circle cx="151.28" cy="221.73" r="1.15"/><circle cx="151.84" cy="220.64" r="1.15"/><circle cx="152.4" cy="219.82" r="1.15"/><circle cx="152.95" cy="219.3" r="1.15"/><circle cx="153.51" cy="219.12" r="1.15"/><circle cx="154.07" cy="219.16" r="1.15"/><circle cx="154.62" cy="219.27" r="1.15"/><circle cx="155.18" cy="219.43" r="1.15"/><circle cx="155.74" cy="219.63" r="1.15"/><circle cx="156.29" cy="219.86" r="1.15"/><circle cx="156.85" cy="220.1" r="1.15"/><circle cx="157.41" cy="220.34" r="1.15"/><circle cx="157.96" cy="220.57" r="1.15"/><circle cx="158.52" cy="220.76" r="1.15"/><circle cx="159.08" cy="220.94" r="1.15"/><circle cx="159.63" cy="221.14" r="1.15"/><circle cx="160.19" cy="221.34" r="1.15"/><circle cx="160.75" cy="221.55" r="1.15"/><circle cx="161.3" cy="221.76" r="1.15"/><circle cx="161.86" cy="221.97" r="1.15"/><circle cx="162.42" cy="222.18" r="1.15"/><circle cx="162.97" cy="222.39" r="1.15"/><circle cx="163.53" cy="222.6" r="1.15"/><circle cx="164.09" cy="222.8" r="1.15"/><circle cx="164.64" cy="222.99" r="1.15"/><circle cx="165.2" cy="223.17" r="1.15"/><circle cx="165.76" cy="223.34" r="1.15"/><circle cx="166.31" cy="223.5" r="1.15"/><circle cx="166.87" cy="223.64" r="1.15"/><circle cx="167.43" cy="223.76" r="1.15"/><circle cx="167.98" cy="223.86" r="1.15"/><circle cx="168.54" cy="223.94" r="1.15"/><circle cx="169.1" cy="224" r="1.15"/><circle cx="169.65" cy="224.04" r="1.15"/><circle cx="170.21" cy="224.09" r="1.15"/><circle cx="170.77" cy="224.13" r="1.15"/><circle cx="171.32" cy="224.17" r="1.15"/><circle cx="171.88" cy="224.21" r="1.15"/><circle cx="172.44" cy="224.25" r="1.15"/><circle cx="172.99" cy="224.29" r="1.15"/><circle cx="173.55" cy="224.33" r="1.15"/><circle cx="174.11" cy="224.36" r="1.15"/><circle cx="174.66" cy="224.39" r="1.15"/><circle cx="175.22" cy="224.42" r="1.15"/><circle cx="175.78" cy="224.45" r="1.15"/><circle cx="176.33" cy="224.48" r="1.15"/><circle cx="176.89" cy="224.51" r="1.15"/><circle cx="177.44" cy="224.53" r="1.15"/><circle cx="178" cy="224.56" r="1.15"/><circle cx="178.56" cy="224.58" r="1.15"/><circle cx="179.11" cy="224.6" r="1.15"/><circle cx="179.67" cy="224.62" r="1.15"/><circle cx="180.23" cy="224.64" r="1.15"/><circle cx="180.78" cy="224.66" r="1.15"/><circle cx="181.34" cy="224.68" r="1.15"/><circle cx="181.9" cy="224.7" r="1.15"/><circle cx="182.45" cy="224.71" r="1.15"/><circle cx="183.01" cy="224.73" r="1.15"/><circle cx="183.57" cy="224.74" r="1.15"/><circle cx="184.12" cy="224.75" r="1.15"/><circle cx="184.68" cy="224.77" r="1.15"/><circle cx="185.24" cy="224.78" r="1.15"/><circle cx="185.79" cy="224.79" r="1.15"/><circle cx="186.35" cy="224.8" r="1.15"/><circle cx="186.91" cy="224.81" r="1.15"/><circle cx="187.46" cy="224.82" r="1.15"/><circle cx="188.02" cy="224.83" r="1.15"/><circle cx="188.58" cy="224.84" r="1.15"/><circle cx="189.13" cy="224.85" r="1.15"/><circle cx="189.69" cy="224.86" r="1.15"/><circle cx="190.25" cy="224.87" r="1.15"/><circle cx="190.8" cy="224.88" r="1.15"/><circle cx="191.36" cy="224.89" r="1.15"/><circle cx="191.92" cy="224.89" r="1.15"/><circle cx="192.47" cy="224.9" r="1.15"/><circle cx="193.03" cy="224.91" r="1.15"/><circle cx="193.59" cy="224.92" r="1.15"/><circle cx="194.14" cy="224.93" r="1.15"/><circle cx="194.7" cy="224.93" r="1.15"/><circle cx="195.26" cy="224.94" r="1.15"/><circle cx="195.81" cy="224.95" r="1.15"/><circle cx="196.37" cy="224.96" r="1.15"/><circle cx="196.93" cy="224.96" r="1.15"/><circle cx="197.48" cy="224.97" r="1.15"/><circle cx="198.04" cy="224.98" r="1.15"/><circle cx="198.6" cy="224.98" r="1.15"/><circle cx="199.15" cy="224.99" r="1.15"/><circle cx="199.71" cy="225" r="1.15"/><circle cx="200.27" cy="225" r="1.15"/><circle cx="200.82" cy="225.01" r="1.15"/><circle cx="201.38" cy="225.01" r="1.15"/><circle cx="201.94" cy="225.02" r="1.15"/><circle cx="202.49" cy="225.03" r="1.15"/><circle cx="203.05" cy="225.03" r="1.15"/><circle cx="203.61" cy="225.04" r="1.15"/><circle cx="204.16" cy="225.04" r="1.15"/><circle cx="204.72" cy="225.05" r="1.15"/><circle cx="205.27" cy="225.05" r="1.15"/><circle cx="205.83" cy="225.06" r="1.15"/><circle cx="206.39" cy="225.06" r="1.15"/><circle cx="206.94" cy="225.07" r="1.15"/><circle cx="207.5" cy="225.07" r="1.15"/><circle cx="208.06" cy="225.08" r="1.15"/><circle cx="208.61" cy="225.08" r="1.15"/><circle cx="209.17" cy="225.09" r="1.15"/><circle cx="209.73" cy="225.09" r="1.15"/><circle cx="210.28" cy="225.1" r="1.15"/><circle cx="210.84" cy="225.1" r="1.15"/><circle cx="211.4" cy="225.11" r="1.15"/><circle cx="211.95" cy="225.11" r="1.15"/><circle cx="212.51" cy="225.11" r="1.15"/><circle cx="213.07" cy="225.12" r="1.15"/><circle cx="213.62" cy="225.12" r="1.15"/><circle cx="214.18" cy="225.13" r="1.15"/><circle cx="214.74" cy="225.13" r="1.15"/><circle cx="215.29" cy="225.14" r="1.15"/><circle cx="215.85" cy="225.14" r="1.15"/><circle cx="216.41" cy="225.14" r="1.15"/><circle cx="216.96" cy="225.15" r="1.15"/><circle cx="217.52" cy="225.15" r="1.15"/><circle cx="218.08" cy="225.16" r="1.15"/><circle cx="218.63" cy="225.16" r="1.15"/><circle cx="219.19" cy="225.16" r="1.15"/><circle cx="219.75" cy="225.17" r="1.15"/><circle cx="220.3" cy="225.17" r="1.15"/><circle cx="220.86" cy="225.18" r="1.15"/><circle cx="221.42" cy="225.18" r="1.15"/><circle cx="221.97" cy="225.18" r="1.15"/><circle cx="222.53" cy="225.19" r="1.15"/><circle cx="223.09" cy="225.19" r="1.15"/><circle cx="223.64" cy="225.2" r="1.15"/><circle cx="224.2" cy="225.2" r="1.15"/><circle cx="224.76" cy="225.2" r="1.15"/><circle cx="225.31" cy="225.21" r="1.15"/><circle cx="225.87" cy="225.21" r="1.15"/><circle cx="226.43" cy="225.22" r="1.15"/><circle cx="226.98" cy="225.22" r="1.15"/><circle cx="227.54" cy="225.23" r="1.15"/><circle cx="228.1" cy="225.23" r="1.15"/><circle cx="228.65" cy="225.23" r="1.15"/><circle cx="229.21" cy="225.24" r="1.15"/><circle cx="229.77" cy="225.24" r="1.15"/><circle cx="230.32" cy="225.25" r="1.15"/><circle cx="230.88" cy="225.25" r="1.15"/><circle cx="231.44" cy="225.26" r="1.15"/><circle cx="231.99" cy="225.26" r="1.15"/><circle cx="232.55" cy="225.27" r="1.15"/><circle cx="233.1" cy="225.27" r="1.15"/><circle cx="233.66" cy="225.28" r="1.15"/><circle cx="234.22" cy="225.28" r="1.15"/><circle cx="234.77" cy="225.29" r="1.15"/><circle cx="235.33" cy="225.29" r="1.15"/><circle cx="235.89" cy="225.3" r="1.15"/><circle cx="236.44" cy="225.3" r="1.15"/><circle cx="237" cy="225.31" r="1.15"/><circle cx="237.56" cy="225.31" r="1.15"/></g>
<polyline points="135.7,326.2 136.51,325.97 137.32,325.63 138.13,324.78 138.94,323.02 139.75,318.99 140.56,305.03 141.37,284.84 142.18,265.58 142.99,246.67 143.8,233.83 144.61,226.98 145.42,222.86 146.22,219.7 147.03,217.36 147.84,215.69 148.65,214.22 149.46,212.95 150.27,211.91 151.08,211.11 151.89,210.6 152.7,210.26 153.51,209.94 154.32,209.65 155.13,209.39 155.94,209.17 156.75,208.99 157.56,208.84 158.37,208.74 159.18,208.69 159.99,208.69 160.8,208.79 161.61,209.01 162.42,209.31 163.23,209.68 164.04,210.11 164.85,210.57 165.66,211.05 166.46,211.52 167.27,211.98 168.08,212.4 168.89,212.77 169.7,213.13 170.51,213.49 171.32,213.86 172.13,214.23 172.94,214.59 173.75,214.96 174.56,215.31 175.37,215.66 176.18,216 176.99,216.33 177.8,216.64 178.61,216.94 179.42,217.24 180.23,217.55 181.04,217.87 181.85,218.18 182.66,218.49 183.47,218.79 184.28,219.09 185.09,219.37 185.9,219.63 186.7,219.87 187.51,220.09 188.32,220.28 189.13,220.44 189.94,220.57 190.75,220.66 191.56,220.73 192.37,220.81 193.18,220.87 193.99,220.94 194.8,221 195.61,221.06 196.42,221.12 197.23,221.17 198.04,221.22 198.85,221.27 199.66,221.31 200.47,221.36 201.28,221.4 202.09,221.44 202.9,221.47 203.71,221.51 204.52,221.54 205.33,221.57 206.14,221.6 206.94,221.62 207.75,221.65 208.56,221.68 209.37,221.7 210.18,221.72 210.99,221.74 211.8,221.76 212.61,221.78 213.42,221.8 214.23,221.82 215.04,221.84 215.85,221.85 216.66,221.87 217.47,221.88 218.28,221.9 219.09,221.91 219.9,221.92 220.71,221.94 221.52,221.95 222.33,221.96 223.14,221.97 223.95,221.99 224.76,222 225.57,222.01 226.38,222.02 227.18,222.03 227.99,222.04 228.8,222.05 229.61,222.06 230.42,222.07 231.23,222.08 232.04,222.09 232.85,222.1 233.66,222.11 234.47,222.13 235.28,222.14 236.09,222.15 236.9,222.16 237.71,222.18" fill="none" stroke="#151515" stroke-width="0.9"/>
<g fill="#151515"><circle cx="135.7" cy="326.2" r="1.35"/><circle cx="136.51" cy="325.97" r="1.35"/><circle cx="137.32" cy="325.63" r="1.35"/><circle cx="138.13" cy="324.78" r="1.35"/><circle cx="138.94" cy="323.02" r="1.35"/><circle cx="139.75" cy="318.99" r="1.35"/><circle cx="140.56" cy="305.03" r="1.35"/><circle cx="141.37" cy="284.84" r="1.35"/><circle cx="142.18" cy="265.58" r="1.35"/><circle cx="142.99" cy="246.67" r="1.35"/><circle cx="143.8" cy="233.83" r="1.35"/><circle cx="144.61" cy="226.98" r="1.35"/><circle cx="145.42" cy="222.86" r="1.35"/><circle cx="146.22" cy="219.7" r="1.35"/><circle cx="147.03" cy="217.36" r="1.35"/><circle cx="147.84" cy="215.69" r="1.35"/><circle cx="148.65" cy="214.22" r="1.35"/><circle cx="149.46" cy="212.95" r="1.35"/><circle cx="150.27" cy="211.91" r="1.35"/><circle cx="151.08" cy="211.11" r="1.35"/><circle cx="151.89" cy="210.6" r="1.35"/><circle cx="152.7" cy="210.26" r="1.35"/><circle cx="153.51" cy="209.94" r="1.35"/><circle cx="154.32" cy="209.65" r="1.35"/><circle cx="155.13" cy="209.39" r="1.35"/><circle cx="155.94" cy="209.17" r="1.35"/><circle cx="156.75" cy="208.99" r="1.35"/><circle cx="157.56" cy="208.84" r="1.35"/><circle cx="158.37" cy="208.74" r="1.35"/><circle cx="159.18" cy="208.69" r="1.35"/><circle cx="159.99" cy="208.69" r="1.35"/><circle cx="160.8" cy="208.79" r="1.35"/><circle cx="161.61" cy="209.01" r="1.35"/><circle cx="162.42" cy="209.31" r="1.35"/><circle cx="163.23" cy="209.68" r="1.35"/><circle cx="164.04" cy="210.11" r="1.35"/><circle cx="164.85" cy="210.57" r="1.35"/><circle cx="165.66" cy="211.05" r="1.35"/><circle cx="166.46" cy="211.52" r="1.35"/><circle cx="167.27" cy="211.98" r="1.35"/><circle cx="168.08" cy="212.4" r="1.35"/><circle cx="168.89" cy="212.77" r="1.35"/><circle cx="169.7" cy="213.13" r="1.35"/><circle cx="170.51" cy="213.49" r="1.35"/><circle cx="171.32" cy="213.86" r="1.35"/><circle cx="172.13" cy="214.23" r="1.35"/><circle cx="172.94" cy="214.59" r="1.35"/><circle cx="173.75" cy="214.96" r="1.35"/><circle cx="174.56" cy="215.31" r="1.35"/><circle cx="175.37" cy="215.66" r="1.35"/><circle cx="176.18" cy="216" r="1.35"/><circle cx="176.99" cy="216.33" r="1.35"/><circle cx="177.8" cy="216.64" r="1.35"/><circle cx="178.61" cy="216.94" r="1.35"/><circle cx="179.42" cy="217.24" r="1.35"/><circle cx="180.23" cy="217.55" r="1.35"/><circle cx="181.04" cy="217.87" r="1.35"/><circle cx="181.85" cy="218.18" r="1.35"/><circle cx="182.66" cy="218.49" r="1.35"/><circle cx="183.47" cy="218.79" r="1.35"/><circle cx="184.28" cy="219.09" r="1.35"/><circle cx="185.09" cy="219.37" r="1.35"/><circle cx="185.9" cy="219.63" r="1.35"/><circle cx="186.7" cy="219.87" r="1.35"/><circle cx="187.51" cy="220.09" r="1.35"/><circle cx="188.32" cy="220.28" r="1.35"/><circle cx="189.13" cy="220.44" r="1.35"/><circle cx="189.94" cy="220.57" r="1.35"/><circle cx="190.75" cy="220.66" r="1.35"/><circle cx="191.56" cy="220.73" r="1.35"/><circle cx="192.37" cy="220.81" r="1.35"/><circle cx="193.18" cy="220.87" r="1.35"/><circle cx="193.99" cy="220.94" r="1.35"/><circle cx="194.8" cy="221" r="1.35"/><circle cx="195.61" cy="221.06" r="1.35"/><circle cx="196.42" cy="221.12" r="1.35"/><circle cx="197.23" cy="221.17" r="1.35"/><circle cx="198.04" cy="221.22" r="1.35"/><circle cx="198.85" cy="221.27" r="1.35"/><circle cx="199.66" cy="221.31" r="1.35"/><circle cx="200.47" cy="221.36" r="1.35"/><circle cx="201.28" cy="221.4" r="1.35"/><circle cx="202.09" cy="221.44" r="1.35"/><circle cx="202.9" cy="221.47" r="1.35"/><circle cx="203.71" cy="221.51" r="1.35"/><circle cx="204.52" cy="221.54" r="1.35"/><circle cx="205.33" cy="221.57" r="1.35"/><circle cx="206.14" cy="221.6" r="1.35"/><circle cx="206.94" cy="221.62" r="1.35"/><circle cx="207.75" cy="221.65" r="1.35"/><circle cx="208.56" cy="221.68" r="1.35"/><circle cx="209.37" cy="221.7" r="1.35"/><circle cx="210.18" cy="221.72" r="1.35"/><circle cx="210.99" cy="221.74" r="1.35"/><circle cx="211.8" cy="221.76" r="1.35"/><circle cx="212.61" cy="221.78" r="1.35"/><circle cx="213.42" cy="221.8" r="1.35"/><circle cx="214.23" cy="221.82" r="1.35"/><circle cx="215.04" cy="221.84" r="1.35"/><circle cx="215.85" cy="221.85" r="1.35"/><circle cx="216.66" cy="221.87" r="1.35"/><circle cx="217.47" cy="221.88" r="1.35"/><circle cx="218.28" cy="221.9" r="1.35"/><circle cx="219.09" cy="221.91" r="1.35"/><circle cx="219.9" cy="221.92" r="1.35"/><circle cx="220.71" cy="221.94" r="1.35"/><circle cx="221.52" cy="221.95" r="1.35"/><circle cx="222.33" cy="221.96" r="1.35"/><circle cx="223.14" cy="221.97" r="1.35"/><circle cx="223.95" cy="221.99" r="1.35"/><circle cx="224.76" cy="222" r="1.35"/><circle cx="225.57" cy="222.01" r="1.35"/><circle cx="226.38" cy="222.02" r="1.35"/><circle cx="227.18" cy="222.03" r="1.35"/><circle cx="227.99" cy="222.04" r="1.35"/><circle cx="228.8" cy="222.05" r="1.35"/><circle cx="229.61" cy="222.06" r="1.35"/><circle cx="230.42" cy="222.07" r="1.35"/><circle cx="231.23" cy="222.08" r="1.35"/><circle cx="232.04" cy="222.09" r="1.35"/><circle cx="232.85" cy="222.1" r="1.35"/><circle cx="233.66" cy="222.11" r="1.35"/><circle cx="234.47" cy="222.13" r="1.35"/><circle cx="235.28" cy="222.14" r="1.35"/><circle cx="236.09" cy="222.15" r="1.35"/><circle cx="236.9" cy="222.16" r="1.35"/><circle cx="237.71" cy="222.18" r="1.35"/></g>
</g>
<text x="78.1" y="288.7" font-size="8.4" text-anchor="start" fill="#383838" >N<tspan font-size="72%" dy="2.6">2</tspan><tspan dy="-2.6">&#8203;</tspan></text>
<text x="71.1" y="315.5" font-size="8.4" text-anchor="start" fill="#383838" >CO<tspan font-size="72%" dy="2.6">2</tspan><tspan dy="-2.6">&#8203;</tspan></text>
<line x1="90.2" y1="281.6" x2="106.8" y2="281.6" stroke="#151515" stroke-width="0.8" />
<circle cx="98.5" cy="281.6" r="1.1" fill="#151515"/>
<line x1="90.2" y1="291.4" x2="106.8" y2="291.4" stroke="#2e5fc2" stroke-width="0.8" stroke-dasharray="2.2,1.4"/>
<circle cx="98.5" cy="291.4" r="1.0" fill="#2e5fc2"/>
<line x1="89.2" y1="309.3" x2="106.8" y2="309.3" stroke="#f02020" stroke-width="0.8" />
<circle cx="98.5" cy="309.3" r="1.1" fill="#f02020"/>
<line x1="89.2" y1="316.5" x2="106.8" y2="316.5" stroke="#2f8a3a" stroke-width="0.8" stroke-dasharray="2.2,1.4"/>
<circle cx="98.5" cy="316.5" r="1.0" fill="#2f8a3a"/>
<text x="110.8" y="283.9" font-size="8.2" text-anchor="start" fill="#383838" textLength="18.5" lengthAdjust="spacingAndGlyphs" >(dry)</text>
<text x="110.8" y="293.5" font-size="8.2" text-anchor="start" fill="#383838" textLength="20" lengthAdjust="spacingAndGlyphs" >(wet)</text>
<text x="110.8" y="311.2" font-size="8.2" text-anchor="start" fill="#383838" textLength="18.5" lengthAdjust="spacingAndGlyphs" >(dry)</text>
<text x="110.8" y="320.3" font-size="8.2" text-anchor="start" fill="#383838" textLength="20" lengthAdjust="spacingAndGlyphs" >(wet)</text>
<text x="179.1" y="288.7" font-size="8.4" text-anchor="start" fill="#383838" >N<tspan font-size="72%" dy="2.6">2</tspan><tspan dy="-2.6">&#8203;</tspan></text>
<text x="172.1" y="315.5" font-size="8.4" text-anchor="start" fill="#383838" >CO<tspan font-size="72%" dy="2.6">2</tspan><tspan dy="-2.6">&#8203;</tspan></text>
<line x1="192.5" y1="283.4" x2="208.5" y2="283.4" stroke="#151515" stroke-width="0.8" />
<circle cx="200.5" cy="283.4" r="1.1" fill="#151515"/>
<line x1="192.5" y1="293.3" x2="208.5" y2="293.3" stroke="#2e5fc2" stroke-width="0.8" stroke-dasharray="2.2,1.4"/>
<circle cx="200.5" cy="293.3" r="1.0" fill="#2e5fc2"/>
<line x1="191.5" y1="311.1" x2="208.5" y2="311.1" stroke="#f02020" stroke-width="0.8" />
<circle cx="200.5" cy="311.1" r="1.1" fill="#f02020"/>
<line x1="191.5" y1="318.4" x2="208.5" y2="318.4" stroke="#2f8a3a" stroke-width="0.8" stroke-dasharray="2.2,1.4"/>
<circle cx="200.5" cy="318.4" r="1.0" fill="#2f8a3a"/>
<text x="212.8" y="285.7" font-size="8.2" text-anchor="start" fill="#383838" textLength="18.5" lengthAdjust="spacingAndGlyphs" >(dry)</text>
<text x="212.8" y="295.4" font-size="8.2" text-anchor="start" fill="#383838" textLength="20" lengthAdjust="spacingAndGlyphs" >(wet)</text>
<text x="212.8" y="313" font-size="8.2" text-anchor="start" fill="#383838" textLength="18.5" lengthAdjust="spacingAndGlyphs" >(dry)</text>
<text x="212.8" y="322.2" font-size="8.2" text-anchor="start" fill="#383838" textLength="20" lengthAdjust="spacingAndGlyphs" >(wet)</text>
<text x="0.1" y="191.9" font-size="12.4" text-anchor="start" fill="#111" font-weight="bold" stroke="#111" stroke-width="0.6">d</text>
<rect x="287.3" y="193.4" width="168.3" height="142.8" fill="none" stroke="#7a7a7a" stroke-width="0.8"/>
<line x1="287.2" y1="336.2" x2="287.2" y2="338.8" stroke="#7a7a7a" stroke-width="0.8" />
<line x1="329.3" y1="336.2" x2="329.3" y2="338.8" stroke="#7a7a7a" stroke-width="0.8" />
<line x1="371.4" y1="336.2" x2="371.4" y2="338.8" stroke="#7a7a7a" stroke-width="0.8" />
<line x1="413.5" y1="336.2" x2="413.5" y2="338.8" stroke="#7a7a7a" stroke-width="0.8" />
<line x1="455.6" y1="336.2" x2="455.6" y2="338.8" stroke="#7a7a7a" stroke-width="0.8" />
<line x1="308.25" y1="336.2" x2="308.25" y2="337.7" stroke="#7a7a7a" stroke-width="0.8" />
<line x1="350.35" y1="336.2" x2="350.35" y2="337.7" stroke="#7a7a7a" stroke-width="0.8" />
<line x1="392.45" y1="336.2" x2="392.45" y2="337.7" stroke="#7a7a7a" stroke-width="0.8" />
<line x1="434.55" y1="336.2" x2="434.55" y2="337.7" stroke="#7a7a7a" stroke-width="0.8" />
<line x1="287.3" y1="326.8" x2="284.7" y2="326.8" stroke="#7a7a7a" stroke-width="0.8" />
<line x1="287.3" y1="288.6" x2="284.7" y2="288.6" stroke="#7a7a7a" stroke-width="0.8" />
<line x1="287.3" y1="250.4" x2="284.7" y2="250.4" stroke="#7a7a7a" stroke-width="0.8" />
<line x1="287.3" y1="212.2" x2="284.7" y2="212.2" stroke="#7a7a7a" stroke-width="0.8" />
<line x1="287.3" y1="307.7" x2="285.8" y2="307.7" stroke="#7a7a7a" stroke-width="0.8" />
<line x1="287.3" y1="269.5" x2="285.8" y2="269.5" stroke="#7a7a7a" stroke-width="0.8" />
<line x1="287.3" y1="231.3" x2="285.8" y2="231.3" stroke="#7a7a7a" stroke-width="0.8" />
<text x="287.2" y="348" font-size="8.4" text-anchor="middle" fill="#383838" textLength="4.3" lengthAdjust="spacingAndGlyphs" >0</text>
<text x="329.3" y="348" font-size="8.4" text-anchor="middle" fill="#383838" textLength="4.3" lengthAdjust="spacingAndGlyphs" >5</text>
<text x="371.4" y="348" font-size="8.4" text-anchor="middle" fill="#383838" textLength="7.54" lengthAdjust="spacingAndGlyphs" >10</text>
<text x="413.5" y="348" font-size="8.4" text-anchor="middle" fill="#383838" textLength="7.54" lengthAdjust="spacingAndGlyphs" >15</text>
<text x="455.6" y="348" font-size="8.4" text-anchor="middle" fill="#383838" textLength="8.6" lengthAdjust="spacingAndGlyphs" >20</text>
<text x="281.3" y="329.55" font-size="8.4" text-anchor="end" fill="#383838" textLength="4.3" lengthAdjust="spacingAndGlyphs" >0</text>
<text x="281.3" y="291.35" font-size="8.4" text-anchor="end" fill="#383838" textLength="11.15" lengthAdjust="spacingAndGlyphs" >0.2</text>
<text x="281.3" y="253.15" font-size="8.4" text-anchor="end" fill="#383838" textLength="11.15" lengthAdjust="spacingAndGlyphs" >0.4</text>
<text x="281.3" y="214.95" font-size="8.4" text-anchor="end" fill="#383838" textLength="11.15" lengthAdjust="spacingAndGlyphs" >0.6</text>
<text x="371.4" y="359.8" font-size="8.6" text-anchor="middle" fill="#383838" textLength="55.5" lengthAdjust="spacingAndGlyphs" >Time (min g<tspan font-size="70%" dy="-2.8">-1</tspan><tspan dy="2.8">&#8203;</tspan>)</text>
<text x="264.8" y="264.9" font-size="8.6" text-anchor="middle" fill="#383838" textLength="131.8" lengthAdjust="spacingAndGlyphs" transform="rotate(-90 264.8 264.9)" >CO<tspan font-size="68%" dy="2.9">2</tspan><tspan dy="-2.9">&#8203;</tspan> capture capacity (mmol g<tspan font-size="70%" dy="-2.8">-1</tspan><tspan dy="2.8">&#8203;</tspan>)</text>
<clipPath id="cpe"><rect x="287.3" y="193.4" width="168.3" height="142.8"/></clipPath><g clip-path="url(#cpe)">
<path d="M287.2,331.38 C290.13,326.93 299.89,311.77 304.8,304.64 C309.71,297.51 313.91,292.17 316.67,288.6 C319.43,285.03 318.93,285.54 321.39,283.25 C323.84,280.96 326.77,277.71 331.4,274.85 C336.04,271.98 342.32,268.7 349.17,266.06 C356.02,263.42 361.77,261.61 372.49,259 C383.22,256.38 399.65,252.56 413.5,250.4 C427.35,248.24 448.58,246.74 455.6,246.01" fill="none" stroke="#ef3b3f" stroke-width="1.0" stroke-dasharray="2.2,1.3" />
<path d="M287.2,328.14 C289.71,324.22 299.18,309.26 302.27,304.64 C305.36,300.03 304.53,301.59 305.72,300.44 C306.92,299.3 308.03,298.63 309.43,297.77 C310.83,296.91 312.24,296.18 314.14,295.29 C316.05,294.39 318.16,293.41 320.88,292.42 C323.6,291.43 326.83,290.32 330.48,289.36 C334.13,288.41 338.48,287.49 342.77,286.69 C347.07,285.89 350.21,285.29 356.24,284.59 C362.28,283.89 369.44,283.06 378.98,282.49 C388.52,281.92 400.73,281.47 413.5,281.15 C426.27,280.83 448.58,280.67 455.6,280.58" fill="none" stroke="#343c8c" stroke-width="1.0" stroke-dasharray="2.2,1.3" />
<path d="M287.2,331.38 C290.13,326.93 299.1,312.76 304.8,304.64 C310.5,296.53 317.79,287.65 321.39,282.68 C324.98,277.71 324.68,277.3 326.35,274.85 C328.02,272.4 329.72,270.2 331.4,267.97 C333.09,265.74 333.5,264.31 336.46,261.48 C339.42,258.64 344.96,253.71 349.17,250.97 C353.38,248.24 357.83,246.52 361.72,245.05 C365.6,243.59 368.07,243.01 372.49,242.19 C376.92,241.36 381.41,240.69 388.24,240.09 C395.07,239.48 402.27,238.94 413.5,238.56 C424.73,238.18 448.58,237.92 455.6,237.79" fill="none" stroke="#ef3b3f" stroke-width="1.0" />
<path d="M287.2,328.14 C289.71,324.22 297.02,312.35 302.27,304.64 C307.52,296.94 315.1,286.82 318.69,281.92 C322.28,277.01 321.92,277.3 323.83,275.23 C325.74,273.16 328.46,271 330.14,269.5 C331.83,268 331.18,267.81 333.93,266.25 C336.68,264.69 340.22,261.76 346.65,260.14 C353.07,258.52 365.14,257.21 372.49,256.51 C379.85,255.81 376.92,255.91 390.77,255.94 C404.62,255.97 444.79,256.58 455.6,256.7" fill="none" stroke="#343c8c" stroke-width="1.0" />
</g>
<text x="334.7" y="211.6" font-size="8.3" text-anchor="end" fill="#383838" textLength="35.5" lengthAdjust="spacingAndGlyphs" >(+)-NDI-&#916;</text>
<text x="334.7" y="223.9" font-size="8.3" text-anchor="end" fill="#383838" textLength="24.8" lengthAdjust="spacingAndGlyphs" >P4-<tspan font-style="italic">am</tspan></text>
<line x1="338.1" y1="208.4" x2="354.4" y2="208.4" stroke="#ef3b3f" stroke-width="1.0" />
<line x1="338.1" y1="221.4" x2="354.4" y2="221.4" stroke="#343c8c" stroke-width="1.0" />
<line x1="379.1" y1="208.4" x2="395" y2="208.4" stroke="#ef3b3f" stroke-width="1.0" stroke-dasharray="2.2,1.3"/>
<line x1="379.1" y1="221.4" x2="395" y2="221.4" stroke="#343c8c" stroke-width="1.0" stroke-dasharray="2.2,1.3"/>
<text x="358.5" y="211.6" font-size="8.3" text-anchor="start" fill="#383838" textLength="18.5" lengthAdjust="spacingAndGlyphs" >(dry)</text>
<text x="398.7" y="211.6" font-size="8.3" text-anchor="start" fill="#383838" textLength="19.7" lengthAdjust="spacingAndGlyphs" >(wet)</text>
<text x="358.5" y="223.9" font-size="8.3" text-anchor="start" fill="#383838" textLength="18.5" lengthAdjust="spacingAndGlyphs" >(dry)</text>
<text x="398.7" y="223.9" font-size="8.3" text-anchor="start" fill="#383838" textLength="19.7" lengthAdjust="spacingAndGlyphs" >(wet)</text>
<text x="253.3" y="191.9" font-size="12.4" text-anchor="start" fill="#111" font-weight="bold" stroke="#111" stroke-width="0.6">e</text>
<rect x="508.6" y="196.4" width="175.7" height="139.8" fill="none" stroke="#7a7a7a" stroke-width="0.8"/>
<line x1="508.6" y1="336.2" x2="506" y2="336.2" stroke="#7a7a7a" stroke-width="0.8" />
<line x1="508.6" y1="305.5" x2="506" y2="305.5" stroke="#7a7a7a" stroke-width="0.8" />
<line x1="508.6" y1="274.8" x2="506" y2="274.8" stroke="#7a7a7a" stroke-width="0.8" />
<line x1="508.6" y1="244.1" x2="506" y2="244.1" stroke="#7a7a7a" stroke-width="0.8" />
<line x1="508.6" y1="320.85" x2="507.1" y2="320.85" stroke="#7a7a7a" stroke-width="0.8" />
<line x1="508.6" y1="290.15" x2="507.1" y2="290.15" stroke="#7a7a7a" stroke-width="0.8" />
<line x1="508.6" y1="259.45" x2="507.1" y2="259.45" stroke="#7a7a7a" stroke-width="0.8" />
<line x1="508.6" y1="234.7" x2="506" y2="234.7" stroke="#7a7a7a" stroke-width="0.8" />
<line x1="508.6" y1="204.5" x2="506" y2="204.5" stroke="#7a7a7a" stroke-width="0.8" />
<line x1="508.6" y1="219.6" x2="507.1" y2="219.6" stroke="#7a7a7a" stroke-width="0.8" />
<text x="503.3" y="338.95" font-size="8.4" text-anchor="end" fill="#383838" textLength="4.3" lengthAdjust="spacingAndGlyphs" >0</text>
<text x="503.3" y="308.25" font-size="8.4" text-anchor="end" fill="#383838" textLength="11.15" lengthAdjust="spacingAndGlyphs" >0.2</text>
<text x="503.3" y="277.55" font-size="8.4" text-anchor="end" fill="#383838" textLength="11.15" lengthAdjust="spacingAndGlyphs" >0.4</text>
<text x="503.3" y="246.85" font-size="8.4" text-anchor="end" fill="#383838" textLength="11.15" lengthAdjust="spacingAndGlyphs" >0.6</text>
<text x="503.3" y="237.45" font-size="8.4" text-anchor="end" fill="#383838" textLength="11.15" lengthAdjust="spacingAndGlyphs" >3.0</text>
<text x="503.3" y="207.25" font-size="8.4" text-anchor="end" fill="#383838" textLength="11.15" lengthAdjust="spacingAndGlyphs" >3.2</text>
<rect x="505.5" y="235.6" width="6" height="2.6" fill="#fff" transform="skewY(0)"/>
<line x1="505.6" y1="237" x2="511.4" y2="234.2" stroke="#7a7a7a" stroke-width="0.8" />
<line x1="505.6" y1="239.4" x2="511.4" y2="236.6" stroke="#7a7a7a" stroke-width="0.8" />
<text x="596.8" y="359.8" font-size="8.6" text-anchor="middle" fill="#383838" textLength="103.4" lengthAdjust="spacingAndGlyphs" >Number of cycles (humid)</text>
<text x="483.4" y="265.2" font-size="8.6" text-anchor="middle" fill="#383838" textLength="134.8" lengthAdjust="spacingAndGlyphs" transform="rotate(-90 483.4 265.2)" >CO<tspan font-size="68%" dy="2.9">2</tspan><tspan dy="-2.9">&#8203;</tspan> working capacity (mmol g<tspan font-size="70%" dy="-2.8">-1</tspan><tspan dy="2.8">&#8203;</tspan>)</text>
<rect x="510.8" y="281.71" width="3.05" height="54.49" fill="#8692d2" stroke="#2f3a7a" stroke-width="0.5" stroke-opacity="0.6"/>
<rect x="513.85" y="263.75" width="3.05" height="72.45" fill="#f2967c" stroke="#8a2e1c" stroke-width="0.5" stroke-opacity="0.6"/>
<rect x="516.9" y="254.54" width="3.05" height="81.66" fill="#8ab287" stroke="#2c4d2c" stroke-width="0.5" stroke-opacity="0.6"/>
<rect x="519.95" y="216.58" width="3.05" height="17.62" fill="#c0a8e0"/>
<rect x="519.95" y="237.2" width="3.05" height="99" fill="#c0a8e0"/>
<pattern id="hatch" width="2" height="2" patternUnits="userSpaceOnUse"><rect width="1" height="1" fill="#fff" fill-opacity="0.35"/><rect x="1" y="1" width="1" height="1" fill="#fff" fill-opacity="0.35"/></pattern>
<rect x="532.3" y="299.82" width="3.05" height="36.38" fill="#5a6ac0" stroke="#2f3a7a" stroke-width="0.5" stroke-opacity="0.7"/>
<rect x="535.35" y="266.66" width="3.05" height="69.54" fill="#ee5e3e" stroke="#8a2e1c" stroke-width="0.5" stroke-opacity="0.7"/>
<rect x="538.4" y="281.25" width="3.05" height="54.95" fill="#5f9360" stroke="#2c4d2c" stroke-width="0.5" stroke-opacity="0.7"/>
<rect x="541.45" y="318.55" width="3.05" height="17.65" fill="#9a78c6" stroke="#5d4a80" stroke-width="0.5" stroke-opacity="0.7"/>
<rect x="547.83" y="299.82" width="3.05" height="36.38" fill="#5a6ac0" stroke="#2f3a7a" stroke-width="0.5" stroke-opacity="0.7"/>
<rect x="550.88" y="270.96" width="3.05" height="65.24" fill="#ee5e3e" stroke="#8a2e1c" stroke-width="0.5" stroke-opacity="0.7"/>
<rect x="553.93" y="282.32" width="3.05" height="53.88" fill="#5f9360" stroke="#2c4d2c" stroke-width="0.5" stroke-opacity="0.7"/>
<rect x="556.98" y="318.55" width="3.05" height="17.65" fill="#9a78c6" stroke="#5d4a80" stroke-width="0.5" stroke-opacity="0.7"/>
<rect x="563.36" y="299.82" width="3.05" height="36.38" fill="#5a6ac0" stroke="#2f3a7a" stroke-width="0.5" stroke-opacity="0.7"/>
<rect x="566.41" y="270.96" width="3.05" height="65.24" fill="#ee5e3e" stroke="#8a2e1c" stroke-width="0.5" stroke-opacity="0.7"/>
<rect x="569.46" y="283.24" width="3.05" height="52.96" fill="#5f9360" stroke="#2c4d2c" stroke-width="0.5" stroke-opacity="0.7"/>
<rect x="572.51" y="318.55" width="3.05" height="17.65" fill="#9a78c6" stroke="#5d4a80" stroke-width="0.5" stroke-opacity="0.7"/>
<rect x="578.89" y="299.82" width="3.05" height="36.38" fill="#5a6ac0" stroke="#2f3a7a" stroke-width="0.5" stroke-opacity="0.7"/>
<rect x="581.94" y="270.96" width="3.05" height="65.24" fill="#ee5e3e" stroke="#8a2e1c" stroke-width="0.5" stroke-opacity="0.7"/>
<rect x="584.99" y="285.08" width="3.05" height="51.12" fill="#5f9360" stroke="#2c4d2c" stroke-width="0.5" stroke-opacity="0.7"/>
<rect x="588.04" y="318.55" width="3.05" height="17.65" fill="#9a78c6" stroke="#5d4a80" stroke-width="0.5" stroke-opacity="0.7"/>
<rect x="594.42" y="299.82" width="3.05" height="36.38" fill="#5a6ac0" stroke="#2f3a7a" stroke-width="0.5" stroke-opacity="0.7"/>
<rect x="597.47" y="270.96" width="3.05" height="65.24" fill="#ee5e3e" stroke="#8a2e1c" stroke-width="0.5" stroke-opacity="0.7"/>
<rect x="600.52" y="287.08" width="3.05" height="49.12" fill="#5f9360" stroke="#2c4d2c" stroke-width="0.5" stroke-opacity="0.7"/>
<rect x="603.57" y="318.55" width="3.05" height="17.65" fill="#9a78c6" stroke="#5d4a80" stroke-width="0.5" stroke-opacity="0.7"/>
<rect x="609.95" y="299.82" width="3.05" height="36.38" fill="#5a6ac0" stroke="#2f3a7a" stroke-width="0.5" stroke-opacity="0.7"/>
<rect x="613" y="270.96" width="3.05" height="65.24" fill="#ee5e3e" stroke="#8a2e1c" stroke-width="0.5" stroke-opacity="0.7"/>
<rect x="616.05" y="288.15" width="3.05" height="48.05" fill="#5f9360" stroke="#2c4d2c" stroke-width="0.5" stroke-opacity="0.7"/>
<rect x="619.1" y="318.55" width="3.05" height="17.65" fill="#9a78c6" stroke="#5d4a80" stroke-width="0.5" stroke-opacity="0.7"/>
<rect x="625.48" y="299.82" width="3.05" height="36.38" fill="#5a6ac0" stroke="#2f3a7a" stroke-width="0.5" stroke-opacity="0.7"/>
<rect x="628.53" y="270.96" width="3.05" height="65.24" fill="#ee5e3e" stroke="#8a2e1c" stroke-width="0.5" stroke-opacity="0.7"/>
<rect x="631.58" y="289.54" width="3.05" height="46.66" fill="#5f9360" stroke="#2c4d2c" stroke-width="0.5" stroke-opacity="0.7"/>
<rect x="634.63" y="318.55" width="3.05" height="17.65" fill="#9a78c6" stroke="#5d4a80" stroke-width="0.5" stroke-opacity="0.7"/>
<rect x="641.01" y="299.82" width="3.05" height="36.38" fill="#5a6ac0" stroke="#2f3a7a" stroke-width="0.5" stroke-opacity="0.7"/>
<rect x="644.06" y="270.96" width="3.05" height="65.24" fill="#ee5e3e" stroke="#8a2e1c" stroke-width="0.5" stroke-opacity="0.7"/>
<rect x="647.11" y="290" width="3.05" height="46.2" fill="#5f9360" stroke="#2c4d2c" stroke-width="0.5" stroke-opacity="0.7"/>
<rect x="650.16" y="318.55" width="3.05" height="17.65" fill="#9a78c6" stroke="#5d4a80" stroke-width="0.5" stroke-opacity="0.7"/>
<rect x="656.54" y="299.82" width="3.05" height="36.38" fill="#5a6ac0" stroke="#2f3a7a" stroke-width="0.5" stroke-opacity="0.7"/>
<rect x="659.59" y="270.96" width="3.05" height="65.24" fill="#ee5e3e" stroke="#8a2e1c" stroke-width="0.5" stroke-opacity="0.7"/>
<rect x="662.64" y="290.46" width="3.05" height="45.74" fill="#5f9360" stroke="#2c4d2c" stroke-width="0.5" stroke-opacity="0.7"/>
<rect x="665.69" y="318.55" width="3.05" height="17.65" fill="#9a78c6" stroke="#5d4a80" stroke-width="0.5" stroke-opacity="0.7"/>
<rect x="672.07" y="299.82" width="3.05" height="36.38" fill="#5a6ac0" stroke="#2f3a7a" stroke-width="0.5" stroke-opacity="0.7"/>
<rect x="675.12" y="270.96" width="3.05" height="65.24" fill="#ee5e3e" stroke="#8a2e1c" stroke-width="0.5" stroke-opacity="0.7"/>
<rect x="678.17" y="291.07" width="3.05" height="45.13" fill="#5f9360" stroke="#2c4d2c" stroke-width="0.5" stroke-opacity="0.7"/>
<rect x="681.22" y="318.55" width="3.05" height="17.65" fill="#9a78c6" stroke="#5d4a80" stroke-width="0.5" stroke-opacity="0.7"/>
<line x1="516.8" y1="336.2" x2="516.8" y2="337.7" stroke="#7a7a7a" stroke-width="0.8" />
<line x1="538.4" y1="336.2" x2="538.4" y2="337.7" stroke="#7a7a7a" stroke-width="0.8" />
<line x1="553.93" y1="336.2" x2="553.93" y2="337.7" stroke="#7a7a7a" stroke-width="0.8" />
<line x1="569.46" y1="336.2" x2="569.46" y2="337.7" stroke="#7a7a7a" stroke-width="0.8" />
<line x1="584.99" y1="336.2" x2="584.99" y2="337.7" stroke="#7a7a7a" stroke-width="0.8" />
<line x1="600.52" y1="336.2" x2="600.52" y2="337.7" stroke="#7a7a7a" stroke-width="0.8" />
<line x1="616.05" y1="336.2" x2="616.05" y2="337.7" stroke="#7a7a7a" stroke-width="0.8" />
<line x1="631.58" y1="336.2" x2="631.58" y2="337.7" stroke="#7a7a7a" stroke-width="0.8" />
<line x1="647.11" y1="336.2" x2="647.11" y2="337.7" stroke="#7a7a7a" stroke-width="0.8" />
<line x1="662.64" y1="336.2" x2="662.64" y2="337.7" stroke="#7a7a7a" stroke-width="0.8" />
<line x1="678.17" y1="336.2" x2="678.17" y2="337.7" stroke="#7a7a7a" stroke-width="0.8" />
<text x="516.6" y="348" font-size="8.6" text-anchor="middle" fill="#383838" textLength="15.9" lengthAdjust="spacingAndGlyphs" >(dry)</text>
<text x="538.4" y="348" font-size="8.4" text-anchor="middle" fill="#383838" textLength="3.25" lengthAdjust="spacingAndGlyphs" >1</text>
<text x="553.93" y="348" font-size="8.4" text-anchor="middle" fill="#383838" textLength="4.3" lengthAdjust="spacingAndGlyphs" >2</text>
<text x="569.46" y="348" font-size="8.4" text-anchor="middle" fill="#383838" textLength="4.3" lengthAdjust="spacingAndGlyphs" >3</text>
<text x="584.99" y="348" font-size="8.4" text-anchor="middle" fill="#383838" textLength="4.3" lengthAdjust="spacingAndGlyphs" >4</text>
<text x="600.52" y="348" font-size="8.4" text-anchor="middle" fill="#383838" textLength="4.3" lengthAdjust="spacingAndGlyphs" >5</text>
<text x="616.05" y="348" font-size="8.4" text-anchor="middle" fill="#383838" textLength="4.3" lengthAdjust="spacingAndGlyphs" >6</text>
<text x="631.58" y="348" font-size="8.4" text-anchor="middle" fill="#383838" textLength="4.3" lengthAdjust="spacingAndGlyphs" >7</text>
<text x="647.11" y="348" font-size="8.4" text-anchor="middle" fill="#383838" textLength="4.3" lengthAdjust="spacingAndGlyphs" >8</text>
<text x="662.64" y="348" font-size="8.4" text-anchor="middle" fill="#383838" textLength="4.3" lengthAdjust="spacingAndGlyphs" >9</text>
<text x="678.17" y="348" font-size="8.4" text-anchor="middle" fill="#383838" textLength="7.54" lengthAdjust="spacingAndGlyphs" >10</text>
<rect x="554.1" y="201.7" width="7.9" height="7.6" fill="#5a6ac0" stroke="#333" stroke-width="0.5"/>
<text x="566.6" y="207.6" font-size="7.3" text-anchor="start" fill="#383838" textLength="30.4" lengthAdjust="spacingAndGlyphs" >(+)-NDI-&#916;</text>
<rect x="554.1" y="214" width="7.9" height="7.6" fill="#5f9360" stroke="#333" stroke-width="0.5"/>
<text x="566.6" y="219.9" font-size="7.3" text-anchor="start" fill="#383838" textLength="46.7" lengthAdjust="spacingAndGlyphs" >Carboxen 572</text>
<rect x="632.1" y="202" width="7.9" height="7.6" fill="#ee5e3e" stroke="#333" stroke-width="0.5"/>
<text x="644.6" y="207.9" font-size="7.3" text-anchor="start" fill="#383838" textLength="20.3" lengthAdjust="spacingAndGlyphs" >P4-<tspan font-style="italic">am</tspan></text>
<rect x="632.1" y="214" width="7.9" height="7.6" fill="#9a78c6" stroke="#333" stroke-width="0.5"/>
<text x="644.6" y="219.9" font-size="7.3" text-anchor="start" fill="#383838" textLength="36.8" lengthAdjust="spacingAndGlyphs" >Zeolite 13X</text>
<text x="474.9" y="191.6" font-size="12.4" text-anchor="start" fill="#111" font-weight="bold" stroke="#111" stroke-width="0.6">f</text>
</g></svg>
</body></html>
